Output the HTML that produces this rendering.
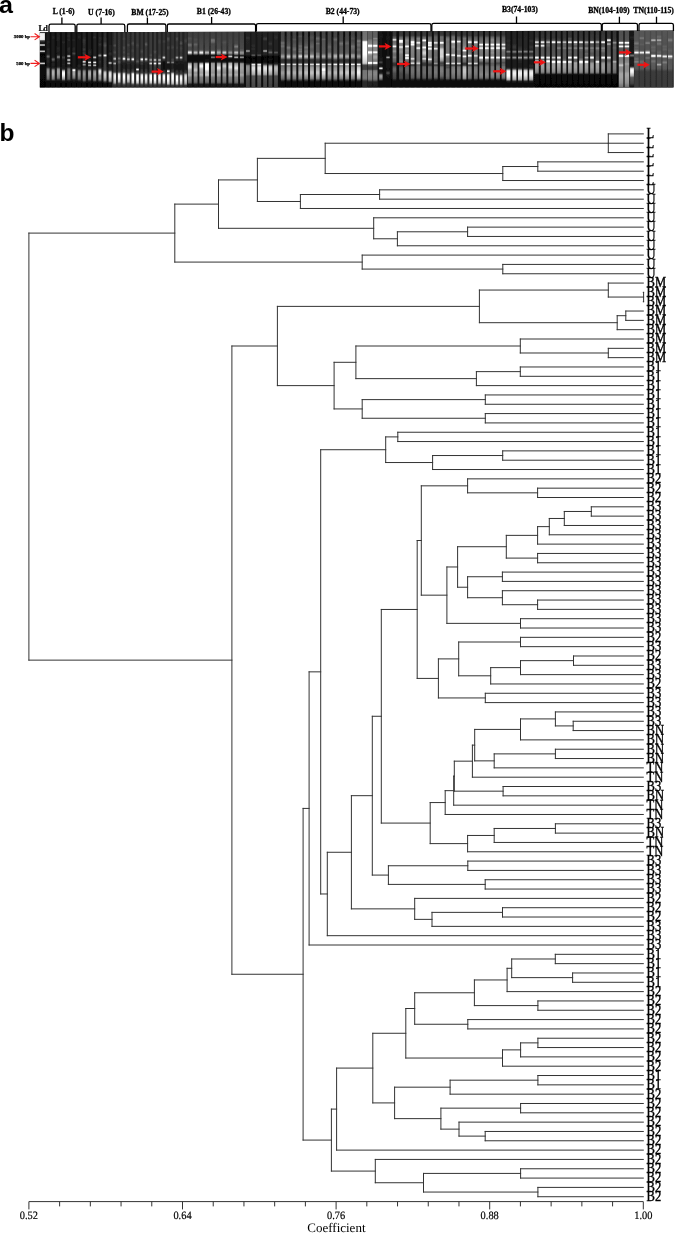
<!DOCTYPE html>
<html><head><meta charset="utf-8"><style>html,body{margin:0;padding:0;background:#fff;width:675px;height:1233px;overflow:hidden}svg{display:block;will-change:transform}text.gp{text-rendering:geometricPrecision}</style></head><body>
<svg width="675" height="1233" viewBox="0 0 675 1233">
<defs><linearGradient id="pg0" x1="0" y1="30.4" x2="0" y2="87.5" gradientUnits="userSpaceOnUse"><stop offset="0.000" stop-color="rgb(5,5,5)"/><stop offset="0.998" stop-color="rgb(5,5,5)"/></linearGradient><linearGradient id="pg1" x1="0" y1="30.4" x2="0" y2="87.5" gradientUnits="userSpaceOnUse"><stop offset="0.000" stop-color="rgb(16,16,16)"/><stop offset="0.490" stop-color="rgb(16,16,16)"/><stop offset="0.525" stop-color="rgb(11,11,11)"/><stop offset="0.595" stop-color="rgb(10,10,10)"/><stop offset="0.630" stop-color="rgb(12,12,12)"/><stop offset="0.665" stop-color="rgb(24,24,24)"/><stop offset="0.841" stop-color="rgb(24,24,24)"/><stop offset="0.876" stop-color="rgb(22,22,22)"/><stop offset="0.911" stop-color="rgb(8,8,8)"/><stop offset="0.928" stop-color="rgb(6,6,6)"/><stop offset="0.998" stop-color="rgb(6,6,6)"/></linearGradient><linearGradient id="pg2" x1="0" y1="30.4" x2="0" y2="87.5" gradientUnits="userSpaceOnUse"><stop offset="0.000" stop-color="rgb(32,32,32)"/><stop offset="0.560" stop-color="rgb(32,32,32)"/><stop offset="0.613" stop-color="rgb(20,20,20)"/><stop offset="0.665" stop-color="rgb(20,20,20)"/><stop offset="0.718" stop-color="rgb(23,23,23)"/><stop offset="0.736" stop-color="rgb(35,35,35)"/><stop offset="0.753" stop-color="rgb(39,39,39)"/><stop offset="0.946" stop-color="rgb(40,40,40)"/><stop offset="0.998" stop-color="rgb(32,32,32)"/></linearGradient><linearGradient id="pg3" x1="0" y1="30.4" x2="0" y2="87.5" gradientUnits="userSpaceOnUse"><stop offset="0.000" stop-color="rgb(52,52,52)"/><stop offset="0.210" stop-color="rgb(52,52,52)"/><stop offset="0.280" stop-color="rgb(46,46,46)"/><stop offset="0.403" stop-color="rgb(51,51,51)"/><stop offset="0.438" stop-color="rgb(14,14,14)"/><stop offset="0.455" stop-color="rgb(12,12,12)"/><stop offset="0.998" stop-color="rgb(12,12,12)"/></linearGradient><linearGradient id="pg4" x1="0" y1="30.4" x2="0" y2="87.5" gradientUnits="userSpaceOnUse"><stop offset="0.000" stop-color="rgb(26,26,26)"/><stop offset="0.298" stop-color="rgb(22,22,22)"/><stop offset="0.420" stop-color="rgb(25,25,25)"/><stop offset="0.455" stop-color="rgb(5,5,5)"/><stop offset="0.473" stop-color="rgb(4,4,4)"/><stop offset="0.560" stop-color="rgb(4,4,4)"/><stop offset="0.595" stop-color="rgb(16,16,16)"/><stop offset="0.998" stop-color="rgb(16,16,16)"/></linearGradient><linearGradient id="pg5" x1="0" y1="30.4" x2="0" y2="87.5" gradientUnits="userSpaceOnUse"><stop offset="0.000" stop-color="rgb(14,14,14)"/><stop offset="0.175" stop-color="rgb(20,20,20)"/><stop offset="0.438" stop-color="rgb(20,20,20)"/><stop offset="0.578" stop-color="rgb(15,15,15)"/><stop offset="0.823" stop-color="rgb(14,14,14)"/><stop offset="0.876" stop-color="rgb(6,6,6)"/><stop offset="0.998" stop-color="rgb(6,6,6)"/></linearGradient><linearGradient id="pg6" x1="0" y1="30.4" x2="0" y2="87.5" gradientUnits="userSpaceOnUse"><stop offset="0.000" stop-color="rgb(45,45,45)"/><stop offset="0.543" stop-color="rgb(45,45,45)"/><stop offset="0.578" stop-color="rgb(39,39,39)"/><stop offset="0.595" stop-color="rgb(28,28,28)"/><stop offset="0.630" stop-color="rgb(20,20,20)"/><stop offset="0.998" stop-color="rgb(20,20,20)"/></linearGradient><linearGradient id="pg7" x1="0" y1="30.4" x2="0" y2="87.5" gradientUnits="userSpaceOnUse"><stop offset="0.000" stop-color="rgb(8,8,8)"/><stop offset="0.998" stop-color="rgb(8,8,8)"/></linearGradient><linearGradient id="pg8" x1="0" y1="30.4" x2="0" y2="87.5" gradientUnits="userSpaceOnUse"><stop offset="0.000" stop-color="rgb(14,14,14)"/><stop offset="0.806" stop-color="rgb(14,14,14)"/><stop offset="0.858" stop-color="rgb(8,8,8)"/><stop offset="0.998" stop-color="rgb(8,8,8)"/></linearGradient><linearGradient id="pg9" x1="0" y1="30.4" x2="0" y2="87.5" gradientUnits="userSpaceOnUse"><stop offset="0.000" stop-color="rgb(14,14,14)"/><stop offset="0.998" stop-color="rgb(14,14,14)"/></linearGradient><linearGradient id="pg10" x1="0" y1="30.4" x2="0" y2="87.5" gradientUnits="userSpaceOnUse"><stop offset="0.000" stop-color="rgb(12,12,12)"/><stop offset="0.736" stop-color="rgb(12,12,12)"/><stop offset="0.788" stop-color="rgb(6,6,6)"/><stop offset="0.998" stop-color="rgb(6,6,6)"/></linearGradient><linearGradient id="pg11" x1="0" y1="30.4" x2="0" y2="87.5" gradientUnits="userSpaceOnUse"><stop offset="0.000" stop-color="rgb(18,18,18)"/><stop offset="0.998" stop-color="rgb(18,18,18)"/></linearGradient><linearGradient id="pg12" x1="0" y1="30.4" x2="0" y2="87.5" gradientUnits="userSpaceOnUse"><stop offset="0.000" stop-color="rgb(72,72,72)"/><stop offset="0.263" stop-color="rgb(72,72,72)"/><stop offset="0.403" stop-color="rgb(63,63,63)"/><stop offset="0.560" stop-color="rgb(61,61,61)"/><stop offset="0.701" stop-color="rgb(41,41,41)"/><stop offset="0.998" stop-color="rgb(40,40,40)"/></linearGradient><linearGradient id="lg0" x1="0" y1="30.4" x2="0" y2="87.5" gradientUnits="userSpaceOnUse"><stop offset="0.000" stop-color="rgb(6,6,6)"/><stop offset="0.026" stop-color="rgb(12,12,12)"/><stop offset="0.035" stop-color="rgb(45,45,45)"/><stop offset="0.044" stop-color="rgb(147,147,147)"/><stop offset="0.053" stop-color="rgb(221,221,221)"/><stop offset="0.061" stop-color="rgb(238,238,238)"/><stop offset="0.114" stop-color="rgb(241,241,241)"/><stop offset="0.158" stop-color="rgb(237,237,237)"/><stop offset="0.166" stop-color="rgb(208,208,208)"/><stop offset="0.175" stop-color="rgb(118,118,118)"/><stop offset="0.184" stop-color="rgb(57,57,57)"/><stop offset="0.201" stop-color="rgb(42,42,42)"/><stop offset="0.219" stop-color="rgb(17,17,17)"/><stop offset="0.228" stop-color="rgb(18,18,18)"/><stop offset="0.236" stop-color="rgb(55,55,55)"/><stop offset="0.245" stop-color="rgb(144,144,144)"/><stop offset="0.254" stop-color="rgb(218,218,218)"/><stop offset="0.263" stop-color="rgb(182,182,182)"/><stop offset="0.271" stop-color="rgb(85,85,85)"/><stop offset="0.280" stop-color="rgb(25,25,25)"/><stop offset="0.289" stop-color="rgb(8,8,8)"/><stop offset="0.333" stop-color="rgb(8,8,8)"/><stop offset="0.342" stop-color="rgb(24,24,24)"/><stop offset="0.350" stop-color="rgb(80,80,80)"/><stop offset="0.359" stop-color="rgb(170,170,170)"/><stop offset="0.368" stop-color="rgb(204,204,204)"/><stop offset="0.377" stop-color="rgb(134,134,134)"/><stop offset="0.385" stop-color="rgb(51,51,51)"/><stop offset="0.394" stop-color="rgb(14,14,14)"/><stop offset="0.412" stop-color="rgb(6,6,6)"/><stop offset="0.543" stop-color="rgb(8,8,8)"/><stop offset="0.552" stop-color="rgb(19,19,19)"/><stop offset="0.560" stop-color="rgb(67,67,67)"/><stop offset="0.569" stop-color="rgb(160,160,160)"/><stop offset="0.578" stop-color="rgb(216,216,216)"/><stop offset="0.587" stop-color="rgb(160,160,160)"/><stop offset="0.595" stop-color="rgb(67,67,67)"/><stop offset="0.604" stop-color="rgb(19,19,19)"/><stop offset="0.613" stop-color="rgb(8,8,8)"/><stop offset="0.998" stop-color="rgb(6,6,6)"/></linearGradient><linearGradient id="lg1" x1="0" y1="30.4" x2="0" y2="87.5" gradientUnits="userSpaceOnUse"><stop offset="0.000" stop-color="rgb(26,26,26)"/><stop offset="0.166" stop-color="rgb(26,26,26)"/><stop offset="0.193" stop-color="rgb(34,34,34)"/><stop offset="0.298" stop-color="rgb(26,26,26)"/><stop offset="0.333" stop-color="rgb(37,37,37)"/><stop offset="0.412" stop-color="rgb(32,32,32)"/><stop offset="0.429" stop-color="rgb(52,52,52)"/><stop offset="0.447" stop-color="rgb(94,94,94)"/><stop offset="0.455" stop-color="rgb(106,106,106)"/><stop offset="0.464" stop-color="rgb(101,101,101)"/><stop offset="0.490" stop-color="rgb(43,43,43)"/><stop offset="0.499" stop-color="rgb(36,36,36)"/><stop offset="0.552" stop-color="rgb(39,39,39)"/><stop offset="0.587" stop-color="rgb(28,28,28)"/><stop offset="0.622" stop-color="rgb(27,27,27)"/><stop offset="0.639" stop-color="rgb(36,36,36)"/><stop offset="0.648" stop-color="rgb(49,49,49)"/><stop offset="0.674" stop-color="rgb(121,121,121)"/><stop offset="0.683" stop-color="rgb(133,133,133)"/><stop offset="0.701" stop-color="rgb(145,145,145)"/><stop offset="0.736" stop-color="rgb(151,151,151)"/><stop offset="0.771" stop-color="rgb(144,144,144)"/><stop offset="0.841" stop-color="rgb(112,112,112)"/><stop offset="0.858" stop-color="rgb(89,89,89)"/><stop offset="0.876" stop-color="rgb(42,42,42)"/><stop offset="0.893" stop-color="rgb(16,16,16)"/><stop offset="0.998" stop-color="rgb(10,10,10)"/></linearGradient><linearGradient id="lg2" x1="0" y1="30.4" x2="0" y2="87.5" gradientUnits="userSpaceOnUse"><stop offset="0.000" stop-color="rgb(26,26,26)"/><stop offset="0.079" stop-color="rgb(26,26,26)"/><stop offset="0.123" stop-color="rgb(37,37,37)"/><stop offset="0.158" stop-color="rgb(28,28,28)"/><stop offset="0.455" stop-color="rgb(27,27,27)"/><stop offset="0.473" stop-color="rgb(35,35,35)"/><stop offset="0.499" stop-color="rgb(88,88,88)"/><stop offset="0.508" stop-color="rgb(97,97,97)"/><stop offset="0.517" stop-color="rgb(90,90,90)"/><stop offset="0.543" stop-color="rgb(44,44,44)"/><stop offset="0.560" stop-color="rgb(31,31,31)"/><stop offset="0.604" stop-color="rgb(36,36,36)"/><stop offset="0.639" stop-color="rgb(29,29,29)"/><stop offset="0.657" stop-color="rgb(37,37,37)"/><stop offset="0.665" stop-color="rgb(53,53,53)"/><stop offset="0.692" stop-color="rgb(140,140,140)"/><stop offset="0.701" stop-color="rgb(156,156,156)"/><stop offset="0.718" stop-color="rgb(170,170,170)"/><stop offset="0.744" stop-color="rgb(176,176,176)"/><stop offset="0.779" stop-color="rgb(167,167,167)"/><stop offset="0.841" stop-color="rgb(130,130,130)"/><stop offset="0.858" stop-color="rgb(101,101,101)"/><stop offset="0.876" stop-color="rgb(46,46,46)"/><stop offset="0.884" stop-color="rgb(26,26,26)"/><stop offset="0.893" stop-color="rgb(17,17,17)"/><stop offset="0.998" stop-color="rgb(10,10,10)"/></linearGradient><linearGradient id="lg3" x1="0" y1="30.4" x2="0" y2="87.5" gradientUnits="userSpaceOnUse"><stop offset="0.000" stop-color="rgb(28,28,28)"/><stop offset="0.149" stop-color="rgb(39,39,39)"/><stop offset="0.193" stop-color="rgb(28,28,28)"/><stop offset="0.263" stop-color="rgb(28,28,28)"/><stop offset="0.315" stop-color="rgb(37,37,37)"/><stop offset="0.412" stop-color="rgb(29,29,29)"/><stop offset="0.429" stop-color="rgb(38,38,38)"/><stop offset="0.438" stop-color="rgb(54,54,54)"/><stop offset="0.455" stop-color="rgb(107,107,107)"/><stop offset="0.464" stop-color="rgb(123,123,123)"/><stop offset="0.473" stop-color="rgb(116,116,116)"/><stop offset="0.490" stop-color="rgb(63,63,63)"/><stop offset="0.508" stop-color="rgb(33,33,33)"/><stop offset="0.622" stop-color="rgb(29,29,29)"/><stop offset="0.639" stop-color="rgb(38,38,38)"/><stop offset="0.648" stop-color="rgb(53,53,53)"/><stop offset="0.674" stop-color="rgb(131,131,131)"/><stop offset="0.683" stop-color="rgb(145,145,145)"/><stop offset="0.701" stop-color="rgb(158,158,158)"/><stop offset="0.727" stop-color="rgb(163,163,163)"/><stop offset="0.762" stop-color="rgb(155,155,155)"/><stop offset="0.823" stop-color="rgb(122,122,122)"/><stop offset="0.841" stop-color="rgb(99,99,99)"/><stop offset="0.867" stop-color="rgb(37,37,37)"/><stop offset="0.893" stop-color="rgb(16,16,16)"/><stop offset="0.998" stop-color="rgb(10,10,10)"/></linearGradient><linearGradient id="lg4" x1="0" y1="30.4" x2="0" y2="87.5" gradientUnits="userSpaceOnUse"><stop offset="0.000" stop-color="rgb(26,26,26)"/><stop offset="0.166" stop-color="rgb(26,26,26)"/><stop offset="0.210" stop-color="rgb(38,38,38)"/><stop offset="0.245" stop-color="rgb(26,26,26)"/><stop offset="0.420" stop-color="rgb(26,26,26)"/><stop offset="0.438" stop-color="rgb(30,30,30)"/><stop offset="0.473" stop-color="rgb(66,66,66)"/><stop offset="0.517" stop-color="rgb(28,28,28)"/><stop offset="0.578" stop-color="rgb(27,27,27)"/><stop offset="0.604" stop-color="rgb(37,37,37)"/><stop offset="0.622" stop-color="rgb(27,27,27)"/><stop offset="0.657" stop-color="rgb(28,28,28)"/><stop offset="0.674" stop-color="rgb(42,42,42)"/><stop offset="0.683" stop-color="rgb(64,64,64)"/><stop offset="0.709" stop-color="rgb(188,188,188)"/><stop offset="0.718" stop-color="rgb(213,213,213)"/><stop offset="0.736" stop-color="rgb(242,242,242)"/><stop offset="0.762" stop-color="rgb(255,255,255)"/><stop offset="0.797" stop-color="rgb(230,230,230)"/><stop offset="0.849" stop-color="rgb(160,160,160)"/><stop offset="0.858" stop-color="rgb(135,135,135)"/><stop offset="0.876" stop-color="rgb(63,63,63)"/><stop offset="0.884" stop-color="rgb(37,37,37)"/><stop offset="0.893" stop-color="rgb(23,23,23)"/><stop offset="0.919" stop-color="rgb(11,11,11)"/><stop offset="0.998" stop-color="rgb(10,10,10)"/></linearGradient><linearGradient id="lg5" x1="0" y1="30.4" x2="0" y2="87.5" gradientUnits="userSpaceOnUse"><stop offset="0.000" stop-color="rgb(30,30,30)"/><stop offset="0.105" stop-color="rgb(39,39,39)"/><stop offset="0.149" stop-color="rgb(32,32,32)"/><stop offset="0.166" stop-color="rgb(42,42,42)"/><stop offset="0.193" stop-color="rgb(31,31,31)"/><stop offset="0.280" stop-color="rgb(30,30,30)"/><stop offset="0.324" stop-color="rgb(45,45,45)"/><stop offset="0.412" stop-color="rgb(30,30,30)"/><stop offset="0.420" stop-color="rgb(35,35,35)"/><stop offset="0.429" stop-color="rgb(60,60,60)"/><stop offset="0.447" stop-color="rgb(199,199,199)"/><stop offset="0.455" stop-color="rgb(190,190,190)"/><stop offset="0.464" stop-color="rgb(113,113,113)"/><stop offset="0.473" stop-color="rgb(54,54,54)"/><stop offset="0.482" stop-color="rgb(35,35,35)"/><stop offset="0.490" stop-color="rgb(39,39,39)"/><stop offset="0.499" stop-color="rgb(75,75,75)"/><stop offset="0.508" stop-color="rgb(158,158,158)"/><stop offset="0.517" stop-color="rgb(228,228,228)"/><stop offset="0.525" stop-color="rgb(194,194,194)"/><stop offset="0.534" stop-color="rgb(104,104,104)"/><stop offset="0.543" stop-color="rgb(50,50,50)"/><stop offset="0.552" stop-color="rgb(47,47,47)"/><stop offset="0.560" stop-color="rgb(89,89,89)"/><stop offset="0.569" stop-color="rgb(161,161,161)"/><stop offset="0.578" stop-color="rgb(188,188,188)"/><stop offset="0.587" stop-color="rgb(133,133,133)"/><stop offset="0.595" stop-color="rgb(66,66,66)"/><stop offset="0.604" stop-color="rgb(37,37,37)"/><stop offset="0.613" stop-color="rgb(31,31,31)"/><stop offset="0.639" stop-color="rgb(37,37,37)"/><stop offset="0.648" stop-color="rgb(47,47,47)"/><stop offset="0.674" stop-color="rgb(102,102,102)"/><stop offset="0.683" stop-color="rgb(112,112,112)"/><stop offset="0.736" stop-color="rgb(125,125,125)"/><stop offset="0.841" stop-color="rgb(95,95,95)"/><stop offset="0.858" stop-color="rgb(77,77,77)"/><stop offset="0.884" stop-color="rgb(26,26,26)"/><stop offset="0.902" stop-color="rgb(13,13,13)"/><stop offset="0.998" stop-color="rgb(10,10,10)"/></linearGradient><linearGradient id="lg6" x1="0" y1="30.4" x2="0" y2="87.5" gradientUnits="userSpaceOnUse"><stop offset="0.000" stop-color="rgb(28,28,28)"/><stop offset="0.140" stop-color="rgb(29,29,29)"/><stop offset="0.166" stop-color="rgb(38,38,38)"/><stop offset="0.201" stop-color="rgb(28,28,28)"/><stop offset="0.289" stop-color="rgb(29,29,29)"/><stop offset="0.324" stop-color="rgb(39,39,39)"/><stop offset="0.368" stop-color="rgb(31,31,31)"/><stop offset="0.377" stop-color="rgb(36,36,36)"/><stop offset="0.403" stop-color="rgb(73,73,73)"/><stop offset="0.412" stop-color="rgb(68,68,68)"/><stop offset="0.429" stop-color="rgb(40,40,40)"/><stop offset="0.447" stop-color="rgb(29,29,29)"/><stop offset="0.648" stop-color="rgb(29,29,29)"/><stop offset="0.657" stop-color="rgb(32,32,32)"/><stop offset="0.665" stop-color="rgb(47,47,47)"/><stop offset="0.674" stop-color="rgb(95,95,95)"/><stop offset="0.683" stop-color="rgb(186,186,186)"/><stop offset="0.692" stop-color="rgb(255,255,255)"/><stop offset="0.701" stop-color="rgb(255,255,255)"/><stop offset="0.718" stop-color="rgb(178,178,178)"/><stop offset="0.727" stop-color="rgb(165,165,165)"/><stop offset="0.771" stop-color="rgb(163,163,163)"/><stop offset="0.823" stop-color="rgb(128,128,128)"/><stop offset="0.841" stop-color="rgb(102,102,102)"/><stop offset="0.858" stop-color="rgb(55,55,55)"/><stop offset="0.876" stop-color="rgb(28,28,28)"/><stop offset="0.911" stop-color="rgb(11,11,11)"/><stop offset="0.998" stop-color="rgb(10,10,10)"/></linearGradient><linearGradient id="lg7" x1="0" y1="30.4" x2="0" y2="87.5" gradientUnits="userSpaceOnUse"><stop offset="0.000" stop-color="rgb(24,24,24)"/><stop offset="0.061" stop-color="rgb(25,25,25)"/><stop offset="0.114" stop-color="rgb(36,36,36)"/><stop offset="0.166" stop-color="rgb(24,24,24)"/><stop offset="0.578" stop-color="rgb(24,24,24)"/><stop offset="0.622" stop-color="rgb(36,36,36)"/><stop offset="0.657" stop-color="rgb(26,26,26)"/><stop offset="0.674" stop-color="rgb(33,33,33)"/><stop offset="0.683" stop-color="rgb(47,47,47)"/><stop offset="0.709" stop-color="rgb(120,120,120)"/><stop offset="0.718" stop-color="rgb(133,133,133)"/><stop offset="0.753" stop-color="rgb(149,149,149)"/><stop offset="0.788" stop-color="rgb(141,141,141)"/><stop offset="0.841" stop-color="rgb(112,112,112)"/><stop offset="0.858" stop-color="rgb(89,89,89)"/><stop offset="0.884" stop-color="rgb(30,30,30)"/><stop offset="0.902" stop-color="rgb(15,15,15)"/><stop offset="0.998" stop-color="rgb(10,10,10)"/></linearGradient><linearGradient id="lg8" x1="0" y1="30.4" x2="0" y2="87.5" gradientUnits="userSpaceOnUse"><stop offset="0.000" stop-color="rgb(34,34,34)"/><stop offset="0.105" stop-color="rgb(35,35,35)"/><stop offset="0.175" stop-color="rgb(52,52,52)"/><stop offset="0.298" stop-color="rgb(40,40,40)"/><stop offset="0.333" stop-color="rgb(56,56,56)"/><stop offset="0.368" stop-color="rgb(42,42,42)"/><stop offset="0.403" stop-color="rgb(55,55,55)"/><stop offset="0.429" stop-color="rgb(41,41,41)"/><stop offset="0.517" stop-color="rgb(42,42,42)"/><stop offset="0.525" stop-color="rgb(58,58,58)"/><stop offset="0.534" stop-color="rgb(114,114,114)"/><stop offset="0.543" stop-color="rgb(204,204,204)"/><stop offset="0.552" stop-color="rgb(238,238,238)"/><stop offset="0.560" stop-color="rgb(168,168,168)"/><stop offset="0.569" stop-color="rgb(87,87,87)"/><stop offset="0.578" stop-color="rgb(63,63,63)"/><stop offset="0.587" stop-color="rgb(95,95,95)"/><stop offset="0.595" stop-color="rgb(147,147,147)"/><stop offset="0.604" stop-color="rgb(154,154,154)"/><stop offset="0.622" stop-color="rgb(60,60,60)"/><stop offset="0.630" stop-color="rgb(43,43,43)"/><stop offset="0.639" stop-color="rgb(40,40,40)"/><stop offset="0.674" stop-color="rgb(48,48,48)"/><stop offset="0.683" stop-color="rgb(60,60,60)"/><stop offset="0.709" stop-color="rgb(124,124,124)"/><stop offset="0.718" stop-color="rgb(135,135,135)"/><stop offset="0.744" stop-color="rgb(148,148,148)"/><stop offset="0.771" stop-color="rgb(149,149,149)"/><stop offset="0.858" stop-color="rgb(116,116,116)"/><stop offset="0.876" stop-color="rgb(95,95,95)"/><stop offset="0.902" stop-color="rgb(32,32,32)"/><stop offset="0.919" stop-color="rgb(14,14,14)"/><stop offset="0.998" stop-color="rgb(10,10,10)"/></linearGradient><linearGradient id="lg9" x1="0" y1="30.4" x2="0" y2="87.5" gradientUnits="userSpaceOnUse"><stop offset="0.000" stop-color="rgb(30,30,30)"/><stop offset="0.324" stop-color="rgb(30,30,30)"/><stop offset="0.385" stop-color="rgb(41,41,41)"/><stop offset="0.429" stop-color="rgb(30,30,30)"/><stop offset="0.525" stop-color="rgb(32,32,32)"/><stop offset="0.534" stop-color="rgb(44,44,44)"/><stop offset="0.543" stop-color="rgb(95,95,95)"/><stop offset="0.552" stop-color="rgb(195,195,195)"/><stop offset="0.560" stop-color="rgb(255,255,255)"/><stop offset="0.569" stop-color="rgb(195,195,195)"/><stop offset="0.578" stop-color="rgb(97,97,97)"/><stop offset="0.587" stop-color="rgb(57,57,57)"/><stop offset="0.595" stop-color="rgb(87,87,87)"/><stop offset="0.604" stop-color="rgb(153,153,153)"/><stop offset="0.613" stop-color="rgb(178,178,178)"/><stop offset="0.622" stop-color="rgb(126,126,126)"/><stop offset="0.630" stop-color="rgb(64,64,64)"/><stop offset="0.639" stop-color="rgb(37,37,37)"/><stop offset="0.648" stop-color="rgb(31,31,31)"/><stop offset="0.665" stop-color="rgb(34,34,34)"/><stop offset="0.683" stop-color="rgb(55,55,55)"/><stop offset="0.709" stop-color="rgb(137,137,137)"/><stop offset="0.718" stop-color="rgb(152,152,152)"/><stop offset="0.736" stop-color="rgb(166,166,166)"/><stop offset="0.762" stop-color="rgb(170,170,170)"/><stop offset="0.797" stop-color="rgb(157,157,157)"/><stop offset="0.841" stop-color="rgb(129,129,129)"/><stop offset="0.858" stop-color="rgb(104,104,104)"/><stop offset="0.884" stop-color="rgb(40,40,40)"/><stop offset="0.902" stop-color="rgb(22,22,22)"/><stop offset="0.928" stop-color="rgb(11,11,11)"/><stop offset="0.998" stop-color="rgb(10,10,10)"/></linearGradient><linearGradient id="lg10" x1="0" y1="30.4" x2="0" y2="87.5" gradientUnits="userSpaceOnUse"><stop offset="0.000" stop-color="rgb(32,32,32)"/><stop offset="0.088" stop-color="rgb(33,33,33)"/><stop offset="0.123" stop-color="rgb(47,47,47)"/><stop offset="0.158" stop-color="rgb(32,32,32)"/><stop offset="0.429" stop-color="rgb(33,33,33)"/><stop offset="0.438" stop-color="rgb(37,37,37)"/><stop offset="0.447" stop-color="rgb(53,53,53)"/><stop offset="0.455" stop-color="rgb(97,97,97)"/><stop offset="0.464" stop-color="rgb(164,164,164)"/><stop offset="0.473" stop-color="rgb(199,199,199)"/><stop offset="0.482" stop-color="rgb(162,162,162)"/><stop offset="0.490" stop-color="rgb(94,94,94)"/><stop offset="0.499" stop-color="rgb(51,51,51)"/><stop offset="0.508" stop-color="rgb(36,36,36)"/><stop offset="0.525" stop-color="rgb(34,34,34)"/><stop offset="0.534" stop-color="rgb(46,46,46)"/><stop offset="0.543" stop-color="rgb(97,97,97)"/><stop offset="0.552" stop-color="rgb(197,197,197)"/><stop offset="0.560" stop-color="rgb(255,255,255)"/><stop offset="0.569" stop-color="rgb(197,197,197)"/><stop offset="0.578" stop-color="rgb(99,99,99)"/><stop offset="0.587" stop-color="rgb(61,61,61)"/><stop offset="0.595" stop-color="rgb(96,96,96)"/><stop offset="0.604" stop-color="rgb(172,172,172)"/><stop offset="0.613" stop-color="rgb(200,200,200)"/><stop offset="0.622" stop-color="rgb(141,141,141)"/><stop offset="0.630" stop-color="rgb(70,70,70)"/><stop offset="0.639" stop-color="rgb(39,39,39)"/><stop offset="0.648" stop-color="rgb(33,33,33)"/><stop offset="0.665" stop-color="rgb(36,36,36)"/><stop offset="0.683" stop-color="rgb(56,56,56)"/><stop offset="0.709" stop-color="rgb(131,131,131)"/><stop offset="0.718" stop-color="rgb(144,144,144)"/><stop offset="0.744" stop-color="rgb(160,160,160)"/><stop offset="0.771" stop-color="rgb(161,161,161)"/><stop offset="0.858" stop-color="rgb(122,122,122)"/><stop offset="0.876" stop-color="rgb(97,97,97)"/><stop offset="0.893" stop-color="rgb(47,47,47)"/><stop offset="0.911" stop-color="rgb(18,18,18)"/><stop offset="0.928" stop-color="rgb(11,11,11)"/><stop offset="0.998" stop-color="rgb(10,10,10)"/></linearGradient><linearGradient id="lg11" x1="0" y1="30.4" x2="0" y2="87.5" gradientUnits="userSpaceOnUse"><stop offset="0.000" stop-color="rgb(34,34,34)"/><stop offset="0.096" stop-color="rgb(34,34,34)"/><stop offset="0.131" stop-color="rgb(42,42,42)"/><stop offset="0.210" stop-color="rgb(35,35,35)"/><stop offset="0.245" stop-color="rgb(49,49,49)"/><stop offset="0.289" stop-color="rgb(35,35,35)"/><stop offset="0.394" stop-color="rgb(34,34,34)"/><stop offset="0.412" stop-color="rgb(47,47,47)"/><stop offset="0.438" stop-color="rgb(143,143,143)"/><stop offset="0.447" stop-color="rgb(130,130,130)"/><stop offset="0.464" stop-color="rgb(56,56,56)"/><stop offset="0.473" stop-color="rgb(40,40,40)"/><stop offset="0.517" stop-color="rgb(35,35,35)"/><stop offset="0.543" stop-color="rgb(46,46,46)"/><stop offset="0.604" stop-color="rgb(34,34,34)"/><stop offset="0.639" stop-color="rgb(36,36,36)"/><stop offset="0.657" stop-color="rgb(48,48,48)"/><stop offset="0.665" stop-color="rgb(70,70,70)"/><stop offset="0.692" stop-color="rgb(192,192,192)"/><stop offset="0.701" stop-color="rgb(215,215,215)"/><stop offset="0.718" stop-color="rgb(232,232,232)"/><stop offset="0.744" stop-color="rgb(219,219,219)"/><stop offset="0.797" stop-color="rgb(152,152,152)"/><stop offset="0.832" stop-color="rgb(154,154,154)"/><stop offset="0.849" stop-color="rgb(142,142,142)"/><stop offset="0.867" stop-color="rgb(116,116,116)"/><stop offset="0.893" stop-color="rgb(47,47,47)"/><stop offset="0.911" stop-color="rgb(19,19,19)"/><stop offset="0.937" stop-color="rgb(11,11,11)"/><stop offset="0.998" stop-color="rgb(10,10,10)"/></linearGradient><linearGradient id="lg12" x1="0" y1="30.4" x2="0" y2="87.5" gradientUnits="userSpaceOnUse"><stop offset="0.000" stop-color="rgb(42,42,42)"/><stop offset="0.193" stop-color="rgb(50,50,50)"/><stop offset="0.263" stop-color="rgb(81,81,81)"/><stop offset="0.306" stop-color="rgb(60,60,60)"/><stop offset="0.403" stop-color="rgb(63,63,63)"/><stop offset="0.412" stop-color="rgb(77,77,77)"/><stop offset="0.420" stop-color="rgb(126,126,126)"/><stop offset="0.429" stop-color="rgb(213,213,213)"/><stop offset="0.438" stop-color="rgb(255,255,255)"/><stop offset="0.447" stop-color="rgb(247,247,247)"/><stop offset="0.455" stop-color="rgb(158,158,158)"/><stop offset="0.464" stop-color="rgb(91,91,91)"/><stop offset="0.473" stop-color="rgb(66,66,66)"/><stop offset="0.482" stop-color="rgb(61,61,61)"/><stop offset="0.683" stop-color="rgb(64,64,64)"/><stop offset="0.701" stop-color="rgb(87,87,87)"/><stop offset="0.727" stop-color="rgb(175,175,175)"/><stop offset="0.736" stop-color="rgb(191,191,191)"/><stop offset="0.753" stop-color="rgb(205,205,205)"/><stop offset="0.779" stop-color="rgb(209,209,209)"/><stop offset="0.823" stop-color="rgb(191,191,191)"/><stop offset="0.867" stop-color="rgb(155,155,155)"/><stop offset="0.876" stop-color="rgb(137,137,137)"/><stop offset="0.902" stop-color="rgb(59,59,59)"/><stop offset="0.928" stop-color="rgb(19,19,19)"/><stop offset="0.998" stop-color="rgb(12,12,12)"/></linearGradient><linearGradient id="lg13" x1="0" y1="30.4" x2="0" y2="87.5" gradientUnits="userSpaceOnUse"><stop offset="0.000" stop-color="rgb(30,30,30)"/><stop offset="0.254" stop-color="rgb(30,30,30)"/><stop offset="0.289" stop-color="rgb(37,37,37)"/><stop offset="0.368" stop-color="rgb(30,30,30)"/><stop offset="0.412" stop-color="rgb(49,49,49)"/><stop offset="0.447" stop-color="rgb(30,30,30)"/><stop offset="0.534" stop-color="rgb(32,32,32)"/><stop offset="0.543" stop-color="rgb(43,43,43)"/><stop offset="0.552" stop-color="rgb(81,81,81)"/><stop offset="0.560" stop-color="rgb(149,149,149)"/><stop offset="0.569" stop-color="rgb(198,198,198)"/><stop offset="0.578" stop-color="rgb(175,175,175)"/><stop offset="0.587" stop-color="rgb(106,106,106)"/><stop offset="0.595" stop-color="rgb(54,54,54)"/><stop offset="0.604" stop-color="rgb(35,35,35)"/><stop offset="0.674" stop-color="rgb(32,32,32)"/><stop offset="0.692" stop-color="rgb(45,45,45)"/><stop offset="0.701" stop-color="rgb(67,67,67)"/><stop offset="0.727" stop-color="rgb(182,182,182)"/><stop offset="0.736" stop-color="rgb(203,203,203)"/><stop offset="0.753" stop-color="rgb(222,222,222)"/><stop offset="0.779" stop-color="rgb(230,230,230)"/><stop offset="0.814" stop-color="rgb(218,218,218)"/><stop offset="0.876" stop-color="rgb(169,169,169)"/><stop offset="0.884" stop-color="rgb(155,155,155)"/><stop offset="0.893" stop-color="rgb(131,131,131)"/><stop offset="0.911" stop-color="rgb(57,57,57)"/><stop offset="0.919" stop-color="rgb(32,32,32)"/><stop offset="0.928" stop-color="rgb(20,20,20)"/><stop offset="0.998" stop-color="rgb(12,12,12)"/></linearGradient><linearGradient id="lg14" x1="0" y1="30.4" x2="0" y2="87.5" gradientUnits="userSpaceOnUse"><stop offset="0.000" stop-color="rgb(52,52,52)"/><stop offset="0.236" stop-color="rgb(53,53,53)"/><stop offset="0.263" stop-color="rgb(77,77,77)"/><stop offset="0.298" stop-color="rgb(52,52,52)"/><stop offset="0.342" stop-color="rgb(53,53,53)"/><stop offset="0.385" stop-color="rgb(73,73,73)"/><stop offset="0.420" stop-color="rgb(56,56,56)"/><stop offset="0.447" stop-color="rgb(54,54,54)"/><stop offset="0.464" stop-color="rgb(72,72,72)"/><stop offset="0.473" stop-color="rgb(99,99,99)"/><stop offset="0.490" stop-color="rgb(179,179,179)"/><stop offset="0.499" stop-color="rgb(186,186,186)"/><stop offset="0.508" stop-color="rgb(155,155,155)"/><stop offset="0.517" stop-color="rgb(108,108,108)"/><stop offset="0.525" stop-color="rgb(74,74,74)"/><stop offset="0.534" stop-color="rgb(59,59,59)"/><stop offset="0.543" stop-color="rgb(56,56,56)"/><stop offset="0.552" stop-color="rgb(64,64,64)"/><stop offset="0.560" stop-color="rgb(92,92,92)"/><stop offset="0.569" stop-color="rgb(141,141,141)"/><stop offset="0.578" stop-color="rgb(175,175,175)"/><stop offset="0.587" stop-color="rgb(158,158,158)"/><stop offset="0.595" stop-color="rgb(109,109,109)"/><stop offset="0.604" stop-color="rgb(72,72,72)"/><stop offset="0.613" stop-color="rgb(57,57,57)"/><stop offset="0.709" stop-color="rgb(55,55,55)"/><stop offset="0.727" stop-color="rgb(72,72,72)"/><stop offset="0.736" stop-color="rgb(98,98,98)"/><stop offset="0.753" stop-color="rgb(175,175,175)"/><stop offset="0.762" stop-color="rgb(202,202,202)"/><stop offset="0.771" stop-color="rgb(217,217,217)"/><stop offset="0.788" stop-color="rgb(232,232,232)"/><stop offset="0.814" stop-color="rgb(237,237,237)"/><stop offset="0.849" stop-color="rgb(224,224,224)"/><stop offset="0.902" stop-color="rgb(186,186,186)"/><stop offset="0.919" stop-color="rgb(162,162,162)"/><stop offset="0.946" stop-color="rgb(76,76,76)"/><stop offset="0.954" stop-color="rgb(60,60,60)"/><stop offset="0.972" stop-color="rgb(48,48,48)"/><stop offset="0.998" stop-color="rgb(45,45,45)"/></linearGradient><linearGradient id="lg15" x1="0" y1="30.4" x2="0" y2="87.5" gradientUnits="userSpaceOnUse"><stop offset="0.000" stop-color="rgb(54,54,54)"/><stop offset="0.447" stop-color="rgb(55,55,55)"/><stop offset="0.464" stop-color="rgb(64,64,64)"/><stop offset="0.490" stop-color="rgb(114,114,114)"/><stop offset="0.499" stop-color="rgb(108,108,108)"/><stop offset="0.517" stop-color="rgb(73,73,73)"/><stop offset="0.525" stop-color="rgb(67,67,67)"/><stop offset="0.552" stop-color="rgb(88,88,88)"/><stop offset="0.595" stop-color="rgb(56,56,56)"/><stop offset="0.709" stop-color="rgb(57,57,57)"/><stop offset="0.727" stop-color="rgb(76,76,76)"/><stop offset="0.736" stop-color="rgb(104,104,104)"/><stop offset="0.753" stop-color="rgb(188,188,188)"/><stop offset="0.762" stop-color="rgb(217,217,217)"/><stop offset="0.779" stop-color="rgb(244,244,244)"/><stop offset="0.806" stop-color="rgb(254,254,254)"/><stop offset="0.841" stop-color="rgb(239,239,239)"/><stop offset="0.893" stop-color="rgb(191,191,191)"/><stop offset="0.902" stop-color="rgb(174,174,174)"/><stop offset="0.928" stop-color="rgb(84,84,84)"/><stop offset="0.937" stop-color="rgb(66,66,66)"/><stop offset="0.963" stop-color="rgb(50,50,50)"/><stop offset="0.998" stop-color="rgb(45,45,45)"/></linearGradient><linearGradient id="lg16" x1="0" y1="30.4" x2="0" y2="87.5" gradientUnits="userSpaceOnUse"><stop offset="0.000" stop-color="rgb(56,56,56)"/><stop offset="0.114" stop-color="rgb(56,56,56)"/><stop offset="0.149" stop-color="rgb(66,66,66)"/><stop offset="0.175" stop-color="rgb(57,57,57)"/><stop offset="0.263" stop-color="rgb(56,56,56)"/><stop offset="0.306" stop-color="rgb(74,74,74)"/><stop offset="0.350" stop-color="rgb(61,61,61)"/><stop offset="0.385" stop-color="rgb(74,74,74)"/><stop offset="0.412" stop-color="rgb(59,59,59)"/><stop offset="0.438" stop-color="rgb(60,60,60)"/><stop offset="0.464" stop-color="rgb(89,89,89)"/><stop offset="0.473" stop-color="rgb(121,121,121)"/><stop offset="0.490" stop-color="rgb(238,238,238)"/><stop offset="0.499" stop-color="rgb(255,255,255)"/><stop offset="0.508" stop-color="rgb(212,212,212)"/><stop offset="0.517" stop-color="rgb(142,142,142)"/><stop offset="0.525" stop-color="rgb(90,90,90)"/><stop offset="0.534" stop-color="rgb(65,65,65)"/><stop offset="0.569" stop-color="rgb(35,35,35)"/><stop offset="0.665" stop-color="rgb(36,36,36)"/><stop offset="0.683" stop-color="rgb(52,52,52)"/><stop offset="0.718" stop-color="rgb(65,65,65)"/><stop offset="0.727" stop-color="rgb(78,78,78)"/><stop offset="0.736" stop-color="rgb(106,106,106)"/><stop offset="0.753" stop-color="rgb(189,189,189)"/><stop offset="0.762" stop-color="rgb(218,218,218)"/><stop offset="0.779" stop-color="rgb(244,244,244)"/><stop offset="0.814" stop-color="rgb(255,255,255)"/><stop offset="0.849" stop-color="rgb(242,242,242)"/><stop offset="0.902" stop-color="rgb(201,201,201)"/><stop offset="0.919" stop-color="rgb(175,175,175)"/><stop offset="0.946" stop-color="rgb(82,82,82)"/><stop offset="0.954" stop-color="rgb(63,63,63)"/><stop offset="0.972" stop-color="rgb(49,49,49)"/><stop offset="0.998" stop-color="rgb(45,45,45)"/></linearGradient><linearGradient id="lg17" x1="0" y1="30.4" x2="0" y2="87.5" gradientUnits="userSpaceOnUse"><stop offset="0.000" stop-color="rgb(54,54,54)"/><stop offset="0.219" stop-color="rgb(54,54,54)"/><stop offset="0.236" stop-color="rgb(59,59,59)"/><stop offset="0.254" stop-color="rgb(74,74,74)"/><stop offset="0.289" stop-color="rgb(54,54,54)"/><stop offset="0.385" stop-color="rgb(55,55,55)"/><stop offset="0.412" stop-color="rgb(71,71,71)"/><stop offset="0.438" stop-color="rgb(61,61,61)"/><stop offset="0.473" stop-color="rgb(81,81,81)"/><stop offset="0.482" stop-color="rgb(100,100,100)"/><stop offset="0.499" stop-color="rgb(181,181,181)"/><stop offset="0.508" stop-color="rgb(194,194,194)"/><stop offset="0.517" stop-color="rgb(163,163,163)"/><stop offset="0.525" stop-color="rgb(114,114,114)"/><stop offset="0.534" stop-color="rgb(77,77,77)"/><stop offset="0.552" stop-color="rgb(48,48,48)"/><stop offset="0.560" stop-color="rgb(41,41,41)"/><stop offset="0.578" stop-color="rgb(48,48,48)"/><stop offset="0.604" stop-color="rgb(37,37,37)"/><stop offset="0.665" stop-color="rgb(37,37,37)"/><stop offset="0.683" stop-color="rgb(51,51,51)"/><stop offset="0.736" stop-color="rgb(62,62,62)"/><stop offset="0.744" stop-color="rgb(73,73,73)"/><stop offset="0.753" stop-color="rgb(98,98,98)"/><stop offset="0.771" stop-color="rgb(175,175,175)"/><stop offset="0.779" stop-color="rgb(202,202,202)"/><stop offset="0.797" stop-color="rgb(227,227,227)"/><stop offset="0.814" stop-color="rgb(234,234,234)"/><stop offset="0.849" stop-color="rgb(220,220,220)"/><stop offset="0.893" stop-color="rgb(178,178,178)"/><stop offset="0.902" stop-color="rgb(163,163,163)"/><stop offset="0.928" stop-color="rgb(81,81,81)"/><stop offset="0.937" stop-color="rgb(65,65,65)"/><stop offset="0.963" stop-color="rgb(50,50,50)"/><stop offset="0.998" stop-color="rgb(45,45,45)"/></linearGradient><linearGradient id="lg18" x1="0" y1="30.4" x2="0" y2="87.5" gradientUnits="userSpaceOnUse"><stop offset="0.000" stop-color="rgb(56,56,56)"/><stop offset="0.184" stop-color="rgb(57,57,57)"/><stop offset="0.228" stop-color="rgb(77,77,77)"/><stop offset="0.280" stop-color="rgb(56,56,56)"/><stop offset="0.324" stop-color="rgb(56,56,56)"/><stop offset="0.359" stop-color="rgb(69,69,69)"/><stop offset="0.394" stop-color="rgb(57,57,57)"/><stop offset="0.455" stop-color="rgb(58,58,58)"/><stop offset="0.473" stop-color="rgb(79,79,79)"/><stop offset="0.482" stop-color="rgb(114,114,114)"/><stop offset="0.499" stop-color="rgb(231,231,231)"/><stop offset="0.508" stop-color="rgb(246,246,246)"/><stop offset="0.517" stop-color="rgb(204,204,204)"/><stop offset="0.525" stop-color="rgb(138,138,138)"/><stop offset="0.534" stop-color="rgb(88,88,88)"/><stop offset="0.543" stop-color="rgb(63,63,63)"/><stop offset="0.552" stop-color="rgb(51,51,51)"/><stop offset="0.569" stop-color="rgb(39,39,39)"/><stop offset="0.665" stop-color="rgb(40,40,40)"/><stop offset="0.683" stop-color="rgb(53,53,53)"/><stop offset="0.709" stop-color="rgb(59,59,59)"/><stop offset="0.727" stop-color="rgb(80,80,80)"/><stop offset="0.736" stop-color="rgb(111,111,111)"/><stop offset="0.753" stop-color="rgb(203,203,203)"/><stop offset="0.762" stop-color="rgb(234,234,234)"/><stop offset="0.771" stop-color="rgb(252,252,252)"/><stop offset="0.849" stop-color="rgb(255,255,255)"/><stop offset="0.867" stop-color="rgb(247,247,247)"/><stop offset="0.911" stop-color="rgb(205,205,205)"/><stop offset="0.919" stop-color="rgb(187,187,187)"/><stop offset="0.946" stop-color="rgb(85,85,85)"/><stop offset="0.954" stop-color="rgb(64,64,64)"/><stop offset="0.972" stop-color="rgb(49,49,49)"/><stop offset="0.998" stop-color="rgb(45,45,45)"/></linearGradient><linearGradient id="lg19" x1="0" y1="30.4" x2="0" y2="87.5" gradientUnits="userSpaceOnUse"><stop offset="0.000" stop-color="rgb(56,56,56)"/><stop offset="0.219" stop-color="rgb(56,56,56)"/><stop offset="0.263" stop-color="rgb(67,67,67)"/><stop offset="0.306" stop-color="rgb(56,56,56)"/><stop offset="0.490" stop-color="rgb(56,56,56)"/><stop offset="0.508" stop-color="rgb(61,61,61)"/><stop offset="0.543" stop-color="rgb(87,87,87)"/><stop offset="0.587" stop-color="rgb(42,42,42)"/><stop offset="0.639" stop-color="rgb(38,38,38)"/><stop offset="0.648" stop-color="rgb(42,42,42)"/><stop offset="0.657" stop-color="rgb(61,61,61)"/><stop offset="0.665" stop-color="rgb(113,113,113)"/><stop offset="0.674" stop-color="rgb(195,195,195)"/><stop offset="0.683" stop-color="rgb(254,254,254)"/><stop offset="0.692" stop-color="rgb(226,226,226)"/><stop offset="0.701" stop-color="rgb(145,145,145)"/><stop offset="0.709" stop-color="rgb(85,85,85)"/><stop offset="0.718" stop-color="rgb(63,63,63)"/><stop offset="0.727" stop-color="rgb(60,60,60)"/><stop offset="0.744" stop-color="rgb(80,80,80)"/><stop offset="0.753" stop-color="rgb(111,111,111)"/><stop offset="0.771" stop-color="rgb(203,203,203)"/><stop offset="0.779" stop-color="rgb(235,235,235)"/><stop offset="0.788" stop-color="rgb(254,254,254)"/><stop offset="0.858" stop-color="rgb(255,255,255)"/><stop offset="0.876" stop-color="rgb(244,244,244)"/><stop offset="0.911" stop-color="rgb(206,206,206)"/><stop offset="0.919" stop-color="rgb(188,188,188)"/><stop offset="0.946" stop-color="rgb(85,85,85)"/><stop offset="0.954" stop-color="rgb(64,64,64)"/><stop offset="0.972" stop-color="rgb(49,49,49)"/><stop offset="0.998" stop-color="rgb(45,45,45)"/></linearGradient><linearGradient id="lg20" x1="0" y1="30.4" x2="0" y2="87.5" gradientUnits="userSpaceOnUse"><stop offset="0.000" stop-color="rgb(54,54,54)"/><stop offset="0.324" stop-color="rgb(54,54,54)"/><stop offset="0.368" stop-color="rgb(74,74,74)"/><stop offset="0.412" stop-color="rgb(55,55,55)"/><stop offset="0.464" stop-color="rgb(58,58,58)"/><stop offset="0.473" stop-color="rgb(70,70,70)"/><stop offset="0.482" stop-color="rgb(104,104,104)"/><stop offset="0.499" stop-color="rgb(230,230,230)"/><stop offset="0.508" stop-color="rgb(252,252,252)"/><stop offset="0.517" stop-color="rgb(216,216,216)"/><stop offset="0.525" stop-color="rgb(158,158,158)"/><stop offset="0.534" stop-color="rgb(114,114,114)"/><stop offset="0.552" stop-color="rgb(67,67,67)"/><stop offset="0.560" stop-color="rgb(52,52,52)"/><stop offset="0.587" stop-color="rgb(59,59,59)"/><stop offset="0.613" stop-color="rgb(39,39,39)"/><stop offset="0.665" stop-color="rgb(37,37,37)"/><stop offset="0.683" stop-color="rgb(51,51,51)"/><stop offset="0.736" stop-color="rgb(62,62,62)"/><stop offset="0.744" stop-color="rgb(76,76,76)"/><stop offset="0.753" stop-color="rgb(104,104,104)"/><stop offset="0.771" stop-color="rgb(188,188,188)"/><stop offset="0.779" stop-color="rgb(217,217,217)"/><stop offset="0.797" stop-color="rgb(244,244,244)"/><stop offset="0.823" stop-color="rgb(254,254,254)"/><stop offset="0.849" stop-color="rgb(245,245,245)"/><stop offset="0.902" stop-color="rgb(201,201,201)"/><stop offset="0.919" stop-color="rgb(174,174,174)"/><stop offset="0.946" stop-color="rgb(80,80,80)"/><stop offset="0.954" stop-color="rgb(62,62,62)"/><stop offset="0.972" stop-color="rgb(48,48,48)"/><stop offset="0.998" stop-color="rgb(45,45,45)"/></linearGradient><linearGradient id="lg21" x1="0" y1="30.4" x2="0" y2="87.5" gradientUnits="userSpaceOnUse"><stop offset="0.000" stop-color="rgb(56,56,56)"/><stop offset="0.201" stop-color="rgb(57,57,57)"/><stop offset="0.245" stop-color="rgb(91,91,91)"/><stop offset="0.271" stop-color="rgb(66,66,66)"/><stop offset="0.289" stop-color="rgb(57,57,57)"/><stop offset="0.464" stop-color="rgb(59,59,59)"/><stop offset="0.473" stop-color="rgb(69,69,69)"/><stop offset="0.482" stop-color="rgb(97,97,97)"/><stop offset="0.499" stop-color="rgb(199,199,199)"/><stop offset="0.508" stop-color="rgb(215,215,215)"/><stop offset="0.517" stop-color="rgb(181,181,181)"/><stop offset="0.525" stop-color="rgb(125,125,125)"/><stop offset="0.534" stop-color="rgb(83,83,83)"/><stop offset="0.552" stop-color="rgb(50,50,50)"/><stop offset="0.569" stop-color="rgb(38,38,38)"/><stop offset="0.665" stop-color="rgb(39,39,39)"/><stop offset="0.683" stop-color="rgb(53,53,53)"/><stop offset="0.736" stop-color="rgb(64,64,64)"/><stop offset="0.744" stop-color="rgb(77,77,77)"/><stop offset="0.753" stop-color="rgb(103,103,103)"/><stop offset="0.771" stop-color="rgb(183,183,183)"/><stop offset="0.779" stop-color="rgb(211,211,211)"/><stop offset="0.797" stop-color="rgb(237,237,237)"/><stop offset="0.823" stop-color="rgb(246,246,246)"/><stop offset="0.849" stop-color="rgb(237,237,237)"/><stop offset="0.902" stop-color="rgb(196,196,196)"/><stop offset="0.919" stop-color="rgb(170,170,170)"/><stop offset="0.946" stop-color="rgb(81,81,81)"/><stop offset="0.954" stop-color="rgb(63,63,63)"/><stop offset="0.972" stop-color="rgb(49,49,49)"/><stop offset="0.998" stop-color="rgb(45,45,45)"/></linearGradient><linearGradient id="lg22" x1="0" y1="30.4" x2="0" y2="87.5" gradientUnits="userSpaceOnUse"><stop offset="0.000" stop-color="rgb(58,58,58)"/><stop offset="0.394" stop-color="rgb(58,58,58)"/><stop offset="0.438" stop-color="rgb(74,74,74)"/><stop offset="0.464" stop-color="rgb(60,60,60)"/><stop offset="0.482" stop-color="rgb(67,67,67)"/><stop offset="0.490" stop-color="rgb(80,80,80)"/><stop offset="0.508" stop-color="rgb(138,138,138)"/><stop offset="0.517" stop-color="rgb(157,157,157)"/><stop offset="0.525" stop-color="rgb(143,143,143)"/><stop offset="0.543" stop-color="rgb(79,79,79)"/><stop offset="0.552" stop-color="rgb(75,75,75)"/><stop offset="0.560" stop-color="rgb(107,107,107)"/><stop offset="0.569" stop-color="rgb(170,170,170)"/><stop offset="0.578" stop-color="rgb(216,216,216)"/><stop offset="0.587" stop-color="rgb(194,194,194)"/><stop offset="0.595" stop-color="rgb(129,129,129)"/><stop offset="0.604" stop-color="rgb(81,81,81)"/><stop offset="0.613" stop-color="rgb(62,62,62)"/><stop offset="0.718" stop-color="rgb(59,59,59)"/><stop offset="0.736" stop-color="rgb(67,67,67)"/><stop offset="0.744" stop-color="rgb(81,81,81)"/><stop offset="0.753" stop-color="rgb(110,110,110)"/><stop offset="0.771" stop-color="rgb(199,199,199)"/><stop offset="0.779" stop-color="rgb(229,229,229)"/><stop offset="0.788" stop-color="rgb(247,247,247)"/><stop offset="0.797" stop-color="rgb(255,255,255)"/><stop offset="0.849" stop-color="rgb(255,255,255)"/><stop offset="0.876" stop-color="rgb(238,238,238)"/><stop offset="0.911" stop-color="rgb(201,201,201)"/><stop offset="0.919" stop-color="rgb(184,184,184)"/><stop offset="0.946" stop-color="rgb(85,85,85)"/><stop offset="0.954" stop-color="rgb(65,65,65)"/><stop offset="0.972" stop-color="rgb(50,50,50)"/><stop offset="0.998" stop-color="rgb(45,45,45)"/></linearGradient><linearGradient id="lg23" x1="0" y1="30.4" x2="0" y2="87.5" gradientUnits="userSpaceOnUse"><stop offset="0.000" stop-color="rgb(58,58,58)"/><stop offset="0.342" stop-color="rgb(58,58,58)"/><stop offset="0.377" stop-color="rgb(79,79,79)"/><stop offset="0.412" stop-color="rgb(59,59,59)"/><stop offset="0.473" stop-color="rgb(59,59,59)"/><stop offset="0.482" stop-color="rgb(62,62,62)"/><stop offset="0.490" stop-color="rgb(76,76,76)"/><stop offset="0.499" stop-color="rgb(113,113,113)"/><stop offset="0.508" stop-color="rgb(169,169,169)"/><stop offset="0.517" stop-color="rgb(207,207,207)"/><stop offset="0.525" stop-color="rgb(189,189,189)"/><stop offset="0.543" stop-color="rgb(90,90,90)"/><stop offset="0.552" stop-color="rgb(80,80,80)"/><stop offset="0.560" stop-color="rgb(116,116,116)"/><stop offset="0.569" stop-color="rgb(191,191,191)"/><stop offset="0.578" stop-color="rgb(246,246,246)"/><stop offset="0.587" stop-color="rgb(220,220,220)"/><stop offset="0.595" stop-color="rgb(145,145,145)"/><stop offset="0.604" stop-color="rgb(91,91,91)"/><stop offset="0.613" stop-color="rgb(74,74,74)"/><stop offset="0.639" stop-color="rgb(59,59,59)"/><stop offset="0.718" stop-color="rgb(59,59,59)"/><stop offset="0.736" stop-color="rgb(67,67,67)"/><stop offset="0.744" stop-color="rgb(82,82,82)"/><stop offset="0.753" stop-color="rgb(113,113,113)"/><stop offset="0.771" stop-color="rgb(205,205,205)"/><stop offset="0.779" stop-color="rgb(237,237,237)"/><stop offset="0.788" stop-color="rgb(255,255,255)"/><stop offset="0.858" stop-color="rgb(255,255,255)"/><stop offset="0.867" stop-color="rgb(254,254,254)"/><stop offset="0.911" stop-color="rgb(208,208,208)"/><stop offset="0.919" stop-color="rgb(190,190,190)"/><stop offset="0.946" stop-color="rgb(87,87,87)"/><stop offset="0.954" stop-color="rgb(66,66,66)"/><stop offset="0.972" stop-color="rgb(50,50,50)"/><stop offset="0.998" stop-color="rgb(45,45,45)"/></linearGradient><linearGradient id="lg24" x1="0" y1="30.4" x2="0" y2="87.5" gradientUnits="userSpaceOnUse"><stop offset="0.000" stop-color="rgb(56,56,56)"/><stop offset="0.149" stop-color="rgb(56,56,56)"/><stop offset="0.193" stop-color="rgb(64,64,64)"/><stop offset="0.236" stop-color="rgb(56,56,56)"/><stop offset="0.412" stop-color="rgb(56,56,56)"/><stop offset="0.455" stop-color="rgb(68,68,68)"/><stop offset="0.482" stop-color="rgb(63,63,63)"/><stop offset="0.490" stop-color="rgb(73,73,73)"/><stop offset="0.499" stop-color="rgb(104,104,104)"/><stop offset="0.508" stop-color="rgb(153,153,153)"/><stop offset="0.517" stop-color="rgb(185,185,185)"/><stop offset="0.525" stop-color="rgb(170,170,170)"/><stop offset="0.543" stop-color="rgb(84,84,84)"/><stop offset="0.552" stop-color="rgb(76,76,76)"/><stop offset="0.560" stop-color="rgb(111,111,111)"/><stop offset="0.569" stop-color="rgb(182,182,182)"/><stop offset="0.578" stop-color="rgb(234,234,234)"/><stop offset="0.587" stop-color="rgb(209,209,209)"/><stop offset="0.595" stop-color="rgb(136,136,136)"/><stop offset="0.604" stop-color="rgb(81,81,81)"/><stop offset="0.613" stop-color="rgb(61,61,61)"/><stop offset="0.727" stop-color="rgb(59,59,59)"/><stop offset="0.744" stop-color="rgb(78,78,78)"/><stop offset="0.753" stop-color="rgb(106,106,106)"/><stop offset="0.771" stop-color="rgb(190,190,190)"/><stop offset="0.779" stop-color="rgb(219,219,219)"/><stop offset="0.797" stop-color="rgb(246,246,246)"/><stop offset="0.823" stop-color="rgb(255,255,255)"/><stop offset="0.849" stop-color="rgb(247,247,247)"/><stop offset="0.902" stop-color="rgb(203,203,203)"/><stop offset="0.919" stop-color="rgb(176,176,176)"/><stop offset="0.946" stop-color="rgb(82,82,82)"/><stop offset="0.954" stop-color="rgb(63,63,63)"/><stop offset="0.972" stop-color="rgb(49,49,49)"/><stop offset="0.998" stop-color="rgb(45,45,45)"/></linearGradient><linearGradient id="lg25" x1="0" y1="30.4" x2="0" y2="87.5" gradientUnits="userSpaceOnUse"><stop offset="0.000" stop-color="rgb(50,50,50)"/><stop offset="0.158" stop-color="rgb(50,50,50)"/><stop offset="0.193" stop-color="rgb(62,62,62)"/><stop offset="0.228" stop-color="rgb(50,50,50)"/><stop offset="0.429" stop-color="rgb(52,52,52)"/><stop offset="0.438" stop-color="rgb(57,57,57)"/><stop offset="0.447" stop-color="rgb(73,73,73)"/><stop offset="0.455" stop-color="rgb(110,110,110)"/><stop offset="0.464" stop-color="rgb(166,166,166)"/><stop offset="0.473" stop-color="rgb(209,209,209)"/><stop offset="0.482" stop-color="rgb(198,198,198)"/><stop offset="0.499" stop-color="rgb(89,89,89)"/><stop offset="0.508" stop-color="rgb(61,61,61)"/><stop offset="0.525" stop-color="rgb(47,47,47)"/><stop offset="0.543" stop-color="rgb(21,21,21)"/><stop offset="0.560" stop-color="rgb(15,15,15)"/><stop offset="0.674" stop-color="rgb(15,15,15)"/><stop offset="0.683" stop-color="rgb(18,18,18)"/><stop offset="0.701" stop-color="rgb(44,44,44)"/><stop offset="0.736" stop-color="rgb(59,59,59)"/><stop offset="0.744" stop-color="rgb(73,73,73)"/><stop offset="0.753" stop-color="rgb(102,102,102)"/><stop offset="0.771" stop-color="rgb(191,191,191)"/><stop offset="0.779" stop-color="rgb(221,221,221)"/><stop offset="0.788" stop-color="rgb(239,239,239)"/><stop offset="0.806" stop-color="rgb(255,255,255)"/><stop offset="0.841" stop-color="rgb(255,255,255)"/><stop offset="0.876" stop-color="rgb(230,230,230)"/><stop offset="0.911" stop-color="rgb(193,193,193)"/><stop offset="0.919" stop-color="rgb(176,176,176)"/><stop offset="0.946" stop-color="rgb(78,78,78)"/><stop offset="0.954" stop-color="rgb(59,59,59)"/><stop offset="0.972" stop-color="rgb(47,47,47)"/><stop offset="0.998" stop-color="rgb(45,45,45)"/></linearGradient><linearGradient id="lg26" x1="0" y1="30.4" x2="0" y2="87.5" gradientUnits="userSpaceOnUse"><stop offset="0.000" stop-color="rgb(48,48,48)"/><stop offset="0.105" stop-color="rgb(50,50,50)"/><stop offset="0.149" stop-color="rgb(78,78,78)"/><stop offset="0.210" stop-color="rgb(48,48,48)"/><stop offset="0.263" stop-color="rgb(50,50,50)"/><stop offset="0.306" stop-color="rgb(68,68,68)"/><stop offset="0.350" stop-color="rgb(49,49,49)"/><stop offset="0.525" stop-color="rgb(48,48,48)"/><stop offset="0.534" stop-color="rgb(50,50,50)"/><stop offset="0.543" stop-color="rgb(68,68,68)"/><stop offset="0.552" stop-color="rgb(109,109,109)"/><stop offset="0.560" stop-color="rgb(133,133,133)"/><stop offset="0.569" stop-color="rgb(109,109,109)"/><stop offset="0.578" stop-color="rgb(63,63,63)"/><stop offset="0.587" stop-color="rgb(35,35,35)"/><stop offset="0.595" stop-color="rgb(25,25,25)"/><stop offset="0.665" stop-color="rgb(25,25,25)"/><stop offset="0.683" stop-color="rgb(52,52,52)"/><stop offset="0.692" stop-color="rgb(88,88,88)"/><stop offset="0.709" stop-color="rgb(250,250,250)"/><stop offset="0.718" stop-color="rgb(255,255,255)"/><stop offset="0.736" stop-color="rgb(109,109,109)"/><stop offset="0.744" stop-color="rgb(84,84,84)"/><stop offset="0.753" stop-color="rgb(104,104,104)"/><stop offset="0.771" stop-color="rgb(195,195,195)"/><stop offset="0.779" stop-color="rgb(226,226,226)"/><stop offset="0.788" stop-color="rgb(244,244,244)"/><stop offset="0.797" stop-color="rgb(255,255,255)"/><stop offset="0.858" stop-color="rgb(255,255,255)"/><stop offset="0.902" stop-color="rgb(224,224,224)"/><stop offset="0.928" stop-color="rgb(195,195,195)"/><stop offset="0.937" stop-color="rgb(174,174,174)"/><stop offset="0.963" stop-color="rgb(65,65,65)"/><stop offset="0.972" stop-color="rgb(50,50,50)"/><stop offset="0.998" stop-color="rgb(45,45,45)"/></linearGradient><linearGradient id="lg27" x1="0" y1="30.4" x2="0" y2="87.5" gradientUnits="userSpaceOnUse"><stop offset="0.000" stop-color="rgb(50,50,50)"/><stop offset="0.245" stop-color="rgb(50,50,50)"/><stop offset="0.298" stop-color="rgb(67,67,67)"/><stop offset="0.342" stop-color="rgb(51,51,51)"/><stop offset="0.482" stop-color="rgb(51,51,51)"/><stop offset="0.517" stop-color="rgb(74,74,74)"/><stop offset="0.534" stop-color="rgb(64,64,64)"/><stop offset="0.543" stop-color="rgb(75,75,75)"/><stop offset="0.552" stop-color="rgb(110,110,110)"/><stop offset="0.560" stop-color="rgb(130,130,130)"/><stop offset="0.569" stop-color="rgb(108,108,108)"/><stop offset="0.578" stop-color="rgb(67,67,67)"/><stop offset="0.587" stop-color="rgb(41,41,41)"/><stop offset="0.595" stop-color="rgb(32,32,32)"/><stop offset="0.665" stop-color="rgb(32,32,32)"/><stop offset="0.683" stop-color="rgb(47,47,47)"/><stop offset="0.718" stop-color="rgb(59,59,59)"/><stop offset="0.727" stop-color="rgb(74,74,74)"/><stop offset="0.736" stop-color="rgb(104,104,104)"/><stop offset="0.753" stop-color="rgb(193,193,193)"/><stop offset="0.762" stop-color="rgb(223,223,223)"/><stop offset="0.771" stop-color="rgb(240,240,240)"/><stop offset="0.788" stop-color="rgb(255,255,255)"/><stop offset="0.849" stop-color="rgb(255,255,255)"/><stop offset="0.911" stop-color="rgb(212,212,212)"/><stop offset="0.928" stop-color="rgb(192,192,192)"/><stop offset="0.937" stop-color="rgb(173,173,173)"/><stop offset="0.963" stop-color="rgb(66,66,66)"/><stop offset="0.972" stop-color="rgb(51,51,51)"/><stop offset="0.998" stop-color="rgb(45,45,45)"/></linearGradient><linearGradient id="lg28" x1="0" y1="30.4" x2="0" y2="87.5" gradientUnits="userSpaceOnUse"><stop offset="0.000" stop-color="rgb(52,52,52)"/><stop offset="0.105" stop-color="rgb(53,53,53)"/><stop offset="0.149" stop-color="rgb(75,75,75)"/><stop offset="0.201" stop-color="rgb(52,52,52)"/><stop offset="0.271" stop-color="rgb(52,52,52)"/><stop offset="0.306" stop-color="rgb(61,61,61)"/><stop offset="0.342" stop-color="rgb(52,52,52)"/><stop offset="0.438" stop-color="rgb(54,54,54)"/><stop offset="0.447" stop-color="rgb(63,63,63)"/><stop offset="0.455" stop-color="rgb(89,89,89)"/><stop offset="0.473" stop-color="rgb(168,168,168)"/><stop offset="0.482" stop-color="rgb(163,163,163)"/><stop offset="0.499" stop-color="rgb(82,82,82)"/><stop offset="0.508" stop-color="rgb(60,60,60)"/><stop offset="0.525" stop-color="rgb(50,50,50)"/><stop offset="0.543" stop-color="rgb(27,27,27)"/><stop offset="0.560" stop-color="rgb(24,24,24)"/><stop offset="0.587" stop-color="rgb(31,31,31)"/><stop offset="0.613" stop-color="rgb(23,23,23)"/><stop offset="0.674" stop-color="rgb(22,22,22)"/><stop offset="0.683" stop-color="rgb(24,24,24)"/><stop offset="0.709" stop-color="rgb(51,51,51)"/><stop offset="0.744" stop-color="rgb(55,55,55)"/><stop offset="0.762" stop-color="rgb(76,76,76)"/><stop offset="0.771" stop-color="rgb(107,107,107)"/><stop offset="0.788" stop-color="rgb(199,199,199)"/><stop offset="0.797" stop-color="rgb(231,231,231)"/><stop offset="0.806" stop-color="rgb(250,250,250)"/><stop offset="0.876" stop-color="rgb(255,255,255)"/><stop offset="0.928" stop-color="rgb(200,200,200)"/><stop offset="0.937" stop-color="rgb(179,179,179)"/><stop offset="0.963" stop-color="rgb(67,67,67)"/><stop offset="0.972" stop-color="rgb(52,52,52)"/><stop offset="0.998" stop-color="rgb(45,45,45)"/></linearGradient><linearGradient id="lg29" x1="0" y1="30.4" x2="0" y2="87.5" gradientUnits="userSpaceOnUse"><stop offset="0.000" stop-color="rgb(52,52,52)"/><stop offset="0.175" stop-color="rgb(53,53,53)"/><stop offset="0.228" stop-color="rgb(81,81,81)"/><stop offset="0.263" stop-color="rgb(53,53,53)"/><stop offset="0.315" stop-color="rgb(64,64,64)"/><stop offset="0.394" stop-color="rgb(53,53,53)"/><stop offset="0.438" stop-color="rgb(55,55,55)"/><stop offset="0.447" stop-color="rgb(66,66,66)"/><stop offset="0.455" stop-color="rgb(98,98,98)"/><stop offset="0.473" stop-color="rgb(197,197,197)"/><stop offset="0.482" stop-color="rgb(191,191,191)"/><stop offset="0.499" stop-color="rgb(89,89,89)"/><stop offset="0.508" stop-color="rgb(62,62,62)"/><stop offset="0.525" stop-color="rgb(50,50,50)"/><stop offset="0.543" stop-color="rgb(27,27,27)"/><stop offset="0.674" stop-color="rgb(22,22,22)"/><stop offset="0.683" stop-color="rgb(24,24,24)"/><stop offset="0.709" stop-color="rgb(51,51,51)"/><stop offset="0.753" stop-color="rgb(60,60,60)"/><stop offset="0.762" stop-color="rgb(74,74,74)"/><stop offset="0.771" stop-color="rgb(102,102,102)"/><stop offset="0.788" stop-color="rgb(186,186,186)"/><stop offset="0.797" stop-color="rgb(215,215,215)"/><stop offset="0.814" stop-color="rgb(242,242,242)"/><stop offset="0.841" stop-color="rgb(252,252,252)"/><stop offset="0.876" stop-color="rgb(237,237,237)"/><stop offset="0.919" stop-color="rgb(199,199,199)"/><stop offset="0.937" stop-color="rgb(167,167,167)"/><stop offset="0.963" stop-color="rgb(65,65,65)"/><stop offset="0.972" stop-color="rgb(51,51,51)"/><stop offset="0.998" stop-color="rgb(45,45,45)"/></linearGradient><linearGradient id="lg30" x1="0" y1="30.4" x2="0" y2="87.5" gradientUnits="userSpaceOnUse"><stop offset="0.000" stop-color="rgb(48,48,48)"/><stop offset="0.131" stop-color="rgb(48,48,48)"/><stop offset="0.184" stop-color="rgb(67,67,67)"/><stop offset="0.236" stop-color="rgb(48,48,48)"/><stop offset="0.517" stop-color="rgb(48,48,48)"/><stop offset="0.552" stop-color="rgb(29,29,29)"/><stop offset="0.683" stop-color="rgb(30,30,30)"/><stop offset="0.701" stop-color="rgb(45,45,45)"/><stop offset="0.736" stop-color="rgb(56,56,56)"/><stop offset="0.744" stop-color="rgb(68,68,68)"/><stop offset="0.753" stop-color="rgb(93,93,93)"/><stop offset="0.771" stop-color="rgb(168,168,168)"/><stop offset="0.779" stop-color="rgb(194,194,194)"/><stop offset="0.797" stop-color="rgb(217,217,217)"/><stop offset="0.832" stop-color="rgb(228,228,228)"/><stop offset="0.867" stop-color="rgb(215,215,215)"/><stop offset="0.919" stop-color="rgb(178,178,178)"/><stop offset="0.937" stop-color="rgb(151,151,151)"/><stop offset="0.963" stop-color="rgb(62,62,62)"/><stop offset="0.972" stop-color="rgb(50,50,50)"/><stop offset="0.998" stop-color="rgb(45,45,45)"/></linearGradient><linearGradient id="lg31" x1="0" y1="30.4" x2="0" y2="87.5" gradientUnits="userSpaceOnUse"><stop offset="0.000" stop-color="rgb(62,62,62)"/><stop offset="0.105" stop-color="rgb(63,63,63)"/><stop offset="0.140" stop-color="rgb(77,77,77)"/><stop offset="0.201" stop-color="rgb(67,67,67)"/><stop offset="0.219" stop-color="rgb(73,73,73)"/><stop offset="0.254" stop-color="rgb(110,110,110)"/><stop offset="0.298" stop-color="rgb(74,74,74)"/><stop offset="0.333" stop-color="rgb(74,74,74)"/><stop offset="0.342" stop-color="rgb(81,81,81)"/><stop offset="0.350" stop-color="rgb(99,99,99)"/><stop offset="0.359" stop-color="rgb(132,132,132)"/><stop offset="0.377" stop-color="rgb(219,219,219)"/><stop offset="0.385" stop-color="rgb(239,239,239)"/><stop offset="0.394" stop-color="rgb(227,227,227)"/><stop offset="0.403" stop-color="rgb(189,189,189)"/><stop offset="0.429" stop-color="rgb(49,49,49)"/><stop offset="0.438" stop-color="rgb(20,20,20)"/><stop offset="0.455" stop-color="rgb(10,10,10)"/><stop offset="0.534" stop-color="rgb(13,13,13)"/><stop offset="0.552" stop-color="rgb(31,31,31)"/><stop offset="0.560" stop-color="rgb(56,56,56)"/><stop offset="0.578" stop-color="rgb(152,152,152)"/><stop offset="0.587" stop-color="rgb(179,179,179)"/><stop offset="0.622" stop-color="rgb(222,222,222)"/><stop offset="0.639" stop-color="rgb(233,233,233)"/><stop offset="0.657" stop-color="rgb(221,221,221)"/><stop offset="0.683" stop-color="rgb(182,182,182)"/><stop offset="0.701" stop-color="rgb(166,166,166)"/><stop offset="0.744" stop-color="rgb(153,153,153)"/><stop offset="0.779" stop-color="rgb(173,173,173)"/><stop offset="0.823" stop-color="rgb(126,126,126)"/><stop offset="0.884" stop-color="rgb(113,113,113)"/><stop offset="0.911" stop-color="rgb(99,99,99)"/><stop offset="0.946" stop-color="rgb(29,29,29)"/><stop offset="0.998" stop-color="rgb(20,20,20)"/></linearGradient><linearGradient id="lg32" x1="0" y1="30.4" x2="0" y2="87.5" gradientUnits="userSpaceOnUse"><stop offset="0.000" stop-color="rgb(62,62,62)"/><stop offset="0.123" stop-color="rgb(63,63,63)"/><stop offset="0.158" stop-color="rgb(73,73,73)"/><stop offset="0.201" stop-color="rgb(67,67,67)"/><stop offset="0.219" stop-color="rgb(74,74,74)"/><stop offset="0.245" stop-color="rgb(97,97,97)"/><stop offset="0.289" stop-color="rgb(73,73,73)"/><stop offset="0.333" stop-color="rgb(73,73,73)"/><stop offset="0.350" stop-color="rgb(86,86,86)"/><stop offset="0.359" stop-color="rgb(105,105,105)"/><stop offset="0.377" stop-color="rgb(168,168,168)"/><stop offset="0.385" stop-color="rgb(190,190,190)"/><stop offset="0.394" stop-color="rgb(187,187,187)"/><stop offset="0.403" stop-color="rgb(162,162,162)"/><stop offset="0.420" stop-color="rgb(90,90,90)"/><stop offset="0.429" stop-color="rgb(46,46,46)"/><stop offset="0.438" stop-color="rgb(19,19,19)"/><stop offset="0.455" stop-color="rgb(10,10,10)"/><stop offset="0.534" stop-color="rgb(12,12,12)"/><stop offset="0.552" stop-color="rgb(25,25,25)"/><stop offset="0.560" stop-color="rgb(45,45,45)"/><stop offset="0.578" stop-color="rgb(122,122,122)"/><stop offset="0.587" stop-color="rgb(138,138,138)"/><stop offset="0.648" stop-color="rgb(161,161,161)"/><stop offset="0.692" stop-color="rgb(197,197,197)"/><stop offset="0.701" stop-color="rgb(193,193,193)"/><stop offset="0.744" stop-color="rgb(144,144,144)"/><stop offset="0.779" stop-color="rgb(161,161,161)"/><stop offset="0.823" stop-color="rgb(125,125,125)"/><stop offset="0.902" stop-color="rgb(106,106,106)"/><stop offset="0.919" stop-color="rgb(85,85,85)"/><stop offset="0.937" stop-color="rgb(42,42,42)"/><stop offset="0.946" stop-color="rgb(29,29,29)"/><stop offset="0.998" stop-color="rgb(20,20,20)"/></linearGradient><linearGradient id="lg33" x1="0" y1="30.4" x2="0" y2="87.5" gradientUnits="userSpaceOnUse"><stop offset="0.000" stop-color="rgb(62,62,62)"/><stop offset="0.333" stop-color="rgb(75,75,75)"/><stop offset="0.350" stop-color="rgb(99,99,99)"/><stop offset="0.359" stop-color="rgb(128,128,128)"/><stop offset="0.377" stop-color="rgb(212,212,212)"/><stop offset="0.385" stop-color="rgb(239,239,239)"/><stop offset="0.394" stop-color="rgb(233,233,233)"/><stop offset="0.403" stop-color="rgb(197,197,197)"/><stop offset="0.429" stop-color="rgb(50,50,50)"/><stop offset="0.438" stop-color="rgb(20,20,20)"/><stop offset="0.455" stop-color="rgb(10,10,10)"/><stop offset="0.534" stop-color="rgb(13,13,13)"/><stop offset="0.552" stop-color="rgb(32,32,32)"/><stop offset="0.560" stop-color="rgb(59,59,59)"/><stop offset="0.578" stop-color="rgb(157,157,157)"/><stop offset="0.587" stop-color="rgb(187,187,187)"/><stop offset="0.604" stop-color="rgb(227,227,227)"/><stop offset="0.622" stop-color="rgb(250,250,250)"/><stop offset="0.639" stop-color="rgb(239,239,239)"/><stop offset="0.665" stop-color="rgb(197,197,197)"/><stop offset="0.683" stop-color="rgb(181,181,181)"/><stop offset="0.744" stop-color="rgb(161,161,161)"/><stop offset="0.779" stop-color="rgb(179,179,179)"/><stop offset="0.823" stop-color="rgb(126,126,126)"/><stop offset="0.884" stop-color="rgb(113,113,113)"/><stop offset="0.911" stop-color="rgb(99,99,99)"/><stop offset="0.946" stop-color="rgb(29,29,29)"/><stop offset="0.998" stop-color="rgb(20,20,20)"/></linearGradient><linearGradient id="lg34" x1="0" y1="30.4" x2="0" y2="87.5" gradientUnits="userSpaceOnUse"><stop offset="0.000" stop-color="rgb(62,62,62)"/><stop offset="0.333" stop-color="rgb(73,73,73)"/><stop offset="0.350" stop-color="rgb(85,85,85)"/><stop offset="0.359" stop-color="rgb(102,102,102)"/><stop offset="0.377" stop-color="rgb(160,160,160)"/><stop offset="0.385" stop-color="rgb(180,180,180)"/><stop offset="0.394" stop-color="rgb(178,178,178)"/><stop offset="0.403" stop-color="rgb(155,155,155)"/><stop offset="0.420" stop-color="rgb(88,88,88)"/><stop offset="0.429" stop-color="rgb(45,45,45)"/><stop offset="0.438" stop-color="rgb(19,19,19)"/><stop offset="0.447" stop-color="rgb(12,12,12)"/><stop offset="0.482" stop-color="rgb(10,10,10)"/><stop offset="0.517" stop-color="rgb(28,28,28)"/><stop offset="0.534" stop-color="rgb(23,23,23)"/><stop offset="0.543" stop-color="rgb(26,26,26)"/><stop offset="0.552" stop-color="rgb(44,44,44)"/><stop offset="0.560" stop-color="rgb(81,81,81)"/><stop offset="0.578" stop-color="rgb(203,203,203)"/><stop offset="0.587" stop-color="rgb(236,236,236)"/><stop offset="0.595" stop-color="rgb(255,255,255)"/><stop offset="0.674" stop-color="rgb(255,255,255)"/><stop offset="0.683" stop-color="rgb(251,251,251)"/><stop offset="0.701" stop-color="rgb(223,223,223)"/><stop offset="0.727" stop-color="rgb(199,199,199)"/><stop offset="0.744" stop-color="rgb(193,193,193)"/><stop offset="0.779" stop-color="rgb(204,204,204)"/><stop offset="0.788" stop-color="rgb(194,194,194)"/><stop offset="0.814" stop-color="rgb(135,135,135)"/><stop offset="0.823" stop-color="rgb(127,127,127)"/><stop offset="0.902" stop-color="rgb(106,106,106)"/><stop offset="0.919" stop-color="rgb(85,85,85)"/><stop offset="0.937" stop-color="rgb(42,42,42)"/><stop offset="0.946" stop-color="rgb(29,29,29)"/><stop offset="0.998" stop-color="rgb(20,20,20)"/></linearGradient><linearGradient id="lg35" x1="0" y1="30.4" x2="0" y2="87.5" gradientUnits="userSpaceOnUse"><stop offset="0.000" stop-color="rgb(62,62,62)"/><stop offset="0.131" stop-color="rgb(67,67,67)"/><stop offset="0.149" stop-color="rgb(83,83,83)"/><stop offset="0.166" stop-color="rgb(116,116,116)"/><stop offset="0.201" stop-color="rgb(105,105,105)"/><stop offset="0.228" stop-color="rgb(79,79,79)"/><stop offset="0.245" stop-color="rgb(71,71,71)"/><stop offset="0.333" stop-color="rgb(74,74,74)"/><stop offset="0.350" stop-color="rgb(92,92,92)"/><stop offset="0.359" stop-color="rgb(119,119,119)"/><stop offset="0.377" stop-color="rgb(209,209,209)"/><stop offset="0.385" stop-color="rgb(239,239,239)"/><stop offset="0.394" stop-color="rgb(235,235,235)"/><stop offset="0.403" stop-color="rgb(200,200,200)"/><stop offset="0.429" stop-color="rgb(51,51,51)"/><stop offset="0.438" stop-color="rgb(23,23,23)"/><stop offset="0.447" stop-color="rgb(28,28,28)"/><stop offset="0.455" stop-color="rgb(59,59,59)"/><stop offset="0.464" stop-color="rgb(104,104,104)"/><stop offset="0.473" stop-color="rgb(119,119,119)"/><stop offset="0.482" stop-color="rgb(87,87,87)"/><stop offset="0.490" stop-color="rgb(43,43,43)"/><stop offset="0.499" stop-color="rgb(19,19,19)"/><stop offset="0.525" stop-color="rgb(11,11,11)"/><stop offset="0.543" stop-color="rgb(19,19,19)"/><stop offset="0.552" stop-color="rgb(34,34,34)"/><stop offset="0.560" stop-color="rgb(62,62,62)"/><stop offset="0.578" stop-color="rgb(146,146,146)"/><stop offset="0.587" stop-color="rgb(156,156,156)"/><stop offset="0.657" stop-color="rgb(162,162,162)"/><stop offset="0.744" stop-color="rgb(146,146,146)"/><stop offset="0.779" stop-color="rgb(167,167,167)"/><stop offset="0.823" stop-color="rgb(125,125,125)"/><stop offset="0.902" stop-color="rgb(106,106,106)"/><stop offset="0.919" stop-color="rgb(85,85,85)"/><stop offset="0.937" stop-color="rgb(42,42,42)"/><stop offset="0.946" stop-color="rgb(29,29,29)"/><stop offset="0.998" stop-color="rgb(20,20,20)"/></linearGradient><linearGradient id="lg36" x1="0" y1="30.4" x2="0" y2="87.5" gradientUnits="userSpaceOnUse"><stop offset="0.000" stop-color="rgb(62,62,62)"/><stop offset="0.324" stop-color="rgb(75,75,75)"/><stop offset="0.350" stop-color="rgb(101,101,101)"/><stop offset="0.377" stop-color="rgb(160,160,160)"/><stop offset="0.385" stop-color="rgb(171,171,171)"/><stop offset="0.394" stop-color="rgb(167,167,167)"/><stop offset="0.412" stop-color="rgb(131,131,131)"/><stop offset="0.420" stop-color="rgb(107,107,107)"/><stop offset="0.438" stop-color="rgb(37,37,37)"/><stop offset="0.447" stop-color="rgb(24,24,24)"/><stop offset="0.482" stop-color="rgb(24,24,24)"/><stop offset="0.525" stop-color="rgb(12,12,12)"/><stop offset="0.543" stop-color="rgb(23,23,23)"/><stop offset="0.552" stop-color="rgb(37,37,37)"/><stop offset="0.560" stop-color="rgb(62,62,62)"/><stop offset="0.578" stop-color="rgb(142,142,142)"/><stop offset="0.587" stop-color="rgb(159,159,159)"/><stop offset="0.613" stop-color="rgb(180,180,180)"/><stop offset="0.648" stop-color="rgb(227,227,227)"/><stop offset="0.657" stop-color="rgb(231,231,231)"/><stop offset="0.665" stop-color="rgb(228,228,228)"/><stop offset="0.701" stop-color="rgb(177,177,177)"/><stop offset="0.718" stop-color="rgb(161,161,161)"/><stop offset="0.744" stop-color="rgb(154,154,154)"/><stop offset="0.779" stop-color="rgb(173,173,173)"/><stop offset="0.823" stop-color="rgb(126,126,126)"/><stop offset="0.884" stop-color="rgb(113,113,113)"/><stop offset="0.911" stop-color="rgb(99,99,99)"/><stop offset="0.946" stop-color="rgb(29,29,29)"/><stop offset="0.998" stop-color="rgb(20,20,20)"/></linearGradient><linearGradient id="lg37" x1="0" y1="30.4" x2="0" y2="87.5" gradientUnits="userSpaceOnUse"><stop offset="0.000" stop-color="rgb(62,62,62)"/><stop offset="0.166" stop-color="rgb(65,65,65)"/><stop offset="0.210" stop-color="rgb(81,81,81)"/><stop offset="0.254" stop-color="rgb(70,70,70)"/><stop offset="0.333" stop-color="rgb(73,73,73)"/><stop offset="0.350" stop-color="rgb(87,87,87)"/><stop offset="0.359" stop-color="rgb(110,110,110)"/><stop offset="0.377" stop-color="rgb(183,183,183)"/><stop offset="0.385" stop-color="rgb(203,203,203)"/><stop offset="0.394" stop-color="rgb(197,197,197)"/><stop offset="0.403" stop-color="rgb(169,169,169)"/><stop offset="0.420" stop-color="rgb(95,95,95)"/><stop offset="0.429" stop-color="rgb(50,50,50)"/><stop offset="0.438" stop-color="rgb(21,21,21)"/><stop offset="0.455" stop-color="rgb(11,11,11)"/><stop offset="0.534" stop-color="rgb(12,12,12)"/><stop offset="0.552" stop-color="rgb(26,26,26)"/><stop offset="0.560" stop-color="rgb(47,47,47)"/><stop offset="0.578" stop-color="rgb(131,131,131)"/><stop offset="0.587" stop-color="rgb(155,155,155)"/><stop offset="0.604" stop-color="rgb(184,184,184)"/><stop offset="0.622" stop-color="rgb(200,200,200)"/><stop offset="0.630" stop-color="rgb(199,199,199)"/><stop offset="0.665" stop-color="rgb(163,163,163)"/><stop offset="0.692" stop-color="rgb(148,148,148)"/><stop offset="0.744" stop-color="rgb(138,138,138)"/><stop offset="0.779" stop-color="rgb(160,160,160)"/><stop offset="0.823" stop-color="rgb(125,125,125)"/><stop offset="0.902" stop-color="rgb(106,106,106)"/><stop offset="0.919" stop-color="rgb(85,85,85)"/><stop offset="0.937" stop-color="rgb(42,42,42)"/><stop offset="0.946" stop-color="rgb(29,29,29)"/><stop offset="0.998" stop-color="rgb(20,20,20)"/></linearGradient><linearGradient id="lg38" x1="0" y1="30.4" x2="0" y2="87.5" gradientUnits="userSpaceOnUse"><stop offset="0.000" stop-color="rgb(62,62,62)"/><stop offset="0.333" stop-color="rgb(73,73,73)"/><stop offset="0.350" stop-color="rgb(81,81,81)"/><stop offset="0.359" stop-color="rgb(94,94,94)"/><stop offset="0.385" stop-color="rgb(151,151,151)"/><stop offset="0.394" stop-color="rgb(149,149,149)"/><stop offset="0.403" stop-color="rgb(132,132,132)"/><stop offset="0.429" stop-color="rgb(64,64,64)"/><stop offset="0.438" stop-color="rgb(91,91,91)"/><stop offset="0.447" stop-color="rgb(167,167,167)"/><stop offset="0.455" stop-color="rgb(211,211,211)"/><stop offset="0.464" stop-color="rgb(171,171,171)"/><stop offset="0.473" stop-color="rgb(95,95,95)"/><stop offset="0.482" stop-color="rgb(45,45,45)"/><stop offset="0.490" stop-color="rgb(23,23,23)"/><stop offset="0.499" stop-color="rgb(13,13,13)"/><stop offset="0.525" stop-color="rgb(11,11,11)"/><stop offset="0.543" stop-color="rgb(24,24,24)"/><stop offset="0.552" stop-color="rgb(46,46,46)"/><stop offset="0.560" stop-color="rgb(83,83,83)"/><stop offset="0.578" stop-color="rgb(177,177,177)"/><stop offset="0.639" stop-color="rgb(227,227,227)"/><stop offset="0.648" stop-color="rgb(225,225,225)"/><stop offset="0.683" stop-color="rgb(184,184,184)"/><stop offset="0.709" stop-color="rgb(166,166,166)"/><stop offset="0.744" stop-color="rgb(157,157,157)"/><stop offset="0.779" stop-color="rgb(176,176,176)"/><stop offset="0.823" stop-color="rgb(126,126,126)"/><stop offset="0.902" stop-color="rgb(106,106,106)"/><stop offset="0.919" stop-color="rgb(85,85,85)"/><stop offset="0.937" stop-color="rgb(42,42,42)"/><stop offset="0.946" stop-color="rgb(29,29,29)"/><stop offset="0.998" stop-color="rgb(20,20,20)"/></linearGradient><linearGradient id="lg39" x1="0" y1="30.4" x2="0" y2="87.5" gradientUnits="userSpaceOnUse"><stop offset="0.000" stop-color="rgb(62,62,62)"/><stop offset="0.228" stop-color="rgb(69,69,69)"/><stop offset="0.254" stop-color="rgb(85,85,85)"/><stop offset="0.280" stop-color="rgb(124,124,124)"/><stop offset="0.289" stop-color="rgb(122,122,122)"/><stop offset="0.315" stop-color="rgb(82,82,82)"/><stop offset="0.342" stop-color="rgb(76,76,76)"/><stop offset="0.350" stop-color="rgb(83,83,83)"/><stop offset="0.359" stop-color="rgb(101,101,101)"/><stop offset="0.377" stop-color="rgb(173,173,173)"/><stop offset="0.385" stop-color="rgb(198,198,198)"/><stop offset="0.394" stop-color="rgb(192,192,192)"/><stop offset="0.420" stop-color="rgb(111,111,111)"/><stop offset="0.438" stop-color="rgb(42,42,42)"/><stop offset="0.447" stop-color="rgb(42,42,42)"/><stop offset="0.455" stop-color="rgb(87,87,87)"/><stop offset="0.464" stop-color="rgb(155,155,155)"/><stop offset="0.473" stop-color="rgb(178,178,178)"/><stop offset="0.482" stop-color="rgb(129,129,129)"/><stop offset="0.490" stop-color="rgb(61,61,61)"/><stop offset="0.499" stop-color="rgb(23,23,23)"/><stop offset="0.508" stop-color="rgb(12,12,12)"/><stop offset="0.534" stop-color="rgb(13,13,13)"/><stop offset="0.552" stop-color="rgb(29,29,29)"/><stop offset="0.560" stop-color="rgb(52,52,52)"/><stop offset="0.578" stop-color="rgb(137,137,137)"/><stop offset="0.587" stop-color="rgb(156,156,156)"/><stop offset="0.657" stop-color="rgb(231,231,231)"/><stop offset="0.665" stop-color="rgb(228,228,228)"/><stop offset="0.701" stop-color="rgb(177,177,177)"/><stop offset="0.718" stop-color="rgb(161,161,161)"/><stop offset="0.744" stop-color="rgb(154,154,154)"/><stop offset="0.779" stop-color="rgb(173,173,173)"/><stop offset="0.823" stop-color="rgb(126,126,126)"/><stop offset="0.884" stop-color="rgb(113,113,113)"/><stop offset="0.911" stop-color="rgb(99,99,99)"/><stop offset="0.946" stop-color="rgb(29,29,29)"/><stop offset="0.998" stop-color="rgb(20,20,20)"/></linearGradient><linearGradient id="lg40" x1="0" y1="30.4" x2="0" y2="87.5" gradientUnits="userSpaceOnUse"><stop offset="0.000" stop-color="rgb(62,62,62)"/><stop offset="0.315" stop-color="rgb(73,73,73)"/><stop offset="0.350" stop-color="rgb(89,89,89)"/><stop offset="0.385" stop-color="rgb(144,144,144)"/><stop offset="0.394" stop-color="rgb(145,145,145)"/><stop offset="0.412" stop-color="rgb(128,128,128)"/><stop offset="0.420" stop-color="rgb(107,107,107)"/><stop offset="0.429" stop-color="rgb(66,66,66)"/><stop offset="0.438" stop-color="rgb(35,35,35)"/><stop offset="0.447" stop-color="rgb(37,37,37)"/><stop offset="0.455" stop-color="rgb(74,74,74)"/><stop offset="0.464" stop-color="rgb(130,130,130)"/><stop offset="0.473" stop-color="rgb(149,149,149)"/><stop offset="0.482" stop-color="rgb(108,108,108)"/><stop offset="0.490" stop-color="rgb(52,52,52)"/><stop offset="0.499" stop-color="rgb(21,21,21)"/><stop offset="0.508" stop-color="rgb(12,12,12)"/><stop offset="0.525" stop-color="rgb(11,11,11)"/><stop offset="0.552" stop-color="rgb(27,27,27)"/><stop offset="0.560" stop-color="rgb(48,48,48)"/><stop offset="0.578" stop-color="rgb(129,129,129)"/><stop offset="0.587" stop-color="rgb(147,147,147)"/><stop offset="0.595" stop-color="rgb(153,153,153)"/><stop offset="0.657" stop-color="rgb(162,162,162)"/><stop offset="0.744" stop-color="rgb(146,146,146)"/><stop offset="0.779" stop-color="rgb(167,167,167)"/><stop offset="0.823" stop-color="rgb(125,125,125)"/><stop offset="0.902" stop-color="rgb(106,106,106)"/><stop offset="0.919" stop-color="rgb(85,85,85)"/><stop offset="0.937" stop-color="rgb(42,42,42)"/><stop offset="0.946" stop-color="rgb(29,29,29)"/><stop offset="0.998" stop-color="rgb(20,20,20)"/></linearGradient><linearGradient id="lg41" x1="0" y1="30.4" x2="0" y2="87.5" gradientUnits="userSpaceOnUse"><stop offset="0.000" stop-color="rgb(34,34,34)"/><stop offset="0.096" stop-color="rgb(35,35,35)"/><stop offset="0.131" stop-color="rgb(50,50,50)"/><stop offset="0.166" stop-color="rgb(37,37,37)"/><stop offset="0.324" stop-color="rgb(35,35,35)"/><stop offset="0.333" stop-color="rgb(43,43,43)"/><stop offset="0.342" stop-color="rgb(70,70,70)"/><stop offset="0.350" stop-color="rgb(118,118,118)"/><stop offset="0.359" stop-color="rgb(153,153,153)"/><stop offset="0.368" stop-color="rgb(136,136,136)"/><stop offset="0.377" stop-color="rgb(87,87,87)"/><stop offset="0.385" stop-color="rgb(51,51,51)"/><stop offset="0.394" stop-color="rgb(37,37,37)"/><stop offset="0.429" stop-color="rgb(33,33,33)"/><stop offset="0.464" stop-color="rgb(6,6,6)"/><stop offset="0.569" stop-color="rgb(9,9,9)"/><stop offset="0.595" stop-color="rgb(55,55,55)"/><stop offset="0.613" stop-color="rgb(113,113,113)"/><stop offset="0.622" stop-color="rgb(134,134,134)"/><stop offset="0.657" stop-color="rgb(143,143,143)"/><stop offset="0.683" stop-color="rgb(142,142,142)"/><stop offset="0.771" stop-color="rgb(116,116,116)"/><stop offset="0.797" stop-color="rgb(80,80,80)"/><stop offset="0.806" stop-color="rgb(75,75,75)"/><stop offset="0.998" stop-color="rgb(63,63,63)"/></linearGradient><linearGradient id="lg42" x1="0" y1="30.4" x2="0" y2="87.5" gradientUnits="userSpaceOnUse"><stop offset="0.000" stop-color="rgb(34,34,34)"/><stop offset="0.228" stop-color="rgb(34,34,34)"/><stop offset="0.271" stop-color="rgb(44,44,44)"/><stop offset="0.298" stop-color="rgb(36,36,36)"/><stop offset="0.324" stop-color="rgb(46,46,46)"/><stop offset="0.350" stop-color="rgb(34,34,34)"/><stop offset="0.403" stop-color="rgb(35,35,35)"/><stop offset="0.412" stop-color="rgb(40,40,40)"/><stop offset="0.429" stop-color="rgb(80,80,80)"/><stop offset="0.438" stop-color="rgb(89,89,89)"/><stop offset="0.455" stop-color="rgb(30,30,30)"/><stop offset="0.464" stop-color="rgb(13,13,13)"/><stop offset="0.482" stop-color="rgb(6,6,6)"/><stop offset="0.560" stop-color="rgb(9,9,9)"/><stop offset="0.569" stop-color="rgb(25,25,25)"/><stop offset="0.578" stop-color="rgb(85,85,85)"/><stop offset="0.587" stop-color="rgb(183,183,183)"/><stop offset="0.595" stop-color="rgb(236,236,236)"/><stop offset="0.613" stop-color="rgb(184,184,184)"/><stop offset="0.622" stop-color="rgb(187,187,187)"/><stop offset="0.648" stop-color="rgb(218,218,218)"/><stop offset="0.674" stop-color="rgb(223,223,223)"/><stop offset="0.762" stop-color="rgb(174,174,174)"/><stop offset="0.771" stop-color="rgb(164,164,164)"/><stop offset="0.797" stop-color="rgb(96,96,96)"/><stop offset="0.806" stop-color="rgb(87,87,87)"/><stop offset="0.998" stop-color="rgb(71,71,71)"/></linearGradient><linearGradient id="lg43" x1="0" y1="30.4" x2="0" y2="87.5" gradientUnits="userSpaceOnUse"><stop offset="0.000" stop-color="rgb(34,34,34)"/><stop offset="0.403" stop-color="rgb(35,35,35)"/><stop offset="0.412" stop-color="rgb(39,39,39)"/><stop offset="0.429" stop-color="rgb(72,72,72)"/><stop offset="0.438" stop-color="rgb(79,79,79)"/><stop offset="0.455" stop-color="rgb(27,27,27)"/><stop offset="0.464" stop-color="rgb(13,13,13)"/><stop offset="0.560" stop-color="rgb(12,12,12)"/><stop offset="0.569" stop-color="rgb(27,27,27)"/><stop offset="0.578" stop-color="rgb(86,86,86)"/><stop offset="0.587" stop-color="rgb(184,184,184)"/><stop offset="0.595" stop-color="rgb(238,238,238)"/><stop offset="0.613" stop-color="rgb(190,190,190)"/><stop offset="0.622" stop-color="rgb(194,194,194)"/><stop offset="0.648" stop-color="rgb(228,228,228)"/><stop offset="0.674" stop-color="rgb(233,233,233)"/><stop offset="0.762" stop-color="rgb(182,182,182)"/><stop offset="0.771" stop-color="rgb(172,172,172)"/><stop offset="0.797" stop-color="rgb(101,101,101)"/><stop offset="0.806" stop-color="rgb(92,92,92)"/><stop offset="0.998" stop-color="rgb(74,74,74)"/></linearGradient><linearGradient id="lg44" x1="0" y1="30.4" x2="0" y2="87.5" gradientUnits="userSpaceOnUse"><stop offset="0.000" stop-color="rgb(34,34,34)"/><stop offset="0.105" stop-color="rgb(36,36,36)"/><stop offset="0.149" stop-color="rgb(63,63,63)"/><stop offset="0.184" stop-color="rgb(36,36,36)"/><stop offset="0.324" stop-color="rgb(36,36,36)"/><stop offset="0.333" stop-color="rgb(44,44,44)"/><stop offset="0.342" stop-color="rgb(73,73,73)"/><stop offset="0.350" stop-color="rgb(125,125,125)"/><stop offset="0.359" stop-color="rgb(163,163,163)"/><stop offset="0.368" stop-color="rgb(145,145,145)"/><stop offset="0.377" stop-color="rgb(92,92,92)"/><stop offset="0.385" stop-color="rgb(52,52,52)"/><stop offset="0.394" stop-color="rgb(38,38,38)"/><stop offset="0.429" stop-color="rgb(33,33,33)"/><stop offset="0.464" stop-color="rgb(6,6,6)"/><stop offset="0.543" stop-color="rgb(8,8,8)"/><stop offset="0.569" stop-color="rgb(25,25,25)"/><stop offset="0.595" stop-color="rgb(75,75,75)"/><stop offset="0.622" stop-color="rgb(180,180,180)"/><stop offset="0.630" stop-color="rgb(200,200,200)"/><stop offset="0.648" stop-color="rgb(218,218,218)"/><stop offset="0.665" stop-color="rgb(224,224,224)"/><stop offset="0.692" stop-color="rgb(217,217,217)"/><stop offset="0.762" stop-color="rgb(172,172,172)"/><stop offset="0.771" stop-color="rgb(161,161,161)"/><stop offset="0.797" stop-color="rgb(92,92,92)"/><stop offset="0.806" stop-color="rgb(83,83,83)"/><stop offset="0.998" stop-color="rgb(67,67,67)"/></linearGradient><linearGradient id="lg45" x1="0" y1="30.4" x2="0" y2="87.5" gradientUnits="userSpaceOnUse"><stop offset="0.000" stop-color="rgb(34,34,34)"/><stop offset="0.184" stop-color="rgb(34,34,34)"/><stop offset="0.236" stop-color="rgb(50,50,50)"/><stop offset="0.271" stop-color="rgb(35,35,35)"/><stop offset="0.324" stop-color="rgb(36,36,36)"/><stop offset="0.359" stop-color="rgb(55,55,55)"/><stop offset="0.385" stop-color="rgb(101,101,101)"/><stop offset="0.394" stop-color="rgb(89,89,89)"/><stop offset="0.412" stop-color="rgb(43,43,43)"/><stop offset="0.438" stop-color="rgb(29,29,29)"/><stop offset="0.455" stop-color="rgb(8,8,8)"/><stop offset="0.473" stop-color="rgb(7,7,7)"/><stop offset="0.508" stop-color="rgb(21,21,21)"/><stop offset="0.534" stop-color="rgb(8,8,8)"/><stop offset="0.560" stop-color="rgb(7,7,7)"/><stop offset="0.569" stop-color="rgb(10,10,10)"/><stop offset="0.587" stop-color="rgb(43,43,43)"/><stop offset="0.595" stop-color="rgb(66,66,66)"/><stop offset="0.622" stop-color="rgb(172,172,172)"/><stop offset="0.630" stop-color="rgb(191,191,191)"/><stop offset="0.648" stop-color="rgb(209,209,209)"/><stop offset="0.665" stop-color="rgb(214,214,214)"/><stop offset="0.692" stop-color="rgb(208,208,208)"/><stop offset="0.762" stop-color="rgb(164,164,164)"/><stop offset="0.771" stop-color="rgb(153,153,153)"/><stop offset="0.797" stop-color="rgb(86,86,86)"/><stop offset="0.806" stop-color="rgb(78,78,78)"/><stop offset="0.998" stop-color="rgb(63,63,63)"/></linearGradient><linearGradient id="lg46" x1="0" y1="30.4" x2="0" y2="87.5" gradientUnits="userSpaceOnUse"><stop offset="0.000" stop-color="rgb(34,34,34)"/><stop offset="0.070" stop-color="rgb(35,35,35)"/><stop offset="0.123" stop-color="rgb(45,45,45)"/><stop offset="0.175" stop-color="rgb(34,34,34)"/><stop offset="0.350" stop-color="rgb(35,35,35)"/><stop offset="0.368" stop-color="rgb(49,49,49)"/><stop offset="0.385" stop-color="rgb(84,84,84)"/><stop offset="0.394" stop-color="rgb(77,77,77)"/><stop offset="0.412" stop-color="rgb(41,41,41)"/><stop offset="0.438" stop-color="rgb(29,29,29)"/><stop offset="0.455" stop-color="rgb(9,9,9)"/><stop offset="0.499" stop-color="rgb(16,16,16)"/><stop offset="0.534" stop-color="rgb(12,12,12)"/><stop offset="0.578" stop-color="rgb(30,30,30)"/><stop offset="0.595" stop-color="rgb(62,62,62)"/><stop offset="0.622" stop-color="rgb(149,149,149)"/><stop offset="0.630" stop-color="rgb(165,165,165)"/><stop offset="0.648" stop-color="rgb(179,179,179)"/><stop offset="0.665" stop-color="rgb(184,184,184)"/><stop offset="0.692" stop-color="rgb(179,179,179)"/><stop offset="0.762" stop-color="rgb(145,145,145)"/><stop offset="0.771" stop-color="rgb(137,137,137)"/><stop offset="0.797" stop-color="rgb(83,83,83)"/><stop offset="0.806" stop-color="rgb(76,76,76)"/><stop offset="0.998" stop-color="rgb(63,63,63)"/></linearGradient><linearGradient id="lg47" x1="0" y1="30.4" x2="0" y2="87.5" gradientUnits="userSpaceOnUse"><stop offset="0.000" stop-color="rgb(66,66,66)"/><stop offset="0.175" stop-color="rgb(74,74,74)"/><stop offset="0.193" stop-color="rgb(83,83,83)"/><stop offset="0.219" stop-color="rgb(111,111,111)"/><stop offset="0.245" stop-color="rgb(97,97,97)"/><stop offset="0.280" stop-color="rgb(110,110,110)"/><stop offset="0.315" stop-color="rgb(88,88,88)"/><stop offset="0.394" stop-color="rgb(90,90,90)"/><stop offset="0.412" stop-color="rgb(100,100,100)"/><stop offset="0.447" stop-color="rgb(153,153,153)"/><stop offset="0.455" stop-color="rgb(158,158,158)"/><stop offset="0.464" stop-color="rgb(153,153,153)"/><stop offset="0.482" stop-color="rgb(125,125,125)"/><stop offset="0.508" stop-color="rgb(61,61,61)"/><stop offset="0.525" stop-color="rgb(49,49,49)"/><stop offset="0.552" stop-color="rgb(49,49,49)"/><stop offset="0.560" stop-color="rgb(52,52,52)"/><stop offset="0.569" stop-color="rgb(69,69,69)"/><stop offset="0.578" stop-color="rgb(113,113,113)"/><stop offset="0.587" stop-color="rgb(189,189,189)"/><stop offset="0.595" stop-color="rgb(239,239,239)"/><stop offset="0.604" stop-color="rgb(193,193,193)"/><stop offset="0.613" stop-color="rgb(127,127,127)"/><stop offset="0.622" stop-color="rgb(107,107,107)"/><stop offset="0.648" stop-color="rgb(122,122,122)"/><stop offset="0.701" stop-color="rgb(133,133,133)"/><stop offset="0.727" stop-color="rgb(152,152,152)"/><stop offset="0.753" stop-color="rgb(153,153,153)"/><stop offset="0.841" stop-color="rgb(108,108,108)"/><stop offset="0.858" stop-color="rgb(88,88,88)"/><stop offset="0.884" stop-color="rgb(34,34,34)"/><stop offset="0.902" stop-color="rgb(14,14,14)"/><stop offset="0.998" stop-color="rgb(10,10,10)"/></linearGradient><linearGradient id="lg48" x1="0" y1="30.4" x2="0" y2="87.5" gradientUnits="userSpaceOnUse"><stop offset="0.000" stop-color="rgb(66,66,66)"/><stop offset="0.140" stop-color="rgb(69,69,69)"/><stop offset="0.254" stop-color="rgb(84,84,84)"/><stop offset="0.271" stop-color="rgb(90,90,90)"/><stop offset="0.298" stop-color="rgb(118,118,118)"/><stop offset="0.306" stop-color="rgb(119,119,119)"/><stop offset="0.342" stop-color="rgb(90,90,90)"/><stop offset="0.394" stop-color="rgb(91,91,91)"/><stop offset="0.412" stop-color="rgb(104,104,104)"/><stop offset="0.420" stop-color="rgb(118,118,118)"/><stop offset="0.447" stop-color="rgb(184,184,184)"/><stop offset="0.455" stop-color="rgb(196,196,196)"/><stop offset="0.464" stop-color="rgb(194,194,194)"/><stop offset="0.473" stop-color="rgb(178,178,178)"/><stop offset="0.508" stop-color="rgb(65,65,65)"/><stop offset="0.525" stop-color="rgb(49,49,49)"/><stop offset="0.552" stop-color="rgb(49,49,49)"/><stop offset="0.560" stop-color="rgb(52,52,52)"/><stop offset="0.569" stop-color="rgb(68,68,68)"/><stop offset="0.578" stop-color="rgb(110,110,110)"/><stop offset="0.587" stop-color="rgb(179,179,179)"/><stop offset="0.595" stop-color="rgb(225,225,225)"/><stop offset="0.604" stop-color="rgb(185,185,185)"/><stop offset="0.613" stop-color="rgb(129,129,129)"/><stop offset="0.622" stop-color="rgb(118,118,118)"/><stop offset="0.648" stop-color="rgb(148,148,148)"/><stop offset="0.701" stop-color="rgb(163,163,163)"/><stop offset="0.727" stop-color="rgb(181,181,181)"/><stop offset="0.753" stop-color="rgb(181,181,181)"/><stop offset="0.841" stop-color="rgb(123,123,123)"/><stop offset="0.858" stop-color="rgb(93,93,93)"/><stop offset="0.884" stop-color="rgb(34,34,34)"/><stop offset="0.902" stop-color="rgb(14,14,14)"/><stop offset="0.998" stop-color="rgb(10,10,10)"/></linearGradient><linearGradient id="lg49" x1="0" y1="30.4" x2="0" y2="87.5" gradientUnits="userSpaceOnUse"><stop offset="0.000" stop-color="rgb(66,66,66)"/><stop offset="0.123" stop-color="rgb(68,68,68)"/><stop offset="0.158" stop-color="rgb(83,83,83)"/><stop offset="0.193" stop-color="rgb(76,76,76)"/><stop offset="0.280" stop-color="rgb(86,86,86)"/><stop offset="0.333" stop-color="rgb(109,109,109)"/><stop offset="0.368" stop-color="rgb(90,90,90)"/><stop offset="0.394" stop-color="rgb(90,90,90)"/><stop offset="0.412" stop-color="rgb(101,101,101)"/><stop offset="0.447" stop-color="rgb(158,158,158)"/><stop offset="0.455" stop-color="rgb(163,163,163)"/><stop offset="0.473" stop-color="rgb(145,145,145)"/><stop offset="0.490" stop-color="rgb(109,109,109)"/><stop offset="0.508" stop-color="rgb(61,61,61)"/><stop offset="0.525" stop-color="rgb(49,49,49)"/><stop offset="0.552" stop-color="rgb(49,49,49)"/><stop offset="0.560" stop-color="rgb(52,52,52)"/><stop offset="0.569" stop-color="rgb(68,68,68)"/><stop offset="0.578" stop-color="rgb(111,111,111)"/><stop offset="0.587" stop-color="rgb(182,182,182)"/><stop offset="0.595" stop-color="rgb(230,230,230)"/><stop offset="0.604" stop-color="rgb(187,187,187)"/><stop offset="0.613" stop-color="rgb(128,128,128)"/><stop offset="0.622" stop-color="rgb(114,114,114)"/><stop offset="0.648" stop-color="rgb(139,139,139)"/><stop offset="0.701" stop-color="rgb(153,153,153)"/><stop offset="0.727" stop-color="rgb(171,171,171)"/><stop offset="0.753" stop-color="rgb(172,172,172)"/><stop offset="0.841" stop-color="rgb(118,118,118)"/><stop offset="0.858" stop-color="rgb(91,91,91)"/><stop offset="0.884" stop-color="rgb(34,34,34)"/><stop offset="0.902" stop-color="rgb(14,14,14)"/><stop offset="0.998" stop-color="rgb(10,10,10)"/></linearGradient><linearGradient id="lg50" x1="0" y1="30.4" x2="0" y2="87.5" gradientUnits="userSpaceOnUse"><stop offset="0.000" stop-color="rgb(66,66,66)"/><stop offset="0.070" stop-color="rgb(67,67,67)"/><stop offset="0.105" stop-color="rgb(83,83,83)"/><stop offset="0.131" stop-color="rgb(70,70,70)"/><stop offset="0.175" stop-color="rgb(73,73,73)"/><stop offset="0.245" stop-color="rgb(85,85,85)"/><stop offset="0.271" stop-color="rgb(106,106,106)"/><stop offset="0.306" stop-color="rgb(96,96,96)"/><stop offset="0.333" stop-color="rgb(112,112,112)"/><stop offset="0.350" stop-color="rgb(104,104,104)"/><stop offset="0.368" stop-color="rgb(117,117,117)"/><stop offset="0.377" stop-color="rgb(115,115,115)"/><stop offset="0.394" stop-color="rgb(95,95,95)"/><stop offset="0.403" stop-color="rgb(96,96,96)"/><stop offset="0.420" stop-color="rgb(123,123,123)"/><stop offset="0.447" stop-color="rgb(208,208,208)"/><stop offset="0.455" stop-color="rgb(212,212,212)"/><stop offset="0.464" stop-color="rgb(194,194,194)"/><stop offset="0.508" stop-color="rgb(63,63,63)"/><stop offset="0.525" stop-color="rgb(49,49,49)"/><stop offset="0.552" stop-color="rgb(49,49,49)"/><stop offset="0.560" stop-color="rgb(52,52,52)"/><stop offset="0.569" stop-color="rgb(68,68,68)"/><stop offset="0.578" stop-color="rgb(109,109,109)"/><stop offset="0.587" stop-color="rgb(176,176,176)"/><stop offset="0.595" stop-color="rgb(220,220,220)"/><stop offset="0.604" stop-color="rgb(181,181,181)"/><stop offset="0.613" stop-color="rgb(127,127,127)"/><stop offset="0.622" stop-color="rgb(116,116,116)"/><stop offset="0.648" stop-color="rgb(143,143,143)"/><stop offset="0.701" stop-color="rgb(158,158,158)"/><stop offset="0.727" stop-color="rgb(176,176,176)"/><stop offset="0.753" stop-color="rgb(176,176,176)"/><stop offset="0.841" stop-color="rgb(121,121,121)"/><stop offset="0.858" stop-color="rgb(92,92,92)"/><stop offset="0.884" stop-color="rgb(34,34,34)"/><stop offset="0.902" stop-color="rgb(14,14,14)"/><stop offset="0.998" stop-color="rgb(10,10,10)"/></linearGradient><linearGradient id="lg51" x1="0" y1="30.4" x2="0" y2="87.5" gradientUnits="userSpaceOnUse"><stop offset="0.000" stop-color="rgb(66,66,66)"/><stop offset="0.140" stop-color="rgb(69,69,69)"/><stop offset="0.245" stop-color="rgb(83,83,83)"/><stop offset="0.263" stop-color="rgb(88,88,88)"/><stop offset="0.298" stop-color="rgb(118,118,118)"/><stop offset="0.333" stop-color="rgb(98,98,98)"/><stop offset="0.377" stop-color="rgb(116,116,116)"/><stop offset="0.403" stop-color="rgb(105,105,105)"/><stop offset="0.420" stop-color="rgb(122,122,122)"/><stop offset="0.447" stop-color="rgb(181,181,181)"/><stop offset="0.455" stop-color="rgb(188,188,188)"/><stop offset="0.464" stop-color="rgb(181,181,181)"/><stop offset="0.473" stop-color="rgb(164,164,164)"/><stop offset="0.508" stop-color="rgb(63,63,63)"/><stop offset="0.525" stop-color="rgb(49,49,49)"/><stop offset="0.552" stop-color="rgb(49,49,49)"/><stop offset="0.560" stop-color="rgb(52,52,52)"/><stop offset="0.569" stop-color="rgb(69,69,69)"/><stop offset="0.578" stop-color="rgb(113,113,113)"/><stop offset="0.587" stop-color="rgb(189,189,189)"/><stop offset="0.595" stop-color="rgb(240,240,240)"/><stop offset="0.604" stop-color="rgb(195,195,195)"/><stop offset="0.613" stop-color="rgb(133,133,133)"/><stop offset="0.622" stop-color="rgb(120,120,120)"/><stop offset="0.648" stop-color="rgb(152,152,152)"/><stop offset="0.701" stop-color="rgb(168,168,168)"/><stop offset="0.727" stop-color="rgb(186,186,186)"/><stop offset="0.753" stop-color="rgb(186,186,186)"/><stop offset="0.841" stop-color="rgb(126,126,126)"/><stop offset="0.884" stop-color="rgb(35,35,35)"/><stop offset="0.902" stop-color="rgb(14,14,14)"/><stop offset="0.998" stop-color="rgb(10,10,10)"/></linearGradient><linearGradient id="lg52" x1="0" y1="30.4" x2="0" y2="87.5" gradientUnits="userSpaceOnUse"><stop offset="0.000" stop-color="rgb(66,66,66)"/><stop offset="0.079" stop-color="rgb(67,67,67)"/><stop offset="0.123" stop-color="rgb(81,81,81)"/><stop offset="0.175" stop-color="rgb(73,73,73)"/><stop offset="0.289" stop-color="rgb(103,103,103)"/><stop offset="0.324" stop-color="rgb(89,89,89)"/><stop offset="0.359" stop-color="rgb(90,90,90)"/><stop offset="0.412" stop-color="rgb(115,115,115)"/><stop offset="0.420" stop-color="rgb(127,127,127)"/><stop offset="0.447" stop-color="rgb(186,186,186)"/><stop offset="0.455" stop-color="rgb(193,193,193)"/><stop offset="0.464" stop-color="rgb(186,186,186)"/><stop offset="0.473" stop-color="rgb(168,168,168)"/><stop offset="0.508" stop-color="rgb(63,63,63)"/><stop offset="0.525" stop-color="rgb(49,49,49)"/><stop offset="0.552" stop-color="rgb(49,49,49)"/><stop offset="0.560" stop-color="rgb(52,52,52)"/><stop offset="0.569" stop-color="rgb(68,68,68)"/><stop offset="0.578" stop-color="rgb(110,110,110)"/><stop offset="0.587" stop-color="rgb(179,179,179)"/><stop offset="0.595" stop-color="rgb(225,225,225)"/><stop offset="0.604" stop-color="rgb(185,185,185)"/><stop offset="0.613" stop-color="rgb(131,131,131)"/><stop offset="0.622" stop-color="rgb(122,122,122)"/><stop offset="0.648" stop-color="rgb(156,156,156)"/><stop offset="0.701" stop-color="rgb(173,173,173)"/><stop offset="0.727" stop-color="rgb(191,191,191)"/><stop offset="0.753" stop-color="rgb(190,190,190)"/><stop offset="0.841" stop-color="rgb(128,128,128)"/><stop offset="0.884" stop-color="rgb(35,35,35)"/><stop offset="0.902" stop-color="rgb(14,14,14)"/><stop offset="0.998" stop-color="rgb(10,10,10)"/></linearGradient><linearGradient id="lg53" x1="0" y1="30.4" x2="0" y2="87.5" gradientUnits="userSpaceOnUse"><stop offset="0.000" stop-color="rgb(66,66,66)"/><stop offset="0.096" stop-color="rgb(69,69,69)"/><stop offset="0.140" stop-color="rgb(104,104,104)"/><stop offset="0.193" stop-color="rgb(78,78,78)"/><stop offset="0.210" stop-color="rgb(83,83,83)"/><stop offset="0.228" stop-color="rgb(107,107,107)"/><stop offset="0.254" stop-color="rgb(86,86,86)"/><stop offset="0.368" stop-color="rgb(88,88,88)"/><stop offset="0.385" stop-color="rgb(99,99,99)"/><stop offset="0.403" stop-color="rgb(120,120,120)"/><stop offset="0.429" stop-color="rgb(130,130,130)"/><stop offset="0.455" stop-color="rgb(158,158,158)"/><stop offset="0.473" stop-color="rgb(141,141,141)"/><stop offset="0.508" stop-color="rgb(73,73,73)"/><stop offset="0.543" stop-color="rgb(53,53,53)"/><stop offset="0.560" stop-color="rgb(52,52,52)"/><stop offset="0.569" stop-color="rgb(70,70,70)"/><stop offset="0.578" stop-color="rgb(120,120,120)"/><stop offset="0.587" stop-color="rgb(213,213,213)"/><stop offset="0.595" stop-color="rgb(255,255,255)"/><stop offset="0.604" stop-color="rgb(220,220,220)"/><stop offset="0.613" stop-color="rgb(142,142,142)"/><stop offset="0.622" stop-color="rgb(125,125,125)"/><stop offset="0.639" stop-color="rgb(152,152,152)"/><stop offset="0.657" stop-color="rgb(165,165,165)"/><stop offset="0.701" stop-color="rgb(178,178,178)"/><stop offset="0.727" stop-color="rgb(196,196,196)"/><stop offset="0.753" stop-color="rgb(195,195,195)"/><stop offset="0.841" stop-color="rgb(131,131,131)"/><stop offset="0.884" stop-color="rgb(35,35,35)"/><stop offset="0.902" stop-color="rgb(14,14,14)"/><stop offset="0.998" stop-color="rgb(10,10,10)"/></linearGradient><linearGradient id="lg54" x1="0" y1="30.4" x2="0" y2="87.5" gradientUnits="userSpaceOnUse"><stop offset="0.000" stop-color="rgb(66,66,66)"/><stop offset="0.123" stop-color="rgb(69,69,69)"/><stop offset="0.158" stop-color="rgb(95,95,95)"/><stop offset="0.184" stop-color="rgb(83,83,83)"/><stop offset="0.394" stop-color="rgb(91,91,91)"/><stop offset="0.412" stop-color="rgb(103,103,103)"/><stop offset="0.447" stop-color="rgb(167,167,167)"/><stop offset="0.455" stop-color="rgb(173,173,173)"/><stop offset="0.473" stop-color="rgb(152,152,152)"/><stop offset="0.490" stop-color="rgb(113,113,113)"/><stop offset="0.508" stop-color="rgb(62,62,62)"/><stop offset="0.525" stop-color="rgb(49,49,49)"/><stop offset="0.552" stop-color="rgb(49,49,49)"/><stop offset="0.560" stop-color="rgb(52,52,52)"/><stop offset="0.569" stop-color="rgb(69,69,69)"/><stop offset="0.578" stop-color="rgb(114,114,114)"/><stop offset="0.587" stop-color="rgb(191,191,191)"/><stop offset="0.595" stop-color="rgb(247,247,247)"/><stop offset="0.604" stop-color="rgb(216,216,216)"/><stop offset="0.613" stop-color="rgb(166,166,166)"/><stop offset="0.622" stop-color="rgb(157,157,157)"/><stop offset="0.657" stop-color="rgb(198,198,198)"/><stop offset="0.674" stop-color="rgb(255,255,255)"/><stop offset="0.701" stop-color="rgb(255,255,255)"/><stop offset="0.709" stop-color="rgb(226,226,226)"/><stop offset="0.718" stop-color="rgb(219,219,219)"/><stop offset="0.744" stop-color="rgb(221,221,221)"/><stop offset="0.762" stop-color="rgb(213,213,213)"/><stop offset="0.832" stop-color="rgb(157,157,157)"/><stop offset="0.841" stop-color="rgb(144,144,144)"/><stop offset="0.884" stop-color="rgb(35,35,35)"/><stop offset="0.893" stop-color="rgb(21,21,21)"/><stop offset="0.919" stop-color="rgb(11,11,11)"/><stop offset="0.998" stop-color="rgb(10,10,10)"/></linearGradient><linearGradient id="lg55" x1="0" y1="30.4" x2="0" y2="87.5" gradientUnits="userSpaceOnUse"><stop offset="0.000" stop-color="rgb(66,66,66)"/><stop offset="0.166" stop-color="rgb(72,72,72)"/><stop offset="0.254" stop-color="rgb(84,84,84)"/><stop offset="0.289" stop-color="rgb(99,99,99)"/><stop offset="0.324" stop-color="rgb(88,88,88)"/><stop offset="0.377" stop-color="rgb(90,90,90)"/><stop offset="0.420" stop-color="rgb(132,132,132)"/><stop offset="0.455" stop-color="rgb(154,154,154)"/><stop offset="0.464" stop-color="rgb(149,149,149)"/><stop offset="0.482" stop-color="rgb(122,122,122)"/><stop offset="0.508" stop-color="rgb(60,60,60)"/><stop offset="0.525" stop-color="rgb(49,49,49)"/><stop offset="0.552" stop-color="rgb(49,49,49)"/><stop offset="0.560" stop-color="rgb(52,52,52)"/><stop offset="0.569" stop-color="rgb(68,68,68)"/><stop offset="0.578" stop-color="rgb(110,110,110)"/><stop offset="0.587" stop-color="rgb(179,179,179)"/><stop offset="0.595" stop-color="rgb(225,225,225)"/><stop offset="0.604" stop-color="rgb(184,184,184)"/><stop offset="0.613" stop-color="rgb(127,127,127)"/><stop offset="0.622" stop-color="rgb(114,114,114)"/><stop offset="0.648" stop-color="rgb(139,139,139)"/><stop offset="0.701" stop-color="rgb(153,153,153)"/><stop offset="0.727" stop-color="rgb(171,171,171)"/><stop offset="0.753" stop-color="rgb(172,172,172)"/><stop offset="0.841" stop-color="rgb(118,118,118)"/><stop offset="0.858" stop-color="rgb(91,91,91)"/><stop offset="0.884" stop-color="rgb(34,34,34)"/><stop offset="0.902" stop-color="rgb(14,14,14)"/><stop offset="0.998" stop-color="rgb(10,10,10)"/></linearGradient><linearGradient id="lg56" x1="0" y1="30.4" x2="0" y2="87.5" gradientUnits="userSpaceOnUse"><stop offset="0.000" stop-color="rgb(66,66,66)"/><stop offset="0.114" stop-color="rgb(69,69,69)"/><stop offset="0.158" stop-color="rgb(101,101,101)"/><stop offset="0.201" stop-color="rgb(78,78,78)"/><stop offset="0.385" stop-color="rgb(89,89,89)"/><stop offset="0.403" stop-color="rgb(98,98,98)"/><stop offset="0.438" stop-color="rgb(168,168,168)"/><stop offset="0.455" stop-color="rgb(180,180,180)"/><stop offset="0.473" stop-color="rgb(161,161,161)"/><stop offset="0.490" stop-color="rgb(130,130,130)"/><stop offset="0.508" stop-color="rgb(84,84,84)"/><stop offset="0.517" stop-color="rgb(71,71,71)"/><stop offset="0.543" stop-color="rgb(52,52,52)"/><stop offset="0.560" stop-color="rgb(52,52,52)"/><stop offset="0.569" stop-color="rgb(70,70,70)"/><stop offset="0.578" stop-color="rgb(120,120,120)"/><stop offset="0.587" stop-color="rgb(206,206,206)"/><stop offset="0.595" stop-color="rgb(255,255,255)"/><stop offset="0.604" stop-color="rgb(219,219,219)"/><stop offset="0.613" stop-color="rgb(146,146,146)"/><stop offset="0.622" stop-color="rgb(123,123,123)"/><stop offset="0.657" stop-color="rgb(152,152,152)"/><stop offset="0.701" stop-color="rgb(163,163,163)"/><stop offset="0.727" stop-color="rgb(181,181,181)"/><stop offset="0.753" stop-color="rgb(181,181,181)"/><stop offset="0.841" stop-color="rgb(123,123,123)"/><stop offset="0.858" stop-color="rgb(93,93,93)"/><stop offset="0.884" stop-color="rgb(34,34,34)"/><stop offset="0.902" stop-color="rgb(14,14,14)"/><stop offset="0.998" stop-color="rgb(10,10,10)"/></linearGradient><linearGradient id="lg57" x1="0" y1="30.4" x2="0" y2="87.5" gradientUnits="userSpaceOnUse"><stop offset="0.000" stop-color="rgb(66,66,66)"/><stop offset="0.175" stop-color="rgb(73,73,73)"/><stop offset="0.193" stop-color="rgb(81,81,81)"/><stop offset="0.228" stop-color="rgb(113,113,113)"/><stop offset="0.280" stop-color="rgb(87,87,87)"/><stop offset="0.394" stop-color="rgb(91,91,91)"/><stop offset="0.412" stop-color="rgb(109,109,109)"/><stop offset="0.429" stop-color="rgb(158,158,158)"/><stop offset="0.438" stop-color="rgb(171,171,171)"/><stop offset="0.447" stop-color="rgb(174,174,174)"/><stop offset="0.464" stop-color="rgb(163,163,163)"/><stop offset="0.473" stop-color="rgb(149,149,149)"/><stop offset="0.490" stop-color="rgb(111,111,111)"/><stop offset="0.508" stop-color="rgb(61,61,61)"/><stop offset="0.525" stop-color="rgb(49,49,49)"/><stop offset="0.543" stop-color="rgb(51,51,51)"/><stop offset="0.560" stop-color="rgb(62,62,62)"/><stop offset="0.569" stop-color="rgb(77,77,77)"/><stop offset="0.578" stop-color="rgb(123,123,123)"/><stop offset="0.587" stop-color="rgb(213,213,213)"/><stop offset="0.595" stop-color="rgb(255,255,255)"/><stop offset="0.604" stop-color="rgb(219,219,219)"/><stop offset="0.613" stop-color="rgb(141,141,141)"/><stop offset="0.622" stop-color="rgb(123,123,123)"/><stop offset="0.639" stop-color="rgb(148,148,148)"/><stop offset="0.657" stop-color="rgb(161,161,161)"/><stop offset="0.701" stop-color="rgb(173,173,173)"/><stop offset="0.727" stop-color="rgb(191,191,191)"/><stop offset="0.753" stop-color="rgb(190,190,190)"/><stop offset="0.841" stop-color="rgb(128,128,128)"/><stop offset="0.884" stop-color="rgb(35,35,35)"/><stop offset="0.902" stop-color="rgb(14,14,14)"/><stop offset="0.998" stop-color="rgb(10,10,10)"/></linearGradient><linearGradient id="lg58" x1="0" y1="30.4" x2="0" y2="87.5" gradientUnits="userSpaceOnUse"><stop offset="0.000" stop-color="rgb(66,66,66)"/><stop offset="0.166" stop-color="rgb(72,72,72)"/><stop offset="0.228" stop-color="rgb(101,101,101)"/><stop offset="0.263" stop-color="rgb(85,85,85)"/><stop offset="0.394" stop-color="rgb(91,91,91)"/><stop offset="0.412" stop-color="rgb(103,103,103)"/><stop offset="0.447" stop-color="rgb(167,167,167)"/><stop offset="0.455" stop-color="rgb(173,173,173)"/><stop offset="0.473" stop-color="rgb(152,152,152)"/><stop offset="0.490" stop-color="rgb(113,113,113)"/><stop offset="0.508" stop-color="rgb(62,62,62)"/><stop offset="0.525" stop-color="rgb(49,49,49)"/><stop offset="0.552" stop-color="rgb(50,50,50)"/><stop offset="0.560" stop-color="rgb(57,57,57)"/><stop offset="0.569" stop-color="rgb(80,80,80)"/><stop offset="0.578" stop-color="rgb(131,131,131)"/><stop offset="0.587" stop-color="rgb(216,216,216)"/><stop offset="0.595" stop-color="rgb(255,255,255)"/><stop offset="0.604" stop-color="rgb(227,227,227)"/><stop offset="0.613" stop-color="rgb(161,161,161)"/><stop offset="0.622" stop-color="rgb(144,144,144)"/><stop offset="0.648" stop-color="rgb(166,166,166)"/><stop offset="0.701" stop-color="rgb(183,183,183)"/><stop offset="0.727" stop-color="rgb(201,201,201)"/><stop offset="0.753" stop-color="rgb(199,199,199)"/><stop offset="0.841" stop-color="rgb(134,134,134)"/><stop offset="0.884" stop-color="rgb(35,35,35)"/><stop offset="0.893" stop-color="rgb(21,21,21)"/><stop offset="0.919" stop-color="rgb(11,11,11)"/><stop offset="0.998" stop-color="rgb(10,10,10)"/></linearGradient><linearGradient id="lg59" x1="0" y1="30.4" x2="0" y2="87.5" gradientUnits="userSpaceOnUse"><stop offset="0.000" stop-color="rgb(66,66,66)"/><stop offset="0.096" stop-color="rgb(68,68,68)"/><stop offset="0.140" stop-color="rgb(81,81,81)"/><stop offset="0.175" stop-color="rgb(74,74,74)"/><stop offset="0.219" stop-color="rgb(80,80,80)"/><stop offset="0.245" stop-color="rgb(88,88,88)"/><stop offset="0.280" stop-color="rgb(114,114,114)"/><stop offset="0.359" stop-color="rgb(89,89,89)"/><stop offset="0.385" stop-color="rgb(89,89,89)"/><stop offset="0.403" stop-color="rgb(98,98,98)"/><stop offset="0.429" stop-color="rgb(152,152,152)"/><stop offset="0.455" stop-color="rgb(159,159,159)"/><stop offset="0.464" stop-color="rgb(153,153,153)"/><stop offset="0.482" stop-color="rgb(125,125,125)"/><stop offset="0.508" stop-color="rgb(61,61,61)"/><stop offset="0.525" stop-color="rgb(49,49,49)"/><stop offset="0.552" stop-color="rgb(49,49,49)"/><stop offset="0.560" stop-color="rgb(52,52,52)"/><stop offset="0.569" stop-color="rgb(69,69,69)"/><stop offset="0.578" stop-color="rgb(116,116,116)"/><stop offset="0.587" stop-color="rgb(199,199,199)"/><stop offset="0.595" stop-color="rgb(255,255,255)"/><stop offset="0.604" stop-color="rgb(205,205,205)"/><stop offset="0.613" stop-color="rgb(136,136,136)"/><stop offset="0.622" stop-color="rgb(121,121,121)"/><stop offset="0.648" stop-color="rgb(152,152,152)"/><stop offset="0.701" stop-color="rgb(168,168,168)"/><stop offset="0.727" stop-color="rgb(186,186,186)"/><stop offset="0.753" stop-color="rgb(186,186,186)"/><stop offset="0.841" stop-color="rgb(126,126,126)"/><stop offset="0.884" stop-color="rgb(35,35,35)"/><stop offset="0.902" stop-color="rgb(14,14,14)"/><stop offset="0.998" stop-color="rgb(10,10,10)"/></linearGradient><linearGradient id="lg60" x1="0" y1="30.4" x2="0" y2="87.5" gradientUnits="userSpaceOnUse"><stop offset="0.000" stop-color="rgb(66,66,66)"/><stop offset="0.140" stop-color="rgb(71,71,71)"/><stop offset="0.158" stop-color="rgb(84,84,84)"/><stop offset="0.184" stop-color="rgb(121,121,121)"/><stop offset="0.193" stop-color="rgb(120,120,120)"/><stop offset="0.219" stop-color="rgb(94,94,94)"/><stop offset="0.254" stop-color="rgb(111,111,111)"/><stop offset="0.298" stop-color="rgb(88,88,88)"/><stop offset="0.342" stop-color="rgb(105,105,105)"/><stop offset="0.368" stop-color="rgb(91,91,91)"/><stop offset="0.394" stop-color="rgb(90,90,90)"/><stop offset="0.412" stop-color="rgb(99,99,99)"/><stop offset="0.447" stop-color="rgb(149,149,149)"/><stop offset="0.455" stop-color="rgb(153,153,153)"/><stop offset="0.464" stop-color="rgb(149,149,149)"/><stop offset="0.482" stop-color="rgb(122,122,122)"/><stop offset="0.508" stop-color="rgb(60,60,60)"/><stop offset="0.525" stop-color="rgb(49,49,49)"/><stop offset="0.552" stop-color="rgb(49,49,49)"/><stop offset="0.560" stop-color="rgb(52,52,52)"/><stop offset="0.569" stop-color="rgb(70,70,70)"/><stop offset="0.578" stop-color="rgb(122,122,122)"/><stop offset="0.587" stop-color="rgb(217,217,217)"/><stop offset="0.595" stop-color="rgb(255,255,255)"/><stop offset="0.604" stop-color="rgb(227,227,227)"/><stop offset="0.613" stop-color="rgb(152,152,152)"/><stop offset="0.622" stop-color="rgb(142,142,142)"/><stop offset="0.639" stop-color="rgb(186,186,186)"/><stop offset="0.657" stop-color="rgb(206,206,206)"/><stop offset="0.727" stop-color="rgb(240,240,240)"/><stop offset="0.744" stop-color="rgb(240,240,240)"/><stop offset="0.779" stop-color="rgb(218,218,218)"/><stop offset="0.832" stop-color="rgb(169,169,169)"/><stop offset="0.841" stop-color="rgb(154,154,154)"/><stop offset="0.876" stop-color="rgb(56,56,56)"/><stop offset="0.893" stop-color="rgb(21,21,21)"/><stop offset="0.919" stop-color="rgb(11,11,11)"/><stop offset="0.998" stop-color="rgb(10,10,10)"/></linearGradient><linearGradient id="lg61" x1="0" y1="30.4" x2="0" y2="87.5" gradientUnits="userSpaceOnUse"><stop offset="0.000" stop-color="rgb(110,110,110)"/><stop offset="0.158" stop-color="rgb(116,116,116)"/><stop offset="0.175" stop-color="rgb(140,140,140)"/><stop offset="0.184" stop-color="rgb(172,172,172)"/><stop offset="0.193" stop-color="rgb(224,224,224)"/><stop offset="0.201" stop-color="rgb(255,255,255)"/><stop offset="0.420" stop-color="rgb(255,255,255)"/><stop offset="0.569" stop-color="rgb(206,206,206)"/><stop offset="0.578" stop-color="rgb(192,192,192)"/><stop offset="0.587" stop-color="rgb(166,166,166)"/><stop offset="0.604" stop-color="rgb(83,83,83)"/><stop offset="0.613" stop-color="rgb(67,67,67)"/><stop offset="0.622" stop-color="rgb(62,62,62)"/><stop offset="0.683" stop-color="rgb(65,65,65)"/><stop offset="0.701" stop-color="rgb(110,110,110)"/><stop offset="0.709" stop-color="rgb(118,118,118)"/><stop offset="0.823" stop-color="rgb(120,120,120)"/><stop offset="0.849" stop-color="rgb(112,112,112)"/><stop offset="0.858" stop-color="rgb(101,101,101)"/><stop offset="0.876" stop-color="rgb(65,65,65)"/><stop offset="0.893" stop-color="rgb(45,45,45)"/><stop offset="0.998" stop-color="rgb(40,40,40)"/></linearGradient><linearGradient id="lg62" x1="0" y1="30.4" x2="0" y2="87.5" gradientUnits="userSpaceOnUse"><stop offset="0.000" stop-color="rgb(95,95,95)"/><stop offset="0.140" stop-color="rgb(96,96,96)"/><stop offset="0.184" stop-color="rgb(124,124,124)"/><stop offset="0.228" stop-color="rgb(134,134,134)"/><stop offset="0.236" stop-color="rgb(144,144,144)"/><stop offset="0.245" stop-color="rgb(171,171,171)"/><stop offset="0.254" stop-color="rgb(229,229,229)"/><stop offset="0.263" stop-color="rgb(255,255,255)"/><stop offset="0.280" stop-color="rgb(255,255,255)"/><stop offset="0.289" stop-color="rgb(202,202,202)"/><stop offset="0.298" stop-color="rgb(164,164,164)"/><stop offset="0.315" stop-color="rgb(141,141,141)"/><stop offset="0.333" stop-color="rgb(136,136,136)"/><stop offset="0.350" stop-color="rgb(141,141,141)"/><stop offset="0.359" stop-color="rgb(162,162,162)"/><stop offset="0.368" stop-color="rgb(215,215,215)"/><stop offset="0.377" stop-color="rgb(255,255,255)"/><stop offset="0.394" stop-color="rgb(255,255,255)"/><stop offset="0.412" stop-color="rgb(178,178,178)"/><stop offset="0.429" stop-color="rgb(143,143,143)"/><stop offset="0.455" stop-color="rgb(131,131,131)"/><stop offset="0.534" stop-color="rgb(129,129,129)"/><stop offset="0.543" stop-color="rgb(142,142,142)"/><stop offset="0.552" stop-color="rgb(185,185,185)"/><stop offset="0.560" stop-color="rgb(255,255,255)"/><stop offset="0.578" stop-color="rgb(255,255,255)"/><stop offset="0.587" stop-color="rgb(207,207,207)"/><stop offset="0.595" stop-color="rgb(130,130,130)"/><stop offset="0.604" stop-color="rgb(95,95,95)"/><stop offset="0.622" stop-color="rgb(71,71,71)"/><stop offset="0.639" stop-color="rgb(59,59,59)"/><stop offset="0.665" stop-color="rgb(56,56,56)"/><stop offset="0.683" stop-color="rgb(66,66,66)"/><stop offset="0.701" stop-color="rgb(112,112,112)"/><stop offset="0.718" stop-color="rgb(130,130,130)"/><stop offset="0.771" stop-color="rgb(134,134,134)"/><stop offset="0.849" stop-color="rgb(119,119,119)"/><stop offset="0.867" stop-color="rgb(102,102,102)"/><stop offset="0.893" stop-color="rgb(51,51,51)"/><stop offset="0.911" stop-color="rgb(34,34,34)"/><stop offset="0.998" stop-color="rgb(30,30,30)"/></linearGradient><linearGradient id="lg63" x1="0" y1="30.4" x2="0" y2="87.5" gradientUnits="userSpaceOnUse"><stop offset="0.000" stop-color="rgb(95,95,95)"/><stop offset="0.114" stop-color="rgb(96,96,96)"/><stop offset="0.123" stop-color="rgb(101,101,101)"/><stop offset="0.140" stop-color="rgb(137,137,137)"/><stop offset="0.166" stop-color="rgb(112,112,112)"/><stop offset="0.193" stop-color="rgb(128,128,128)"/><stop offset="0.236" stop-color="rgb(137,137,137)"/><stop offset="0.245" stop-color="rgb(155,155,155)"/><stop offset="0.263" stop-color="rgb(255,255,255)"/><stop offset="0.280" stop-color="rgb(246,246,246)"/><stop offset="0.289" stop-color="rgb(182,182,182)"/><stop offset="0.298" stop-color="rgb(147,147,147)"/><stop offset="0.306" stop-color="rgb(137,137,137)"/><stop offset="0.350" stop-color="rgb(139,139,139)"/><stop offset="0.359" stop-color="rgb(156,156,156)"/><stop offset="0.377" stop-color="rgb(255,255,255)"/><stop offset="0.385" stop-color="rgb(255,255,255)"/><stop offset="0.394" stop-color="rgb(238,238,238)"/><stop offset="0.403" stop-color="rgb(178,178,178)"/><stop offset="0.412" stop-color="rgb(146,146,146)"/><stop offset="0.420" stop-color="rgb(140,140,140)"/><stop offset="0.455" stop-color="rgb(165,165,165)"/><stop offset="0.482" stop-color="rgb(163,163,163)"/><stop offset="0.517" stop-color="rgb(129,129,129)"/><stop offset="0.534" stop-color="rgb(127,127,127)"/><stop offset="0.543" stop-color="rgb(138,138,138)"/><stop offset="0.552" stop-color="rgb(175,175,175)"/><stop offset="0.560" stop-color="rgb(242,242,242)"/><stop offset="0.569" stop-color="rgb(255,255,255)"/><stop offset="0.578" stop-color="rgb(255,255,255)"/><stop offset="0.595" stop-color="rgb(112,112,112)"/><stop offset="0.604" stop-color="rgb(85,85,85)"/><stop offset="0.630" stop-color="rgb(63,63,63)"/><stop offset="0.674" stop-color="rgb(59,59,59)"/><stop offset="0.683" stop-color="rgb(66,66,66)"/><stop offset="0.701" stop-color="rgb(112,112,112)"/><stop offset="0.709" stop-color="rgb(125,125,125)"/><stop offset="0.736" stop-color="rgb(134,134,134)"/><stop offset="0.771" stop-color="rgb(134,134,134)"/><stop offset="0.849" stop-color="rgb(119,119,119)"/><stop offset="0.867" stop-color="rgb(102,102,102)"/><stop offset="0.893" stop-color="rgb(51,51,51)"/><stop offset="0.911" stop-color="rgb(34,34,34)"/><stop offset="0.998" stop-color="rgb(30,30,30)"/></linearGradient><linearGradient id="lg64" x1="0" y1="30.4" x2="0" y2="87.5" gradientUnits="userSpaceOnUse"><stop offset="0.000" stop-color="rgb(20,20,20)"/><stop offset="0.105" stop-color="rgb(26,26,26)"/><stop offset="0.158" stop-color="rgb(20,20,20)"/><stop offset="0.455" stop-color="rgb(20,20,20)"/><stop offset="0.499" stop-color="rgb(29,29,29)"/><stop offset="0.517" stop-color="rgb(24,24,24)"/><stop offset="0.534" stop-color="rgb(32,32,32)"/><stop offset="0.560" stop-color="rgb(71,71,71)"/><stop offset="0.587" stop-color="rgb(25,25,25)"/><stop offset="0.622" stop-color="rgb(21,21,21)"/><stop offset="0.630" stop-color="rgb(26,26,26)"/><stop offset="0.639" stop-color="rgb(52,52,52)"/><stop offset="0.648" stop-color="rgb(122,122,122)"/><stop offset="0.657" stop-color="rgb(216,216,216)"/><stop offset="0.665" stop-color="rgb(248,248,248)"/><stop offset="0.674" stop-color="rgb(180,180,180)"/><stop offset="0.683" stop-color="rgb(89,89,89)"/><stop offset="0.692" stop-color="rgb(38,38,38)"/><stop offset="0.701" stop-color="rgb(23,23,23)"/><stop offset="0.727" stop-color="rgb(21,21,21)"/><stop offset="0.744" stop-color="rgb(30,30,30)"/><stop offset="0.753" stop-color="rgb(45,45,45)"/><stop offset="0.779" stop-color="rgb(132,132,132)"/><stop offset="0.788" stop-color="rgb(149,149,149)"/><stop offset="0.806" stop-color="rgb(158,158,158)"/><stop offset="0.823" stop-color="rgb(148,148,148)"/><stop offset="0.841" stop-color="rgb(127,127,127)"/><stop offset="0.858" stop-color="rgb(93,93,93)"/><stop offset="0.876" stop-color="rgb(40,40,40)"/><stop offset="0.893" stop-color="rgb(16,16,16)"/><stop offset="0.998" stop-color="rgb(12,12,12)"/></linearGradient><linearGradient id="lg65" x1="0" y1="30.4" x2="0" y2="87.5" gradientUnits="userSpaceOnUse"><stop offset="0.000" stop-color="rgb(18,18,18)"/><stop offset="0.088" stop-color="rgb(18,18,18)"/><stop offset="0.131" stop-color="rgb(27,27,27)"/><stop offset="0.193" stop-color="rgb(18,18,18)"/><stop offset="0.438" stop-color="rgb(21,21,21)"/><stop offset="0.447" stop-color="rgb(34,34,34)"/><stop offset="0.455" stop-color="rgb(73,73,73)"/><stop offset="0.464" stop-color="rgb(135,135,135)"/><stop offset="0.473" stop-color="rgb(168,168,168)"/><stop offset="0.482" stop-color="rgb(135,135,135)"/><stop offset="0.490" stop-color="rgb(73,73,73)"/><stop offset="0.499" stop-color="rgb(34,34,34)"/><stop offset="0.508" stop-color="rgb(21,21,21)"/><stop offset="0.604" stop-color="rgb(25,25,25)"/><stop offset="0.692" stop-color="rgb(19,19,19)"/><stop offset="0.709" stop-color="rgb(26,26,26)"/><stop offset="0.744" stop-color="rgb(78,78,78)"/><stop offset="0.753" stop-color="rgb(74,74,74)"/><stop offset="0.779" stop-color="rgb(30,30,30)"/><stop offset="0.797" stop-color="rgb(19,19,19)"/><stop offset="0.998" stop-color="rgb(10,10,10)"/></linearGradient><linearGradient id="lg66" x1="0" y1="30.4" x2="0" y2="87.5" gradientUnits="userSpaceOnUse"><stop offset="0.000" stop-color="rgb(52,52,52)"/><stop offset="0.088" stop-color="rgb(56,56,56)"/><stop offset="0.131" stop-color="rgb(94,94,94)"/><stop offset="0.140" stop-color="rgb(112,112,112)"/><stop offset="0.149" stop-color="rgb(155,155,155)"/><stop offset="0.158" stop-color="rgb(212,212,212)"/><stop offset="0.166" stop-color="rgb(232,232,232)"/><stop offset="0.175" stop-color="rgb(194,194,194)"/><stop offset="0.184" stop-color="rgb(141,141,141)"/><stop offset="0.193" stop-color="rgb(114,114,114)"/><stop offset="0.201" stop-color="rgb(109,109,109)"/><stop offset="0.245" stop-color="rgb(124,124,124)"/><stop offset="0.254" stop-color="rgb(138,138,138)"/><stop offset="0.263" stop-color="rgb(176,176,176)"/><stop offset="0.271" stop-color="rgb(231,231,231)"/><stop offset="0.280" stop-color="rgb(255,255,255)"/><stop offset="0.289" stop-color="rgb(224,224,224)"/><stop offset="0.298" stop-color="rgb(167,167,167)"/><stop offset="0.306" stop-color="rgb(130,130,130)"/><stop offset="0.315" stop-color="rgb(117,117,117)"/><stop offset="0.333" stop-color="rgb(119,119,119)"/><stop offset="0.368" stop-color="rgb(146,146,146)"/><stop offset="0.394" stop-color="rgb(117,117,117)"/><stop offset="0.412" stop-color="rgb(108,108,108)"/><stop offset="0.438" stop-color="rgb(107,107,107)"/><stop offset="0.473" stop-color="rgb(128,128,128)"/><stop offset="0.499" stop-color="rgb(105,105,105)"/><stop offset="0.543" stop-color="rgb(97,97,97)"/><stop offset="0.578" stop-color="rgb(55,55,55)"/><stop offset="0.595" stop-color="rgb(51,51,51)"/><stop offset="0.613" stop-color="rgb(53,53,53)"/><stop offset="0.657" stop-color="rgb(96,96,96)"/><stop offset="0.692" stop-color="rgb(102,102,102)"/><stop offset="0.762" stop-color="rgb(73,73,73)"/><stop offset="0.841" stop-color="rgb(64,64,64)"/><stop offset="0.867" stop-color="rgb(27,27,27)"/><stop offset="0.884" stop-color="rgb(12,12,12)"/><stop offset="0.998" stop-color="rgb(8,8,8)"/></linearGradient><linearGradient id="lg67" x1="0" y1="30.4" x2="0" y2="87.5" gradientUnits="userSpaceOnUse"><stop offset="0.000" stop-color="rgb(52,52,52)"/><stop offset="0.088" stop-color="rgb(58,58,58)"/><stop offset="0.123" stop-color="rgb(101,101,101)"/><stop offset="0.149" stop-color="rgb(117,117,117)"/><stop offset="0.158" stop-color="rgb(136,136,136)"/><stop offset="0.166" stop-color="rgb(185,185,185)"/><stop offset="0.175" stop-color="rgb(255,255,255)"/><stop offset="0.201" stop-color="rgb(255,255,255)"/><stop offset="0.210" stop-color="rgb(239,239,239)"/><stop offset="0.219" stop-color="rgb(182,182,182)"/><stop offset="0.228" stop-color="rgb(145,145,145)"/><stop offset="0.236" stop-color="rgb(133,133,133)"/><stop offset="0.263" stop-color="rgb(140,140,140)"/><stop offset="0.271" stop-color="rgb(164,164,164)"/><stop offset="0.280" stop-color="rgb(205,205,205)"/><stop offset="0.289" stop-color="rgb(236,236,236)"/><stop offset="0.298" stop-color="rgb(224,224,224)"/><stop offset="0.306" stop-color="rgb(187,187,187)"/><stop offset="0.315" stop-color="rgb(162,162,162)"/><stop offset="0.333" stop-color="rgb(142,142,142)"/><stop offset="0.342" stop-color="rgb(138,138,138)"/><stop offset="0.377" stop-color="rgb(149,149,149)"/><stop offset="0.420" stop-color="rgb(125,125,125)"/><stop offset="0.499" stop-color="rgb(118,118,118)"/><stop offset="0.552" stop-color="rgb(141,141,141)"/><stop offset="0.587" stop-color="rgb(65,65,65)"/><stop offset="0.604" stop-color="rgb(52,52,52)"/><stop offset="0.613" stop-color="rgb(53,53,53)"/><stop offset="0.657" stop-color="rgb(88,88,88)"/><stop offset="0.692" stop-color="rgb(91,91,91)"/><stop offset="0.762" stop-color="rgb(72,72,72)"/><stop offset="0.832" stop-color="rgb(68,68,68)"/><stop offset="0.849" stop-color="rgb(56,56,56)"/><stop offset="0.867" stop-color="rgb(27,27,27)"/><stop offset="0.884" stop-color="rgb(12,12,12)"/><stop offset="0.998" stop-color="rgb(8,8,8)"/></linearGradient><linearGradient id="lg68" x1="0" y1="30.4" x2="0" y2="87.5" gradientUnits="userSpaceOnUse"><stop offset="0.000" stop-color="rgb(52,52,52)"/><stop offset="0.088" stop-color="rgb(58,58,58)"/><stop offset="0.123" stop-color="rgb(99,99,99)"/><stop offset="0.175" stop-color="rgb(139,139,139)"/><stop offset="0.219" stop-color="rgb(127,127,127)"/><stop offset="0.245" stop-color="rgb(130,130,130)"/><stop offset="0.254" stop-color="rgb(143,143,143)"/><stop offset="0.263" stop-color="rgb(179,179,179)"/><stop offset="0.271" stop-color="rgb(236,236,236)"/><stop offset="0.280" stop-color="rgb(255,255,255)"/><stop offset="0.289" stop-color="rgb(236,236,236)"/><stop offset="0.298" stop-color="rgb(181,181,181)"/><stop offset="0.306" stop-color="rgb(145,145,145)"/><stop offset="0.315" stop-color="rgb(134,134,134)"/><stop offset="0.350" stop-color="rgb(153,153,153)"/><stop offset="0.403" stop-color="rgb(134,134,134)"/><stop offset="0.412" stop-color="rgb(153,153,153)"/><stop offset="0.429" stop-color="rgb(255,255,255)"/><stop offset="0.438" stop-color="rgb(255,255,255)"/><stop offset="0.447" stop-color="rgb(224,224,224)"/><stop offset="0.455" stop-color="rgb(180,180,180)"/><stop offset="0.464" stop-color="rgb(185,185,185)"/><stop offset="0.473" stop-color="rgb(234,234,234)"/><stop offset="0.482" stop-color="rgb(255,255,255)"/><stop offset="0.490" stop-color="rgb(254,254,254)"/><stop offset="0.499" stop-color="rgb(190,190,190)"/><stop offset="0.508" stop-color="rgb(141,141,141)"/><stop offset="0.517" stop-color="rgb(120,120,120)"/><stop offset="0.552" stop-color="rgb(101,101,101)"/><stop offset="0.578" stop-color="rgb(56,56,56)"/><stop offset="0.595" stop-color="rgb(52,52,52)"/><stop offset="0.613" stop-color="rgb(58,58,58)"/><stop offset="0.630" stop-color="rgb(86,86,86)"/><stop offset="0.648" stop-color="rgb(99,99,99)"/><stop offset="0.692" stop-color="rgb(102,102,102)"/><stop offset="0.744" stop-color="rgb(92,92,92)"/><stop offset="0.779" stop-color="rgb(73,73,73)"/><stop offset="0.841" stop-color="rgb(64,64,64)"/><stop offset="0.867" stop-color="rgb(27,27,27)"/><stop offset="0.884" stop-color="rgb(12,12,12)"/><stop offset="0.998" stop-color="rgb(8,8,8)"/></linearGradient><linearGradient id="lg69" x1="0" y1="30.4" x2="0" y2="87.5" gradientUnits="userSpaceOnUse"><stop offset="0.000" stop-color="rgb(52,52,52)"/><stop offset="0.088" stop-color="rgb(58,58,58)"/><stop offset="0.123" stop-color="rgb(101,101,101)"/><stop offset="0.175" stop-color="rgb(139,139,139)"/><stop offset="0.184" stop-color="rgb(171,171,171)"/><stop offset="0.193" stop-color="rgb(232,232,232)"/><stop offset="0.201" stop-color="rgb(255,255,255)"/><stop offset="0.219" stop-color="rgb(255,255,255)"/><stop offset="0.228" stop-color="rgb(228,228,228)"/><stop offset="0.236" stop-color="rgb(247,247,247)"/><stop offset="0.254" stop-color="rgb(255,255,255)"/><stop offset="0.271" stop-color="rgb(160,160,160)"/><stop offset="0.280" stop-color="rgb(138,138,138)"/><stop offset="0.289" stop-color="rgb(133,133,133)"/><stop offset="0.464" stop-color="rgb(122,122,122)"/><stop offset="0.473" stop-color="rgb(133,133,133)"/><stop offset="0.482" stop-color="rgb(164,164,164)"/><stop offset="0.490" stop-color="rgb(206,206,206)"/><stop offset="0.499" stop-color="rgb(219,219,219)"/><stop offset="0.508" stop-color="rgb(188,188,188)"/><stop offset="0.517" stop-color="rgb(146,146,146)"/><stop offset="0.525" stop-color="rgb(122,122,122)"/><stop offset="0.543" stop-color="rgb(114,114,114)"/><stop offset="0.552" stop-color="rgb(125,125,125)"/><stop offset="0.560" stop-color="rgb(160,160,160)"/><stop offset="0.569" stop-color="rgb(210,210,210)"/><stop offset="0.578" stop-color="rgb(223,223,223)"/><stop offset="0.587" stop-color="rgb(170,170,170)"/><stop offset="0.595" stop-color="rgb(102,102,102)"/><stop offset="0.604" stop-color="rgb(67,67,67)"/><stop offset="0.613" stop-color="rgb(62,62,62)"/><stop offset="0.630" stop-color="rgb(93,93,93)"/><stop offset="0.648" stop-color="rgb(108,108,108)"/><stop offset="0.692" stop-color="rgb(114,114,114)"/><stop offset="0.744" stop-color="rgb(110,110,110)"/><stop offset="0.823" stop-color="rgb(92,92,92)"/><stop offset="0.841" stop-color="rgb(72,72,72)"/><stop offset="0.867" stop-color="rgb(27,27,27)"/><stop offset="0.884" stop-color="rgb(12,12,12)"/><stop offset="0.998" stop-color="rgb(8,8,8)"/></linearGradient><linearGradient id="lg70" x1="0" y1="30.4" x2="0" y2="87.5" gradientUnits="userSpaceOnUse"><stop offset="0.000" stop-color="rgb(52,52,52)"/><stop offset="0.088" stop-color="rgb(57,57,57)"/><stop offset="0.105" stop-color="rgb(74,74,74)"/><stop offset="0.140" stop-color="rgb(124,124,124)"/><stop offset="0.149" stop-color="rgb(128,128,128)"/><stop offset="0.175" stop-color="rgb(114,114,114)"/><stop offset="0.184" stop-color="rgb(118,118,118)"/><stop offset="0.193" stop-color="rgb(136,136,136)"/><stop offset="0.201" stop-color="rgb(177,177,177)"/><stop offset="0.210" stop-color="rgb(229,229,229)"/><stop offset="0.219" stop-color="rgb(246,246,246)"/><stop offset="0.228" stop-color="rgb(210,210,210)"/><stop offset="0.236" stop-color="rgb(161,161,161)"/><stop offset="0.245" stop-color="rgb(133,133,133)"/><stop offset="0.254" stop-color="rgb(125,125,125)"/><stop offset="0.271" stop-color="rgb(125,125,125)"/><stop offset="0.280" stop-color="rgb(132,132,132)"/><stop offset="0.289" stop-color="rgb(155,155,155)"/><stop offset="0.306" stop-color="rgb(248,248,248)"/><stop offset="0.315" stop-color="rgb(242,242,242)"/><stop offset="0.333" stop-color="rgb(147,147,147)"/><stop offset="0.342" stop-color="rgb(128,128,128)"/><stop offset="0.350" stop-color="rgb(124,124,124)"/><stop offset="0.525" stop-color="rgb(114,114,114)"/><stop offset="0.552" stop-color="rgb(134,134,134)"/><stop offset="0.560" stop-color="rgb(159,159,159)"/><stop offset="0.569" stop-color="rgb(198,198,198)"/><stop offset="0.578" stop-color="rgb(212,212,212)"/><stop offset="0.587" stop-color="rgb(177,177,177)"/><stop offset="0.595" stop-color="rgb(129,129,129)"/><stop offset="0.604" stop-color="rgb(105,105,105)"/><stop offset="0.613" stop-color="rgb(100,100,100)"/><stop offset="0.639" stop-color="rgb(115,115,115)"/><stop offset="0.692" stop-color="rgb(119,119,119)"/><stop offset="0.797" stop-color="rgb(106,106,106)"/><stop offset="0.823" stop-color="rgb(95,95,95)"/><stop offset="0.841" stop-color="rgb(73,73,73)"/><stop offset="0.867" stop-color="rgb(27,27,27)"/><stop offset="0.884" stop-color="rgb(12,12,12)"/><stop offset="0.998" stop-color="rgb(8,8,8)"/></linearGradient><linearGradient id="lg71" x1="0" y1="30.4" x2="0" y2="87.5" gradientUnits="userSpaceOnUse"><stop offset="0.000" stop-color="rgb(52,52,52)"/><stop offset="0.088" stop-color="rgb(58,58,58)"/><stop offset="0.123" stop-color="rgb(100,100,100)"/><stop offset="0.140" stop-color="rgb(112,112,112)"/><stop offset="0.149" stop-color="rgb(129,129,129)"/><stop offset="0.158" stop-color="rgb(175,175,175)"/><stop offset="0.166" stop-color="rgb(246,246,246)"/><stop offset="0.175" stop-color="rgb(255,255,255)"/><stop offset="0.184" stop-color="rgb(249,249,249)"/><stop offset="0.193" stop-color="rgb(182,182,182)"/><stop offset="0.201" stop-color="rgb(140,140,140)"/><stop offset="0.210" stop-color="rgb(127,127,127)"/><stop offset="0.263" stop-color="rgb(133,133,133)"/><stop offset="0.271" stop-color="rgb(144,144,144)"/><stop offset="0.280" stop-color="rgb(180,180,180)"/><stop offset="0.289" stop-color="rgb(244,244,244)"/><stop offset="0.298" stop-color="rgb(255,255,255)"/><stop offset="0.306" stop-color="rgb(255,255,255)"/><stop offset="0.324" stop-color="rgb(166,166,166)"/><stop offset="0.333" stop-color="rgb(157,157,157)"/><stop offset="0.377" stop-color="rgb(203,203,203)"/><stop offset="0.394" stop-color="rgb(214,214,214)"/><stop offset="0.412" stop-color="rgb(201,201,201)"/><stop offset="0.464" stop-color="rgb(131,131,131)"/><stop offset="0.473" stop-color="rgb(137,137,137)"/><stop offset="0.482" stop-color="rgb(166,166,166)"/><stop offset="0.490" stop-color="rgb(206,206,206)"/><stop offset="0.499" stop-color="rgb(219,219,219)"/><stop offset="0.508" stop-color="rgb(188,188,188)"/><stop offset="0.517" stop-color="rgb(146,146,146)"/><stop offset="0.525" stop-color="rgb(122,122,122)"/><stop offset="0.552" stop-color="rgb(101,101,101)"/><stop offset="0.569" stop-color="rgb(66,66,66)"/><stop offset="0.587" stop-color="rgb(53,53,53)"/><stop offset="0.613" stop-color="rgb(59,59,59)"/><stop offset="0.630" stop-color="rgb(89,89,89)"/><stop offset="0.648" stop-color="rgb(103,103,103)"/><stop offset="0.736" stop-color="rgb(106,106,106)"/><stop offset="0.823" stop-color="rgb(89,89,89)"/><stop offset="0.841" stop-color="rgb(71,71,71)"/><stop offset="0.867" stop-color="rgb(27,27,27)"/><stop offset="0.884" stop-color="rgb(12,12,12)"/><stop offset="0.998" stop-color="rgb(8,8,8)"/></linearGradient><linearGradient id="lg72" x1="0" y1="30.4" x2="0" y2="87.5" gradientUnits="userSpaceOnUse"><stop offset="0.000" stop-color="rgb(52,52,52)"/><stop offset="0.088" stop-color="rgb(58,58,58)"/><stop offset="0.123" stop-color="rgb(99,99,99)"/><stop offset="0.184" stop-color="rgb(121,121,121)"/><stop offset="0.193" stop-color="rgb(142,142,142)"/><stop offset="0.210" stop-color="rgb(255,255,255)"/><stop offset="0.228" stop-color="rgb(248,248,248)"/><stop offset="0.236" stop-color="rgb(206,206,206)"/><stop offset="0.245" stop-color="rgb(224,224,224)"/><stop offset="0.254" stop-color="rgb(255,255,255)"/><stop offset="0.263" stop-color="rgb(255,255,255)"/><stop offset="0.271" stop-color="rgb(227,227,227)"/><stop offset="0.280" stop-color="rgb(168,168,168)"/><stop offset="0.289" stop-color="rgb(145,145,145)"/><stop offset="0.298" stop-color="rgb(162,162,162)"/><stop offset="0.306" stop-color="rgb(216,216,216)"/><stop offset="0.315" stop-color="rgb(255,255,255)"/><stop offset="0.324" stop-color="rgb(255,255,255)"/><stop offset="0.333" stop-color="rgb(220,220,220)"/><stop offset="0.342" stop-color="rgb(162,162,162)"/><stop offset="0.350" stop-color="rgb(135,135,135)"/><stop offset="0.359" stop-color="rgb(128,128,128)"/><stop offset="0.464" stop-color="rgb(123,123,123)"/><stop offset="0.482" stop-color="rgb(146,146,146)"/><stop offset="0.490" stop-color="rgb(178,178,178)"/><stop offset="0.499" stop-color="rgb(222,222,222)"/><stop offset="0.508" stop-color="rgb(241,241,241)"/><stop offset="0.517" stop-color="rgb(209,209,209)"/><stop offset="0.525" stop-color="rgb(157,157,157)"/><stop offset="0.534" stop-color="rgb(123,123,123)"/><stop offset="0.595" stop-color="rgb(56,56,56)"/><stop offset="0.613" stop-color="rgb(59,59,59)"/><stop offset="0.630" stop-color="rgb(89,89,89)"/><stop offset="0.648" stop-color="rgb(103,103,103)"/><stop offset="0.744" stop-color="rgb(105,105,105)"/><stop offset="0.823" stop-color="rgb(89,89,89)"/><stop offset="0.841" stop-color="rgb(71,71,71)"/><stop offset="0.867" stop-color="rgb(27,27,27)"/><stop offset="0.884" stop-color="rgb(12,12,12)"/><stop offset="0.998" stop-color="rgb(8,8,8)"/></linearGradient><linearGradient id="lg73" x1="0" y1="30.4" x2="0" y2="87.5" gradientUnits="userSpaceOnUse"><stop offset="0.000" stop-color="rgb(52,52,52)"/><stop offset="0.061" stop-color="rgb(55,55,55)"/><stop offset="0.114" stop-color="rgb(94,94,94)"/><stop offset="0.184" stop-color="rgb(101,101,101)"/><stop offset="0.193" stop-color="rgb(117,117,117)"/><stop offset="0.201" stop-color="rgb(158,158,158)"/><stop offset="0.210" stop-color="rgb(211,211,211)"/><stop offset="0.219" stop-color="rgb(230,230,230)"/><stop offset="0.228" stop-color="rgb(194,194,194)"/><stop offset="0.236" stop-color="rgb(144,144,144)"/><stop offset="0.245" stop-color="rgb(117,117,117)"/><stop offset="0.263" stop-color="rgb(109,109,109)"/><stop offset="0.289" stop-color="rgb(115,115,115)"/><stop offset="0.298" stop-color="rgb(134,134,134)"/><stop offset="0.315" stop-color="rgb(227,227,227)"/><stop offset="0.324" stop-color="rgb(233,233,233)"/><stop offset="0.342" stop-color="rgb(140,140,140)"/><stop offset="0.350" stop-color="rgb(116,116,116)"/><stop offset="0.359" stop-color="rgb(109,109,109)"/><stop offset="0.438" stop-color="rgb(104,104,104)"/><stop offset="0.473" stop-color="rgb(111,111,111)"/><stop offset="0.552" stop-color="rgb(99,99,99)"/><stop offset="0.560" stop-color="rgb(106,106,106)"/><stop offset="0.578" stop-color="rgb(150,150,150)"/><stop offset="0.587" stop-color="rgb(134,134,134)"/><stop offset="0.595" stop-color="rgb(95,95,95)"/><stop offset="0.604" stop-color="rgb(68,68,68)"/><stop offset="0.613" stop-color="rgb(63,63,63)"/><stop offset="0.630" stop-color="rgb(96,96,96)"/><stop offset="0.648" stop-color="rgb(112,112,112)"/><stop offset="0.736" stop-color="rgb(117,117,117)"/><stop offset="0.806" stop-color="rgb(104,104,104)"/><stop offset="0.823" stop-color="rgb(95,95,95)"/><stop offset="0.841" stop-color="rgb(73,73,73)"/><stop offset="0.867" stop-color="rgb(27,27,27)"/><stop offset="0.884" stop-color="rgb(12,12,12)"/><stop offset="0.998" stop-color="rgb(8,8,8)"/></linearGradient><linearGradient id="lg74" x1="0" y1="30.4" x2="0" y2="87.5" gradientUnits="userSpaceOnUse"><stop offset="0.000" stop-color="rgb(52,52,52)"/><stop offset="0.079" stop-color="rgb(55,55,55)"/><stop offset="0.088" stop-color="rgb(61,61,61)"/><stop offset="0.114" stop-color="rgb(109,109,109)"/><stop offset="0.158" stop-color="rgb(105,105,105)"/><stop offset="0.184" stop-color="rgb(114,114,114)"/><stop offset="0.193" stop-color="rgb(134,134,134)"/><stop offset="0.201" stop-color="rgb(184,184,184)"/><stop offset="0.210" stop-color="rgb(251,251,251)"/><stop offset="0.219" stop-color="rgb(255,255,255)"/><stop offset="0.228" stop-color="rgb(229,229,229)"/><stop offset="0.236" stop-color="rgb(166,166,166)"/><stop offset="0.245" stop-color="rgb(132,132,132)"/><stop offset="0.254" stop-color="rgb(123,123,123)"/><stop offset="0.289" stop-color="rgb(130,130,130)"/><stop offset="0.298" stop-color="rgb(140,140,140)"/><stop offset="0.324" stop-color="rgb(192,192,192)"/><stop offset="0.342" stop-color="rgb(206,206,206)"/><stop offset="0.377" stop-color="rgb(212,212,212)"/><stop offset="0.429" stop-color="rgb(206,206,206)"/><stop offset="0.455" stop-color="rgb(215,215,215)"/><stop offset="0.525" stop-color="rgb(156,156,156)"/><stop offset="0.569" stop-color="rgb(69,69,69)"/><stop offset="0.578" stop-color="rgb(67,67,67)"/><stop offset="0.595" stop-color="rgb(78,78,78)"/><stop offset="0.613" stop-color="rgb(72,72,72)"/><stop offset="0.639" stop-color="rgb(111,111,111)"/><stop offset="0.657" stop-color="rgb(121,121,121)"/><stop offset="0.718" stop-color="rgb(123,123,123)"/><stop offset="0.797" stop-color="rgb(105,105,105)"/><stop offset="0.841" stop-color="rgb(66,66,66)"/><stop offset="0.867" stop-color="rgb(27,27,27)"/><stop offset="0.884" stop-color="rgb(12,12,12)"/><stop offset="0.998" stop-color="rgb(8,8,8)"/></linearGradient><linearGradient id="lg75" x1="0" y1="30.4" x2="0" y2="87.5" gradientUnits="userSpaceOnUse"><stop offset="0.000" stop-color="rgb(52,52,52)"/><stop offset="0.088" stop-color="rgb(57,57,57)"/><stop offset="0.131" stop-color="rgb(110,110,110)"/><stop offset="0.158" stop-color="rgb(123,123,123)"/><stop offset="0.201" stop-color="rgb(113,113,113)"/><stop offset="0.289" stop-color="rgb(120,120,120)"/><stop offset="0.385" stop-color="rgb(117,117,117)"/><stop offset="0.394" stop-color="rgb(121,121,121)"/><stop offset="0.403" stop-color="rgb(142,142,142)"/><stop offset="0.420" stop-color="rgb(249,249,249)"/><stop offset="0.429" stop-color="rgb(255,255,255)"/><stop offset="0.447" stop-color="rgb(165,165,165)"/><stop offset="0.455" stop-color="rgb(140,140,140)"/><stop offset="0.490" stop-color="rgb(111,111,111)"/><stop offset="0.552" stop-color="rgb(108,108,108)"/><stop offset="0.560" stop-color="rgb(131,131,131)"/><stop offset="0.578" stop-color="rgb(222,222,222)"/><stop offset="0.587" stop-color="rgb(195,195,195)"/><stop offset="0.595" stop-color="rgb(126,126,126)"/><stop offset="0.604" stop-color="rgb(79,79,79)"/><stop offset="0.613" stop-color="rgb(70,70,70)"/><stop offset="0.630" stop-color="rgb(82,82,82)"/><stop offset="0.648" stop-color="rgb(79,79,79)"/><stop offset="0.674" stop-color="rgb(103,103,103)"/><stop offset="0.692" stop-color="rgb(110,110,110)"/><stop offset="0.797" stop-color="rgb(108,108,108)"/><stop offset="0.841" stop-color="rgb(91,91,91)"/><stop offset="0.849" stop-color="rgb(77,77,77)"/><stop offset="0.867" stop-color="rgb(32,32,32)"/><stop offset="0.884" stop-color="rgb(12,12,12)"/><stop offset="0.998" stop-color="rgb(8,8,8)"/></linearGradient><linearGradient id="lg76" x1="0" y1="30.4" x2="0" y2="87.5" gradientUnits="userSpaceOnUse"><stop offset="0.000" stop-color="rgb(52,52,52)"/><stop offset="0.061" stop-color="rgb(54,54,54)"/><stop offset="0.079" stop-color="rgb(64,64,64)"/><stop offset="0.114" stop-color="rgb(111,111,111)"/><stop offset="0.158" stop-color="rgb(113,113,113)"/><stop offset="0.166" stop-color="rgb(122,122,122)"/><stop offset="0.175" stop-color="rgb(154,154,154)"/><stop offset="0.184" stop-color="rgb(219,219,219)"/><stop offset="0.193" stop-color="rgb(255,255,255)"/><stop offset="0.201" stop-color="rgb(255,255,255)"/><stop offset="0.210" stop-color="rgb(236,236,236)"/><stop offset="0.219" stop-color="rgb(182,182,182)"/><stop offset="0.228" stop-color="rgb(153,153,153)"/><stop offset="0.236" stop-color="rgb(140,140,140)"/><stop offset="0.254" stop-color="rgb(136,136,136)"/><stop offset="0.289" stop-color="rgb(155,155,155)"/><stop offset="0.324" stop-color="rgb(131,131,131)"/><stop offset="0.394" stop-color="rgb(124,124,124)"/><stop offset="0.403" stop-color="rgb(128,128,128)"/><stop offset="0.412" stop-color="rgb(147,147,147)"/><stop offset="0.429" stop-color="rgb(245,245,245)"/><stop offset="0.438" stop-color="rgb(250,250,250)"/><stop offset="0.455" stop-color="rgb(150,150,150)"/><stop offset="0.464" stop-color="rgb(125,125,125)"/><stop offset="0.473" stop-color="rgb(118,118,118)"/><stop offset="0.552" stop-color="rgb(113,113,113)"/><stop offset="0.560" stop-color="rgb(135,135,135)"/><stop offset="0.578" stop-color="rgb(223,223,223)"/><stop offset="0.587" stop-color="rgb(196,196,196)"/><stop offset="0.595" stop-color="rgb(127,127,127)"/><stop offset="0.604" stop-color="rgb(79,79,79)"/><stop offset="0.613" stop-color="rgb(67,67,67)"/><stop offset="0.630" stop-color="rgb(102,102,102)"/><stop offset="0.648" stop-color="rgb(122,122,122)"/><stop offset="0.692" stop-color="rgb(130,130,130)"/><stop offset="0.744" stop-color="rgb(127,127,127)"/><stop offset="0.832" stop-color="rgb(104,104,104)"/><stop offset="0.841" stop-color="rgb(92,92,92)"/><stop offset="0.867" stop-color="rgb(29,29,29)"/><stop offset="0.884" stop-color="rgb(12,12,12)"/><stop offset="0.998" stop-color="rgb(8,8,8)"/></linearGradient><linearGradient id="lg77" x1="0" y1="30.4" x2="0" y2="87.5" gradientUnits="userSpaceOnUse"><stop offset="0.000" stop-color="rgb(52,52,52)"/><stop offset="0.088" stop-color="rgb(56,56,56)"/><stop offset="0.123" stop-color="rgb(89,89,89)"/><stop offset="0.166" stop-color="rgb(108,108,108)"/><stop offset="0.175" stop-color="rgb(134,134,134)"/><stop offset="0.193" stop-color="rgb(236,236,236)"/><stop offset="0.201" stop-color="rgb(232,232,232)"/><stop offset="0.219" stop-color="rgb(141,141,141)"/><stop offset="0.228" stop-color="rgb(127,127,127)"/><stop offset="0.271" stop-color="rgb(120,120,120)"/><stop offset="0.333" stop-color="rgb(130,130,130)"/><stop offset="0.359" stop-color="rgb(115,115,115)"/><stop offset="0.412" stop-color="rgb(114,114,114)"/><stop offset="0.420" stop-color="rgb(129,129,129)"/><stop offset="0.429" stop-color="rgb(170,170,170)"/><stop offset="0.438" stop-color="rgb(224,224,224)"/><stop offset="0.447" stop-color="rgb(243,243,243)"/><stop offset="0.455" stop-color="rgb(202,202,202)"/><stop offset="0.464" stop-color="rgb(147,147,147)"/><stop offset="0.473" stop-color="rgb(117,117,117)"/><stop offset="0.482" stop-color="rgb(107,107,107)"/><stop offset="0.543" stop-color="rgb(101,101,101)"/><stop offset="0.552" stop-color="rgb(106,106,106)"/><stop offset="0.560" stop-color="rgb(130,130,130)"/><stop offset="0.578" stop-color="rgb(222,222,222)"/><stop offset="0.587" stop-color="rgb(196,196,196)"/><stop offset="0.595" stop-color="rgb(127,127,127)"/><stop offset="0.604" stop-color="rgb(78,78,78)"/><stop offset="0.613" stop-color="rgb(66,66,66)"/><stop offset="0.630" stop-color="rgb(99,99,99)"/><stop offset="0.648" stop-color="rgb(117,117,117)"/><stop offset="0.692" stop-color="rgb(125,125,125)"/><stop offset="0.753" stop-color="rgb(121,121,121)"/><stop offset="0.832" stop-color="rgb(101,101,101)"/><stop offset="0.841" stop-color="rgb(90,90,90)"/><stop offset="0.867" stop-color="rgb(29,29,29)"/><stop offset="0.884" stop-color="rgb(12,12,12)"/><stop offset="0.998" stop-color="rgb(8,8,8)"/></linearGradient><linearGradient id="lg78" x1="0" y1="30.4" x2="0" y2="87.5" gradientUnits="userSpaceOnUse"><stop offset="0.000" stop-color="rgb(52,52,52)"/><stop offset="0.079" stop-color="rgb(54,54,54)"/><stop offset="0.096" stop-color="rgb(64,64,64)"/><stop offset="0.140" stop-color="rgb(116,116,116)"/><stop offset="0.175" stop-color="rgb(113,113,113)"/><stop offset="0.271" stop-color="rgb(128,128,128)"/><stop offset="0.306" stop-color="rgb(150,150,150)"/><stop offset="0.324" stop-color="rgb(152,152,152)"/><stop offset="0.333" stop-color="rgb(174,174,174)"/><stop offset="0.342" stop-color="rgb(223,223,223)"/><stop offset="0.350" stop-color="rgb(255,255,255)"/><stop offset="0.359" stop-color="rgb(240,240,240)"/><stop offset="0.368" stop-color="rgb(184,184,184)"/><stop offset="0.377" stop-color="rgb(142,142,142)"/><stop offset="0.385" stop-color="rgb(126,126,126)"/><stop offset="0.420" stop-color="rgb(122,122,122)"/><stop offset="0.429" stop-color="rgb(135,135,135)"/><stop offset="0.438" stop-color="rgb(175,175,175)"/><stop offset="0.447" stop-color="rgb(239,239,239)"/><stop offset="0.455" stop-color="rgb(255,255,255)"/><stop offset="0.464" stop-color="rgb(235,235,235)"/><stop offset="0.473" stop-color="rgb(170,170,170)"/><stop offset="0.482" stop-color="rgb(129,129,129)"/><stop offset="0.490" stop-color="rgb(116,116,116)"/><stop offset="0.543" stop-color="rgb(106,106,106)"/><stop offset="0.552" stop-color="rgb(99,99,99)"/><stop offset="0.578" stop-color="rgb(56,56,56)"/><stop offset="0.595" stop-color="rgb(55,55,55)"/><stop offset="0.613" stop-color="rgb(75,75,75)"/><stop offset="0.630" stop-color="rgb(141,141,141)"/><stop offset="0.639" stop-color="rgb(164,164,164)"/><stop offset="0.648" stop-color="rgb(177,177,177)"/><stop offset="0.683" stop-color="rgb(194,194,194)"/><stop offset="0.727" stop-color="rgb(195,195,195)"/><stop offset="0.797" stop-color="rgb(174,174,174)"/><stop offset="0.832" stop-color="rgb(155,155,155)"/><stop offset="0.841" stop-color="rgb(142,142,142)"/><stop offset="0.849" stop-color="rgb(117,117,117)"/><stop offset="0.867" stop-color="rgb(42,42,42)"/><stop offset="0.876" stop-color="rgb(20,20,20)"/><stop offset="0.884" stop-color="rgb(12,12,12)"/><stop offset="0.998" stop-color="rgb(8,8,8)"/></linearGradient><linearGradient id="lg79" x1="0" y1="30.4" x2="0" y2="87.5" gradientUnits="userSpaceOnUse"><stop offset="0.000" stop-color="rgb(52,52,52)"/><stop offset="0.088" stop-color="rgb(56,56,56)"/><stop offset="0.123" stop-color="rgb(86,86,86)"/><stop offset="0.158" stop-color="rgb(105,105,105)"/><stop offset="0.175" stop-color="rgb(125,125,125)"/><stop offset="0.184" stop-color="rgb(147,147,147)"/><stop offset="0.201" stop-color="rgb(254,254,254)"/><stop offset="0.210" stop-color="rgb(255,255,255)"/><stop offset="0.228" stop-color="rgb(145,145,145)"/><stop offset="0.236" stop-color="rgb(117,117,117)"/><stop offset="0.245" stop-color="rgb(111,111,111)"/><stop offset="0.377" stop-color="rgb(110,110,110)"/><stop offset="0.403" stop-color="rgb(116,116,116)"/><stop offset="0.412" stop-color="rgb(123,123,123)"/><stop offset="0.420" stop-color="rgb(142,142,142)"/><stop offset="0.429" stop-color="rgb(189,189,189)"/><stop offset="0.438" stop-color="rgb(250,250,250)"/><stop offset="0.447" stop-color="rgb(255,255,255)"/><stop offset="0.455" stop-color="rgb(218,218,218)"/><stop offset="0.464" stop-color="rgb(153,153,153)"/><stop offset="0.473" stop-color="rgb(119,119,119)"/><stop offset="0.482" stop-color="rgb(111,111,111)"/><stop offset="0.508" stop-color="rgb(115,115,115)"/><stop offset="0.543" stop-color="rgb(101,101,101)"/><stop offset="0.552" stop-color="rgb(106,106,106)"/><stop offset="0.560" stop-color="rgb(128,128,128)"/><stop offset="0.578" stop-color="rgb(216,216,216)"/><stop offset="0.587" stop-color="rgb(197,197,197)"/><stop offset="0.595" stop-color="rgb(134,134,134)"/><stop offset="0.604" stop-color="rgb(85,85,85)"/><stop offset="0.613" stop-color="rgb(71,71,71)"/><stop offset="0.630" stop-color="rgb(103,103,103)"/><stop offset="0.648" stop-color="rgb(122,122,122)"/><stop offset="0.692" stop-color="rgb(130,130,130)"/><stop offset="0.744" stop-color="rgb(127,127,127)"/><stop offset="0.832" stop-color="rgb(104,104,104)"/><stop offset="0.841" stop-color="rgb(92,92,92)"/><stop offset="0.867" stop-color="rgb(29,29,29)"/><stop offset="0.884" stop-color="rgb(12,12,12)"/><stop offset="0.998" stop-color="rgb(8,8,8)"/></linearGradient><linearGradient id="lg80" x1="0" y1="30.4" x2="0" y2="87.5" gradientUnits="userSpaceOnUse"><stop offset="0.000" stop-color="rgb(52,52,52)"/><stop offset="0.088" stop-color="rgb(56,56,56)"/><stop offset="0.123" stop-color="rgb(88,88,88)"/><stop offset="0.175" stop-color="rgb(108,108,108)"/><stop offset="0.184" stop-color="rgb(133,133,133)"/><stop offset="0.201" stop-color="rgb(253,253,253)"/><stop offset="0.210" stop-color="rgb(255,255,255)"/><stop offset="0.219" stop-color="rgb(212,212,212)"/><stop offset="0.228" stop-color="rgb(158,158,158)"/><stop offset="0.236" stop-color="rgb(132,132,132)"/><stop offset="0.254" stop-color="rgb(118,118,118)"/><stop offset="0.298" stop-color="rgb(116,116,116)"/><stop offset="0.333" stop-color="rgb(132,132,132)"/><stop offset="0.359" stop-color="rgb(115,115,115)"/><stop offset="0.412" stop-color="rgb(113,113,113)"/><stop offset="0.420" stop-color="rgb(125,125,125)"/><stop offset="0.429" stop-color="rgb(159,159,159)"/><stop offset="0.438" stop-color="rgb(204,204,204)"/><stop offset="0.447" stop-color="rgb(219,219,219)"/><stop offset="0.455" stop-color="rgb(185,185,185)"/><stop offset="0.464" stop-color="rgb(140,140,140)"/><stop offset="0.473" stop-color="rgb(115,115,115)"/><stop offset="0.490" stop-color="rgb(105,105,105)"/><stop offset="0.543" stop-color="rgb(101,101,101)"/><stop offset="0.552" stop-color="rgb(106,106,106)"/><stop offset="0.560" stop-color="rgb(129,129,129)"/><stop offset="0.578" stop-color="rgb(221,221,221)"/><stop offset="0.587" stop-color="rgb(196,196,196)"/><stop offset="0.595" stop-color="rgb(127,127,127)"/><stop offset="0.604" stop-color="rgb(78,78,78)"/><stop offset="0.613" stop-color="rgb(66,66,66)"/><stop offset="0.630" stop-color="rgb(99,99,99)"/><stop offset="0.648" stop-color="rgb(117,117,117)"/><stop offset="0.692" stop-color="rgb(125,125,125)"/><stop offset="0.753" stop-color="rgb(121,121,121)"/><stop offset="0.832" stop-color="rgb(101,101,101)"/><stop offset="0.841" stop-color="rgb(90,90,90)"/><stop offset="0.867" stop-color="rgb(29,29,29)"/><stop offset="0.884" stop-color="rgb(12,12,12)"/><stop offset="0.998" stop-color="rgb(8,8,8)"/></linearGradient><linearGradient id="lg81" x1="0" y1="30.4" x2="0" y2="87.5" gradientUnits="userSpaceOnUse"><stop offset="0.000" stop-color="rgb(52,52,52)"/><stop offset="0.079" stop-color="rgb(54,54,54)"/><stop offset="0.096" stop-color="rgb(62,62,62)"/><stop offset="0.131" stop-color="rgb(95,95,95)"/><stop offset="0.210" stop-color="rgb(112,112,112)"/><stop offset="0.219" stop-color="rgb(120,120,120)"/><stop offset="0.228" stop-color="rgb(147,147,147)"/><stop offset="0.245" stop-color="rgb(254,254,254)"/><stop offset="0.254" stop-color="rgb(249,249,249)"/><stop offset="0.263" stop-color="rgb(196,196,196)"/><stop offset="0.271" stop-color="rgb(155,155,155)"/><stop offset="0.280" stop-color="rgb(147,147,147)"/><stop offset="0.289" stop-color="rgb(166,166,166)"/><stop offset="0.306" stop-color="rgb(251,251,251)"/><stop offset="0.315" stop-color="rgb(243,243,243)"/><stop offset="0.333" stop-color="rgb(143,143,143)"/><stop offset="0.342" stop-color="rgb(123,123,123)"/><stop offset="0.438" stop-color="rgb(113,113,113)"/><stop offset="0.447" stop-color="rgb(125,125,125)"/><stop offset="0.455" stop-color="rgb(162,162,162)"/><stop offset="0.464" stop-color="rgb(234,234,234)"/><stop offset="0.473" stop-color="rgb(255,255,255)"/><stop offset="0.482" stop-color="rgb(255,255,255)"/><stop offset="0.490" stop-color="rgb(228,228,228)"/><stop offset="0.499" stop-color="rgb(167,167,167)"/><stop offset="0.508" stop-color="rgb(138,138,138)"/><stop offset="0.534" stop-color="rgb(124,124,124)"/><stop offset="0.569" stop-color="rgb(68,68,68)"/><stop offset="0.587" stop-color="rgb(70,70,70)"/><stop offset="0.639" stop-color="rgb(117,117,117)"/><stop offset="0.709" stop-color="rgb(120,120,120)"/><stop offset="0.771" stop-color="rgb(133,133,133)"/><stop offset="0.814" stop-color="rgb(120,120,120)"/><stop offset="0.832" stop-color="rgb(105,105,105)"/><stop offset="0.841" stop-color="rgb(91,91,91)"/><stop offset="0.867" stop-color="rgb(29,29,29)"/><stop offset="0.884" stop-color="rgb(12,12,12)"/><stop offset="0.998" stop-color="rgb(8,8,8)"/></linearGradient><linearGradient id="lg82" x1="0" y1="30.4" x2="0" y2="87.5" gradientUnits="userSpaceOnUse"><stop offset="0.000" stop-color="rgb(52,52,52)"/><stop offset="0.079" stop-color="rgb(54,54,54)"/><stop offset="0.096" stop-color="rgb(64,64,64)"/><stop offset="0.131" stop-color="rgb(104,104,104)"/><stop offset="0.210" stop-color="rgb(123,123,123)"/><stop offset="0.219" stop-color="rgb(132,132,132)"/><stop offset="0.228" stop-color="rgb(161,161,161)"/><stop offset="0.236" stop-color="rgb(219,219,219)"/><stop offset="0.245" stop-color="rgb(255,255,255)"/><stop offset="0.254" stop-color="rgb(255,255,255)"/><stop offset="0.271" stop-color="rgb(158,158,158)"/><stop offset="0.280" stop-color="rgb(143,143,143)"/><stop offset="0.289" stop-color="rgb(163,163,163)"/><stop offset="0.298" stop-color="rgb(216,216,216)"/><stop offset="0.306" stop-color="rgb(255,255,255)"/><stop offset="0.315" stop-color="rgb(255,255,255)"/><stop offset="0.324" stop-color="rgb(212,212,212)"/><stop offset="0.333" stop-color="rgb(159,159,159)"/><stop offset="0.342" stop-color="rgb(135,135,135)"/><stop offset="0.438" stop-color="rgb(121,121,121)"/><stop offset="0.447" stop-color="rgb(128,128,128)"/><stop offset="0.455" stop-color="rgb(159,159,159)"/><stop offset="0.464" stop-color="rgb(223,223,223)"/><stop offset="0.473" stop-color="rgb(255,255,255)"/><stop offset="0.482" stop-color="rgb(255,255,255)"/><stop offset="0.490" stop-color="rgb(211,211,211)"/><stop offset="0.499" stop-color="rgb(155,155,155)"/><stop offset="0.508" stop-color="rgb(130,130,130)"/><stop offset="0.552" stop-color="rgb(101,101,101)"/><stop offset="0.569" stop-color="rgb(70,70,70)"/><stop offset="0.578" stop-color="rgb(65,65,65)"/><stop offset="0.639" stop-color="rgb(117,117,117)"/><stop offset="0.709" stop-color="rgb(120,120,120)"/><stop offset="0.771" stop-color="rgb(133,133,133)"/><stop offset="0.814" stop-color="rgb(120,120,120)"/><stop offset="0.832" stop-color="rgb(105,105,105)"/><stop offset="0.841" stop-color="rgb(91,91,91)"/><stop offset="0.867" stop-color="rgb(29,29,29)"/><stop offset="0.884" stop-color="rgb(12,12,12)"/><stop offset="0.998" stop-color="rgb(8,8,8)"/></linearGradient><linearGradient id="lg83" x1="0" y1="30.4" x2="0" y2="87.5" gradientUnits="userSpaceOnUse"><stop offset="0.000" stop-color="rgb(52,52,52)"/><stop offset="0.088" stop-color="rgb(58,58,58)"/><stop offset="0.123" stop-color="rgb(102,102,102)"/><stop offset="0.166" stop-color="rgb(141,141,141)"/><stop offset="0.210" stop-color="rgb(128,128,128)"/><stop offset="0.219" stop-color="rgb(136,136,136)"/><stop offset="0.228" stop-color="rgb(163,163,163)"/><stop offset="0.236" stop-color="rgb(219,219,219)"/><stop offset="0.245" stop-color="rgb(255,255,255)"/><stop offset="0.254" stop-color="rgb(255,255,255)"/><stop offset="0.271" stop-color="rgb(162,162,162)"/><stop offset="0.280" stop-color="rgb(147,147,147)"/><stop offset="0.289" stop-color="rgb(166,166,166)"/><stop offset="0.306" stop-color="rgb(255,255,255)"/><stop offset="0.315" stop-color="rgb(255,255,255)"/><stop offset="0.333" stop-color="rgb(166,166,166)"/><stop offset="0.342" stop-color="rgb(147,147,147)"/><stop offset="0.368" stop-color="rgb(137,137,137)"/><stop offset="0.394" stop-color="rgb(146,146,146)"/><stop offset="0.420" stop-color="rgb(127,127,127)"/><stop offset="0.438" stop-color="rgb(125,125,125)"/><stop offset="0.447" stop-color="rgb(132,132,132)"/><stop offset="0.455" stop-color="rgb(161,161,161)"/><stop offset="0.464" stop-color="rgb(221,221,221)"/><stop offset="0.473" stop-color="rgb(255,255,255)"/><stop offset="0.482" stop-color="rgb(255,255,255)"/><stop offset="0.499" stop-color="rgb(148,148,148)"/><stop offset="0.508" stop-color="rgb(124,124,124)"/><stop offset="0.517" stop-color="rgb(117,117,117)"/><stop offset="0.552" stop-color="rgb(114,114,114)"/><stop offset="0.578" stop-color="rgb(92,92,92)"/><stop offset="0.613" stop-color="rgb(97,97,97)"/><stop offset="0.639" stop-color="rgb(117,117,117)"/><stop offset="0.709" stop-color="rgb(120,120,120)"/><stop offset="0.753" stop-color="rgb(139,139,139)"/><stop offset="0.779" stop-color="rgb(136,136,136)"/><stop offset="0.814" stop-color="rgb(123,123,123)"/><stop offset="0.832" stop-color="rgb(107,107,107)"/><stop offset="0.867" stop-color="rgb(29,29,29)"/><stop offset="0.884" stop-color="rgb(12,12,12)"/><stop offset="0.998" stop-color="rgb(8,8,8)"/></linearGradient><linearGradient id="lg84" x1="0" y1="30.4" x2="0" y2="87.5" gradientUnits="userSpaceOnUse"><stop offset="0.000" stop-color="rgb(52,52,52)"/><stop offset="0.079" stop-color="rgb(54,54,54)"/><stop offset="0.096" stop-color="rgb(64,64,64)"/><stop offset="0.131" stop-color="rgb(101,101,101)"/><stop offset="0.210" stop-color="rgb(120,120,120)"/><stop offset="0.219" stop-color="rgb(129,129,129)"/><stop offset="0.228" stop-color="rgb(159,159,159)"/><stop offset="0.236" stop-color="rgb(221,221,221)"/><stop offset="0.245" stop-color="rgb(255,255,255)"/><stop offset="0.254" stop-color="rgb(255,255,255)"/><stop offset="0.271" stop-color="rgb(166,166,166)"/><stop offset="0.280" stop-color="rgb(158,158,158)"/><stop offset="0.289" stop-color="rgb(183,183,183)"/><stop offset="0.298" stop-color="rgb(232,232,232)"/><stop offset="0.306" stop-color="rgb(255,255,255)"/><stop offset="0.315" stop-color="rgb(255,255,255)"/><stop offset="0.333" stop-color="rgb(152,152,152)"/><stop offset="0.342" stop-color="rgb(131,131,131)"/><stop offset="0.438" stop-color="rgb(118,118,118)"/><stop offset="0.447" stop-color="rgb(126,126,126)"/><stop offset="0.455" stop-color="rgb(156,156,156)"/><stop offset="0.464" stop-color="rgb(220,220,220)"/><stop offset="0.473" stop-color="rgb(255,255,255)"/><stop offset="0.482" stop-color="rgb(255,255,255)"/><stop offset="0.499" stop-color="rgb(144,144,144)"/><stop offset="0.508" stop-color="rgb(118,118,118)"/><stop offset="0.552" stop-color="rgb(100,100,100)"/><stop offset="0.569" stop-color="rgb(73,73,73)"/><stop offset="0.578" stop-color="rgb(71,71,71)"/><stop offset="0.639" stop-color="rgb(117,117,117)"/><stop offset="0.709" stop-color="rgb(120,120,120)"/><stop offset="0.744" stop-color="rgb(137,137,137)"/><stop offset="0.771" stop-color="rgb(138,138,138)"/><stop offset="0.823" stop-color="rgb(117,117,117)"/><stop offset="0.841" stop-color="rgb(92,92,92)"/><stop offset="0.867" stop-color="rgb(29,29,29)"/><stop offset="0.884" stop-color="rgb(12,12,12)"/><stop offset="0.998" stop-color="rgb(8,8,8)"/></linearGradient><linearGradient id="lg85" x1="0" y1="30.4" x2="0" y2="87.5" gradientUnits="userSpaceOnUse"><stop offset="0.000" stop-color="rgb(52,52,52)"/><stop offset="0.079" stop-color="rgb(54,54,54)"/><stop offset="0.131" stop-color="rgb(91,91,91)"/><stop offset="0.210" stop-color="rgb(107,107,107)"/><stop offset="0.219" stop-color="rgb(115,115,115)"/><stop offset="0.228" stop-color="rgb(141,141,141)"/><stop offset="0.245" stop-color="rgb(241,241,241)"/><stop offset="0.254" stop-color="rgb(236,236,236)"/><stop offset="0.271" stop-color="rgb(139,139,139)"/><stop offset="0.280" stop-color="rgb(125,125,125)"/><stop offset="0.289" stop-color="rgb(143,143,143)"/><stop offset="0.306" stop-color="rgb(232,232,232)"/><stop offset="0.315" stop-color="rgb(230,230,230)"/><stop offset="0.333" stop-color="rgb(150,150,150)"/><stop offset="0.342" stop-color="rgb(132,132,132)"/><stop offset="0.377" stop-color="rgb(112,112,112)"/><stop offset="0.438" stop-color="rgb(108,108,108)"/><stop offset="0.447" stop-color="rgb(115,115,115)"/><stop offset="0.455" stop-color="rgb(143,143,143)"/><stop offset="0.473" stop-color="rgb(255,255,255)"/><stop offset="0.482" stop-color="rgb(250,250,250)"/><stop offset="0.499" stop-color="rgb(132,132,132)"/><stop offset="0.508" stop-color="rgb(108,108,108)"/><stop offset="0.543" stop-color="rgb(98,98,98)"/><stop offset="0.569" stop-color="rgb(74,74,74)"/><stop offset="0.587" stop-color="rgb(96,96,96)"/><stop offset="0.613" stop-color="rgb(95,95,95)"/><stop offset="0.639" stop-color="rgb(117,117,117)"/><stop offset="0.709" stop-color="rgb(120,120,120)"/><stop offset="0.771" stop-color="rgb(133,133,133)"/><stop offset="0.814" stop-color="rgb(120,120,120)"/><stop offset="0.832" stop-color="rgb(105,105,105)"/><stop offset="0.841" stop-color="rgb(91,91,91)"/><stop offset="0.867" stop-color="rgb(29,29,29)"/><stop offset="0.884" stop-color="rgb(12,12,12)"/><stop offset="0.998" stop-color="rgb(8,8,8)"/></linearGradient><linearGradient id="lg86" x1="0" y1="30.4" x2="0" y2="87.5" gradientUnits="userSpaceOnUse"><stop offset="0.000" stop-color="rgb(34,34,34)"/><stop offset="0.149" stop-color="rgb(35,35,35)"/><stop offset="0.184" stop-color="rgb(46,46,46)"/><stop offset="0.210" stop-color="rgb(37,37,37)"/><stop offset="0.271" stop-color="rgb(45,45,45)"/><stop offset="0.333" stop-color="rgb(41,41,41)"/><stop offset="0.342" stop-color="rgb(46,46,46)"/><stop offset="0.350" stop-color="rgb(61,61,61)"/><stop offset="0.368" stop-color="rgb(120,120,120)"/><stop offset="0.377" stop-color="rgb(124,124,124)"/><stop offset="0.394" stop-color="rgb(71,71,71)"/><stop offset="0.403" stop-color="rgb(55,55,55)"/><stop offset="0.438" stop-color="rgb(50,50,50)"/><stop offset="0.447" stop-color="rgb(55,55,55)"/><stop offset="0.455" stop-color="rgb(75,75,75)"/><stop offset="0.473" stop-color="rgb(147,147,147)"/><stop offset="0.482" stop-color="rgb(142,142,142)"/><stop offset="0.499" stop-color="rgb(67,67,67)"/><stop offset="0.508" stop-color="rgb(46,46,46)"/><stop offset="0.525" stop-color="rgb(28,28,28)"/><stop offset="0.639" stop-color="rgb(26,26,26)"/><stop offset="0.657" stop-color="rgb(38,38,38)"/><stop offset="0.665" stop-color="rgb(55,55,55)"/><stop offset="0.674" stop-color="rgb(83,83,83)"/><stop offset="0.692" stop-color="rgb(178,178,178)"/><stop offset="0.701" stop-color="rgb(219,219,219)"/><stop offset="0.709" stop-color="rgb(243,243,243)"/><stop offset="0.718" stop-color="rgb(255,255,255)"/><stop offset="0.788" stop-color="rgb(255,255,255)"/><stop offset="0.797" stop-color="rgb(254,254,254)"/><stop offset="0.832" stop-color="rgb(223,223,223)"/><stop offset="0.858" stop-color="rgb(187,187,187)"/><stop offset="0.867" stop-color="rgb(158,158,158)"/><stop offset="0.884" stop-color="rgb(71,71,71)"/><stop offset="0.893" stop-color="rgb(40,40,40)"/><stop offset="0.902" stop-color="rgb(25,25,25)"/><stop offset="0.928" stop-color="rgb(15,15,15)"/><stop offset="0.998" stop-color="rgb(14,14,14)"/></linearGradient><linearGradient id="lg87" x1="0" y1="30.4" x2="0" y2="87.5" gradientUnits="userSpaceOnUse"><stop offset="0.000" stop-color="rgb(34,34,34)"/><stop offset="0.228" stop-color="rgb(38,38,38)"/><stop offset="0.280" stop-color="rgb(55,55,55)"/><stop offset="0.306" stop-color="rgb(56,56,56)"/><stop offset="0.333" stop-color="rgb(42,42,42)"/><stop offset="0.342" stop-color="rgb(46,46,46)"/><stop offset="0.350" stop-color="rgb(60,60,60)"/><stop offset="0.368" stop-color="rgb(115,115,115)"/><stop offset="0.377" stop-color="rgb(121,121,121)"/><stop offset="0.403" stop-color="rgb(55,55,55)"/><stop offset="0.420" stop-color="rgb(42,42,42)"/><stop offset="0.438" stop-color="rgb(42,42,42)"/><stop offset="0.447" stop-color="rgb(50,50,50)"/><stop offset="0.455" stop-color="rgb(73,73,73)"/><stop offset="0.473" stop-color="rgb(146,146,146)"/><stop offset="0.482" stop-color="rgb(142,142,142)"/><stop offset="0.499" stop-color="rgb(67,67,67)"/><stop offset="0.508" stop-color="rgb(46,46,46)"/><stop offset="0.525" stop-color="rgb(28,28,28)"/><stop offset="0.639" stop-color="rgb(26,26,26)"/><stop offset="0.657" stop-color="rgb(37,37,37)"/><stop offset="0.665" stop-color="rgb(53,53,53)"/><stop offset="0.674" stop-color="rgb(76,76,76)"/><stop offset="0.701" stop-color="rgb(192,192,192)"/><stop offset="0.709" stop-color="rgb(213,213,213)"/><stop offset="0.727" stop-color="rgb(232,232,232)"/><stop offset="0.753" stop-color="rgb(240,240,240)"/><stop offset="0.788" stop-color="rgb(228,228,228)"/><stop offset="0.849" stop-color="rgb(179,179,179)"/><stop offset="0.858" stop-color="rgb(165,165,165)"/><stop offset="0.867" stop-color="rgb(140,140,140)"/><stop offset="0.884" stop-color="rgb(65,65,65)"/><stop offset="0.893" stop-color="rgb(38,38,38)"/><stop offset="0.902" stop-color="rgb(24,24,24)"/><stop offset="0.928" stop-color="rgb(15,15,15)"/><stop offset="0.998" stop-color="rgb(14,14,14)"/></linearGradient><linearGradient id="lg88" x1="0" y1="30.4" x2="0" y2="87.5" gradientUnits="userSpaceOnUse"><stop offset="0.000" stop-color="rgb(34,34,34)"/><stop offset="0.271" stop-color="rgb(39,39,39)"/><stop offset="0.333" stop-color="rgb(52,52,52)"/><stop offset="0.342" stop-color="rgb(55,55,55)"/><stop offset="0.350" stop-color="rgb(68,68,68)"/><stop offset="0.368" stop-color="rgb(125,125,125)"/><stop offset="0.377" stop-color="rgb(129,129,129)"/><stop offset="0.394" stop-color="rgb(69,69,69)"/><stop offset="0.403" stop-color="rgb(49,49,49)"/><stop offset="0.429" stop-color="rgb(40,40,40)"/><stop offset="0.447" stop-color="rgb(53,53,53)"/><stop offset="0.455" stop-color="rgb(79,79,79)"/><stop offset="0.473" stop-color="rgb(161,161,161)"/><stop offset="0.482" stop-color="rgb(158,158,158)"/><stop offset="0.499" stop-color="rgb(75,75,75)"/><stop offset="0.508" stop-color="rgb(52,52,52)"/><stop offset="0.517" stop-color="rgb(41,41,41)"/><stop offset="0.595" stop-color="rgb(26,26,26)"/><stop offset="0.639" stop-color="rgb(26,26,26)"/><stop offset="0.657" stop-color="rgb(37,37,37)"/><stop offset="0.665" stop-color="rgb(53,53,53)"/><stop offset="0.674" stop-color="rgb(76,76,76)"/><stop offset="0.701" stop-color="rgb(192,192,192)"/><stop offset="0.709" stop-color="rgb(213,213,213)"/><stop offset="0.727" stop-color="rgb(232,232,232)"/><stop offset="0.753" stop-color="rgb(240,240,240)"/><stop offset="0.788" stop-color="rgb(228,228,228)"/><stop offset="0.849" stop-color="rgb(179,179,179)"/><stop offset="0.858" stop-color="rgb(165,165,165)"/><stop offset="0.867" stop-color="rgb(140,140,140)"/><stop offset="0.884" stop-color="rgb(65,65,65)"/><stop offset="0.893" stop-color="rgb(38,38,38)"/><stop offset="0.902" stop-color="rgb(24,24,24)"/><stop offset="0.928" stop-color="rgb(15,15,15)"/><stop offset="0.998" stop-color="rgb(14,14,14)"/></linearGradient><linearGradient id="lg89" x1="0" y1="30.4" x2="0" y2="87.5" gradientUnits="userSpaceOnUse"><stop offset="0.000" stop-color="rgb(34,34,34)"/><stop offset="0.333" stop-color="rgb(41,41,41)"/><stop offset="0.342" stop-color="rgb(47,47,47)"/><stop offset="0.350" stop-color="rgb(65,65,65)"/><stop offset="0.368" stop-color="rgb(123,123,123)"/><stop offset="0.377" stop-color="rgb(121,121,121)"/><stop offset="0.394" stop-color="rgb(64,64,64)"/><stop offset="0.403" stop-color="rgb(47,47,47)"/><stop offset="0.429" stop-color="rgb(41,41,41)"/><stop offset="0.447" stop-color="rgb(55,55,55)"/><stop offset="0.455" stop-color="rgb(83,83,83)"/><stop offset="0.464" stop-color="rgb(126,126,126)"/><stop offset="0.473" stop-color="rgb(158,158,158)"/><stop offset="0.482" stop-color="rgb(152,152,152)"/><stop offset="0.499" stop-color="rgb(75,75,75)"/><stop offset="0.508" stop-color="rgb(52,52,52)"/><stop offset="0.525" stop-color="rgb(29,29,29)"/><stop offset="0.639" stop-color="rgb(26,26,26)"/><stop offset="0.657" stop-color="rgb(37,37,37)"/><stop offset="0.665" stop-color="rgb(53,53,53)"/><stop offset="0.674" stop-color="rgb(76,76,76)"/><stop offset="0.701" stop-color="rgb(192,192,192)"/><stop offset="0.709" stop-color="rgb(213,213,213)"/><stop offset="0.727" stop-color="rgb(232,232,232)"/><stop offset="0.753" stop-color="rgb(240,240,240)"/><stop offset="0.788" stop-color="rgb(228,228,228)"/><stop offset="0.849" stop-color="rgb(179,179,179)"/><stop offset="0.858" stop-color="rgb(165,165,165)"/><stop offset="0.867" stop-color="rgb(140,140,140)"/><stop offset="0.884" stop-color="rgb(65,65,65)"/><stop offset="0.893" stop-color="rgb(38,38,38)"/><stop offset="0.902" stop-color="rgb(24,24,24)"/><stop offset="0.928" stop-color="rgb(15,15,15)"/><stop offset="0.998" stop-color="rgb(14,14,14)"/></linearGradient><linearGradient id="lg90" x1="0" y1="30.4" x2="0" y2="87.5" gradientUnits="userSpaceOnUse"><stop offset="0.000" stop-color="rgb(34,34,34)"/><stop offset="0.149" stop-color="rgb(36,36,36)"/><stop offset="0.184" stop-color="rgb(49,49,49)"/><stop offset="0.219" stop-color="rgb(38,38,38)"/><stop offset="0.254" stop-color="rgb(39,39,39)"/><stop offset="0.289" stop-color="rgb(51,51,51)"/><stop offset="0.333" stop-color="rgb(41,41,41)"/><stop offset="0.342" stop-color="rgb(45,45,45)"/><stop offset="0.350" stop-color="rgb(60,60,60)"/><stop offset="0.368" stop-color="rgb(114,114,114)"/><stop offset="0.377" stop-color="rgb(117,117,117)"/><stop offset="0.394" stop-color="rgb(65,65,65)"/><stop offset="0.403" stop-color="rgb(49,49,49)"/><stop offset="0.412" stop-color="rgb(45,45,45)"/><stop offset="0.447" stop-color="rgb(66,66,66)"/><stop offset="0.455" stop-color="rgb(87,87,87)"/><stop offset="0.473" stop-color="rgb(151,151,151)"/><stop offset="0.482" stop-color="rgb(144,144,144)"/><stop offset="0.499" stop-color="rgb(67,67,67)"/><stop offset="0.508" stop-color="rgb(46,46,46)"/><stop offset="0.525" stop-color="rgb(28,28,28)"/><stop offset="0.578" stop-color="rgb(26,26,26)"/><stop offset="0.622" stop-color="rgb(39,39,39)"/><stop offset="0.648" stop-color="rgb(34,34,34)"/><stop offset="0.657" stop-color="rgb(39,39,39)"/><stop offset="0.674" stop-color="rgb(76,76,76)"/><stop offset="0.701" stop-color="rgb(192,192,192)"/><stop offset="0.709" stop-color="rgb(213,213,213)"/><stop offset="0.727" stop-color="rgb(232,232,232)"/><stop offset="0.753" stop-color="rgb(240,240,240)"/><stop offset="0.788" stop-color="rgb(228,228,228)"/><stop offset="0.849" stop-color="rgb(179,179,179)"/><stop offset="0.858" stop-color="rgb(165,165,165)"/><stop offset="0.867" stop-color="rgb(140,140,140)"/><stop offset="0.884" stop-color="rgb(65,65,65)"/><stop offset="0.893" stop-color="rgb(38,38,38)"/><stop offset="0.902" stop-color="rgb(24,24,24)"/><stop offset="0.928" stop-color="rgb(15,15,15)"/><stop offset="0.998" stop-color="rgb(14,14,14)"/></linearGradient><linearGradient id="lg91" x1="0" y1="30.4" x2="0" y2="87.5" gradientUnits="userSpaceOnUse"><stop offset="0.000" stop-color="rgb(50,50,50)"/><stop offset="0.114" stop-color="rgb(53,53,53)"/><stop offset="0.175" stop-color="rgb(81,81,81)"/><stop offset="0.184" stop-color="rgb(104,104,104)"/><stop offset="0.201" stop-color="rgb(225,225,225)"/><stop offset="0.210" stop-color="rgb(233,233,233)"/><stop offset="0.228" stop-color="rgb(114,114,114)"/><stop offset="0.236" stop-color="rgb(89,89,89)"/><stop offset="0.245" stop-color="rgb(99,99,99)"/><stop offset="0.254" stop-color="rgb(145,145,145)"/><stop offset="0.263" stop-color="rgb(207,207,207)"/><stop offset="0.271" stop-color="rgb(229,229,229)"/><stop offset="0.280" stop-color="rgb(186,186,186)"/><stop offset="0.289" stop-color="rgb(127,127,127)"/><stop offset="0.298" stop-color="rgb(94,94,94)"/><stop offset="0.306" stop-color="rgb(85,85,85)"/><stop offset="0.438" stop-color="rgb(87,87,87)"/><stop offset="0.447" stop-color="rgb(98,98,98)"/><stop offset="0.455" stop-color="rgb(139,139,139)"/><stop offset="0.464" stop-color="rgb(226,226,226)"/><stop offset="0.473" stop-color="rgb(255,255,255)"/><stop offset="0.482" stop-color="rgb(255,255,255)"/><stop offset="0.490" stop-color="rgb(206,206,206)"/><stop offset="0.499" stop-color="rgb(128,128,128)"/><stop offset="0.508" stop-color="rgb(99,99,99)"/><stop offset="0.517" stop-color="rgb(109,109,109)"/><stop offset="0.534" stop-color="rgb(201,201,201)"/><stop offset="0.543" stop-color="rgb(216,216,216)"/><stop offset="0.560" stop-color="rgb(165,165,165)"/><stop offset="0.569" stop-color="rgb(157,157,157)"/><stop offset="0.648" stop-color="rgb(158,158,158)"/><stop offset="0.727" stop-color="rgb(134,134,134)"/><stop offset="0.744" stop-color="rgb(108,108,108)"/><stop offset="0.771" stop-color="rgb(26,26,26)"/><stop offset="0.788" stop-color="rgb(9,9,9)"/><stop offset="0.998" stop-color="rgb(6,6,6)"/></linearGradient><linearGradient id="lg92" x1="0" y1="30.4" x2="0" y2="87.5" gradientUnits="userSpaceOnUse"><stop offset="0.000" stop-color="rgb(50,50,50)"/><stop offset="0.123" stop-color="rgb(53,53,53)"/><stop offset="0.166" stop-color="rgb(65,65,65)"/><stop offset="0.175" stop-color="rgb(78,78,78)"/><stop offset="0.184" stop-color="rgb(110,110,110)"/><stop offset="0.201" stop-color="rgb(242,242,242)"/><stop offset="0.210" stop-color="rgb(247,247,247)"/><stop offset="0.228" stop-color="rgb(118,118,118)"/><stop offset="0.236" stop-color="rgb(94,94,94)"/><stop offset="0.245" stop-color="rgb(115,115,115)"/><stop offset="0.263" stop-color="rgb(229,229,229)"/><stop offset="0.271" stop-color="rgb(243,243,243)"/><stop offset="0.280" stop-color="rgb(194,194,194)"/><stop offset="0.289" stop-color="rgb(130,130,130)"/><stop offset="0.298" stop-color="rgb(95,95,95)"/><stop offset="0.306" stop-color="rgb(85,85,85)"/><stop offset="0.438" stop-color="rgb(87,87,87)"/><stop offset="0.447" stop-color="rgb(98,98,98)"/><stop offset="0.455" stop-color="rgb(139,139,139)"/><stop offset="0.464" stop-color="rgb(226,226,226)"/><stop offset="0.473" stop-color="rgb(255,255,255)"/><stop offset="0.482" stop-color="rgb(255,255,255)"/><stop offset="0.490" stop-color="rgb(206,206,206)"/><stop offset="0.499" stop-color="rgb(128,128,128)"/><stop offset="0.508" stop-color="rgb(98,98,98)"/><stop offset="0.517" stop-color="rgb(105,105,105)"/><stop offset="0.534" stop-color="rgb(182,182,182)"/><stop offset="0.543" stop-color="rgb(195,195,195)"/><stop offset="0.560" stop-color="rgb(153,153,153)"/><stop offset="0.569" stop-color="rgb(147,147,147)"/><stop offset="0.604" stop-color="rgb(158,158,158)"/><stop offset="0.639" stop-color="rgb(159,159,159)"/><stop offset="0.727" stop-color="rgb(134,134,134)"/><stop offset="0.744" stop-color="rgb(108,108,108)"/><stop offset="0.771" stop-color="rgb(26,26,26)"/><stop offset="0.788" stop-color="rgb(9,9,9)"/><stop offset="0.998" stop-color="rgb(6,6,6)"/></linearGradient><linearGradient id="lg93" x1="0" y1="30.4" x2="0" y2="87.5" gradientUnits="userSpaceOnUse"><stop offset="0.000" stop-color="rgb(50,50,50)"/><stop offset="0.149" stop-color="rgb(59,59,59)"/><stop offset="0.184" stop-color="rgb(99,99,99)"/><stop offset="0.201" stop-color="rgb(187,187,187)"/><stop offset="0.210" stop-color="rgb(194,194,194)"/><stop offset="0.228" stop-color="rgb(106,106,106)"/><stop offset="0.236" stop-color="rgb(88,88,88)"/><stop offset="0.263" stop-color="rgb(103,103,103)"/><stop offset="0.306" stop-color="rgb(84,84,84)"/><stop offset="0.438" stop-color="rgb(87,87,87)"/><stop offset="0.447" stop-color="rgb(96,96,96)"/><stop offset="0.455" stop-color="rgb(132,132,132)"/><stop offset="0.464" stop-color="rgb(208,208,208)"/><stop offset="0.473" stop-color="rgb(255,255,255)"/><stop offset="0.482" stop-color="rgb(255,255,255)"/><stop offset="0.499" stop-color="rgb(142,142,142)"/><stop offset="0.508" stop-color="rgb(125,125,125)"/><stop offset="0.517" stop-color="rgb(145,145,145)"/><stop offset="0.525" stop-color="rgb(216,216,216)"/><stop offset="0.534" stop-color="rgb(255,255,255)"/><stop offset="0.552" stop-color="rgb(255,255,255)"/><stop offset="0.560" stop-color="rgb(195,195,195)"/><stop offset="0.569" stop-color="rgb(158,158,158)"/><stop offset="0.578" stop-color="rgb(152,152,152)"/><stop offset="0.648" stop-color="rgb(158,158,158)"/><stop offset="0.727" stop-color="rgb(134,134,134)"/><stop offset="0.744" stop-color="rgb(108,108,108)"/><stop offset="0.771" stop-color="rgb(26,26,26)"/><stop offset="0.788" stop-color="rgb(9,9,9)"/><stop offset="0.998" stop-color="rgb(6,6,6)"/></linearGradient><linearGradient id="lg94" x1="0" y1="30.4" x2="0" y2="87.5" gradientUnits="userSpaceOnUse"><stop offset="0.000" stop-color="rgb(50,50,50)"/><stop offset="0.131" stop-color="rgb(54,54,54)"/><stop offset="0.166" stop-color="rgb(72,72,72)"/><stop offset="0.175" stop-color="rgb(87,87,87)"/><stop offset="0.184" stop-color="rgb(124,124,124)"/><stop offset="0.193" stop-color="rgb(199,199,199)"/><stop offset="0.201" stop-color="rgb(255,255,255)"/><stop offset="0.210" stop-color="rgb(255,255,255)"/><stop offset="0.219" stop-color="rgb(203,203,203)"/><stop offset="0.228" stop-color="rgb(124,124,124)"/><stop offset="0.236" stop-color="rgb(87,87,87)"/><stop offset="0.245" stop-color="rgb(79,79,79)"/><stop offset="0.438" stop-color="rgb(86,86,86)"/><stop offset="0.447" stop-color="rgb(92,92,92)"/><stop offset="0.455" stop-color="rgb(113,113,113)"/><stop offset="0.473" stop-color="rgb(200,200,200)"/><stop offset="0.482" stop-color="rgb(195,195,195)"/><stop offset="0.499" stop-color="rgb(108,108,108)"/><stop offset="0.508" stop-color="rgb(92,92,92)"/><stop offset="0.517" stop-color="rgb(97,97,97)"/><stop offset="0.525" stop-color="rgb(129,129,129)"/><stop offset="0.534" stop-color="rgb(206,206,206)"/><stop offset="0.543" stop-color="rgb(255,255,255)"/><stop offset="0.560" stop-color="rgb(255,255,255)"/><stop offset="0.569" stop-color="rgb(218,218,218)"/><stop offset="0.578" stop-color="rgb(170,170,170)"/><stop offset="0.587" stop-color="rgb(157,157,157)"/><stop offset="0.648" stop-color="rgb(158,158,158)"/><stop offset="0.727" stop-color="rgb(134,134,134)"/><stop offset="0.744" stop-color="rgb(108,108,108)"/><stop offset="0.771" stop-color="rgb(26,26,26)"/><stop offset="0.788" stop-color="rgb(9,9,9)"/><stop offset="0.998" stop-color="rgb(6,6,6)"/></linearGradient><linearGradient id="lg95" x1="0" y1="30.4" x2="0" y2="87.5" gradientUnits="userSpaceOnUse"><stop offset="0.000" stop-color="rgb(50,50,50)"/><stop offset="0.131" stop-color="rgb(54,54,54)"/><stop offset="0.175" stop-color="rgb(68,68,68)"/><stop offset="0.184" stop-color="rgb(94,94,94)"/><stop offset="0.201" stop-color="rgb(222,222,222)"/><stop offset="0.210" stop-color="rgb(233,233,233)"/><stop offset="0.228" stop-color="rgb(114,114,114)"/><stop offset="0.236" stop-color="rgb(85,85,85)"/><stop offset="0.245" stop-color="rgb(78,78,78)"/><stop offset="0.280" stop-color="rgb(84,84,84)"/><stop offset="0.289" stop-color="rgb(93,93,93)"/><stop offset="0.306" stop-color="rgb(126,126,126)"/><stop offset="0.315" stop-color="rgb(124,124,124)"/><stop offset="0.333" stop-color="rgb(92,92,92)"/><stop offset="0.342" stop-color="rgb(86,86,86)"/><stop offset="0.438" stop-color="rgb(87,87,87)"/><stop offset="0.447" stop-color="rgb(98,98,98)"/><stop offset="0.455" stop-color="rgb(139,139,139)"/><stop offset="0.464" stop-color="rgb(226,226,226)"/><stop offset="0.473" stop-color="rgb(255,255,255)"/><stop offset="0.482" stop-color="rgb(255,255,255)"/><stop offset="0.490" stop-color="rgb(211,211,211)"/><stop offset="0.499" stop-color="rgb(139,139,139)"/><stop offset="0.508" stop-color="rgb(110,110,110)"/><stop offset="0.517" stop-color="rgb(106,106,106)"/><stop offset="0.525" stop-color="rgb(131,131,131)"/><stop offset="0.534" stop-color="rgb(210,210,210)"/><stop offset="0.543" stop-color="rgb(255,255,255)"/><stop offset="0.560" stop-color="rgb(255,255,255)"/><stop offset="0.569" stop-color="rgb(231,231,231)"/><stop offset="0.578" stop-color="rgb(182,182,182)"/><stop offset="0.587" stop-color="rgb(169,169,169)"/><stop offset="0.604" stop-color="rgb(171,171,171)"/><stop offset="0.701" stop-color="rgb(145,145,145)"/><stop offset="0.736" stop-color="rgb(125,125,125)"/><stop offset="0.744" stop-color="rgb(108,108,108)"/><stop offset="0.771" stop-color="rgb(26,26,26)"/><stop offset="0.788" stop-color="rgb(9,9,9)"/><stop offset="0.998" stop-color="rgb(6,6,6)"/></linearGradient><linearGradient id="lg96" x1="0" y1="30.4" x2="0" y2="87.5" gradientUnits="userSpaceOnUse"><stop offset="0.000" stop-color="rgb(50,50,50)"/><stop offset="0.123" stop-color="rgb(53,53,53)"/><stop offset="0.166" stop-color="rgb(63,63,63)"/><stop offset="0.175" stop-color="rgb(72,72,72)"/><stop offset="0.184" stop-color="rgb(95,95,95)"/><stop offset="0.201" stop-color="rgb(187,187,187)"/><stop offset="0.210" stop-color="rgb(192,192,192)"/><stop offset="0.228" stop-color="rgb(108,108,108)"/><stop offset="0.236" stop-color="rgb(94,94,94)"/><stop offset="0.254" stop-color="rgb(102,102,102)"/><stop offset="0.289" stop-color="rgb(95,95,95)"/><stop offset="0.306" stop-color="rgb(122,122,122)"/><stop offset="0.315" stop-color="rgb(120,120,120)"/><stop offset="0.333" stop-color="rgb(92,92,92)"/><stop offset="0.342" stop-color="rgb(86,86,86)"/><stop offset="0.490" stop-color="rgb(90,90,90)"/><stop offset="0.517" stop-color="rgb(104,104,104)"/><stop offset="0.525" stop-color="rgb(120,120,120)"/><stop offset="0.534" stop-color="rgb(169,169,169)"/><stop offset="0.543" stop-color="rgb(243,243,243)"/><stop offset="0.552" stop-color="rgb(255,255,255)"/><stop offset="0.560" stop-color="rgb(255,255,255)"/><stop offset="0.569" stop-color="rgb(205,205,205)"/><stop offset="0.578" stop-color="rgb(170,170,170)"/><stop offset="0.587" stop-color="rgb(159,159,159)"/><stop offset="0.648" stop-color="rgb(158,158,158)"/><stop offset="0.727" stop-color="rgb(134,134,134)"/><stop offset="0.744" stop-color="rgb(108,108,108)"/><stop offset="0.771" stop-color="rgb(26,26,26)"/><stop offset="0.788" stop-color="rgb(9,9,9)"/><stop offset="0.998" stop-color="rgb(6,6,6)"/></linearGradient><linearGradient id="lg97" x1="0" y1="30.4" x2="0" y2="87.5" gradientUnits="userSpaceOnUse"><stop offset="0.000" stop-color="rgb(50,50,50)"/><stop offset="0.105" stop-color="rgb(52,52,52)"/><stop offset="0.123" stop-color="rgb(61,61,61)"/><stop offset="0.140" stop-color="rgb(81,81,81)"/><stop offset="0.158" stop-color="rgb(77,77,77)"/><stop offset="0.175" stop-color="rgb(85,85,85)"/><stop offset="0.184" stop-color="rgb(110,110,110)"/><stop offset="0.193" stop-color="rgb(175,175,175)"/><stop offset="0.201" stop-color="rgb(251,251,251)"/><stop offset="0.210" stop-color="rgb(255,255,255)"/><stop offset="0.219" stop-color="rgb(194,194,194)"/><stop offset="0.228" stop-color="rgb(121,121,121)"/><stop offset="0.236" stop-color="rgb(86,86,86)"/><stop offset="0.245" stop-color="rgb(78,78,78)"/><stop offset="0.280" stop-color="rgb(84,84,84)"/><stop offset="0.289" stop-color="rgb(94,94,94)"/><stop offset="0.306" stop-color="rgb(129,129,129)"/><stop offset="0.315" stop-color="rgb(128,128,128)"/><stop offset="0.333" stop-color="rgb(93,93,93)"/><stop offset="0.342" stop-color="rgb(87,87,87)"/><stop offset="0.377" stop-color="rgb(99,99,99)"/><stop offset="0.412" stop-color="rgb(87,87,87)"/><stop offset="0.438" stop-color="rgb(87,87,87)"/><stop offset="0.447" stop-color="rgb(97,97,97)"/><stop offset="0.455" stop-color="rgb(137,137,137)"/><stop offset="0.464" stop-color="rgb(220,220,220)"/><stop offset="0.473" stop-color="rgb(255,255,255)"/><stop offset="0.482" stop-color="rgb(255,255,255)"/><stop offset="0.490" stop-color="rgb(201,201,201)"/><stop offset="0.499" stop-color="rgb(126,126,126)"/><stop offset="0.508" stop-color="rgb(94,94,94)"/><stop offset="0.517" stop-color="rgb(91,91,91)"/><stop offset="0.525" stop-color="rgb(108,108,108)"/><stop offset="0.534" stop-color="rgb(158,158,158)"/><stop offset="0.543" stop-color="rgb(227,227,227)"/><stop offset="0.552" stop-color="rgb(255,255,255)"/><stop offset="0.560" stop-color="rgb(239,239,239)"/><stop offset="0.569" stop-color="rgb(193,193,193)"/><stop offset="0.578" stop-color="rgb(168,168,168)"/><stop offset="0.587" stop-color="rgb(161,161,161)"/><stop offset="0.657" stop-color="rgb(156,156,156)"/><stop offset="0.727" stop-color="rgb(134,134,134)"/><stop offset="0.744" stop-color="rgb(108,108,108)"/><stop offset="0.771" stop-color="rgb(26,26,26)"/><stop offset="0.788" stop-color="rgb(9,9,9)"/><stop offset="0.998" stop-color="rgb(6,6,6)"/></linearGradient><linearGradient id="lg98" x1="0" y1="30.4" x2="0" y2="87.5" gradientUnits="userSpaceOnUse"><stop offset="0.000" stop-color="rgb(50,50,50)"/><stop offset="0.166" stop-color="rgb(60,60,60)"/><stop offset="0.175" stop-color="rgb(69,69,69)"/><stop offset="0.184" stop-color="rgb(102,102,102)"/><stop offset="0.201" stop-color="rgb(255,255,255)"/><stop offset="0.210" stop-color="rgb(255,255,255)"/><stop offset="0.219" stop-color="rgb(203,203,203)"/><stop offset="0.228" stop-color="rgb(134,134,134)"/><stop offset="0.236" stop-color="rgb(114,114,114)"/><stop offset="0.254" stop-color="rgb(109,109,109)"/><stop offset="0.271" stop-color="rgb(86,86,86)"/><stop offset="0.289" stop-color="rgb(95,95,95)"/><stop offset="0.306" stop-color="rgb(133,133,133)"/><stop offset="0.315" stop-color="rgb(131,131,131)"/><stop offset="0.333" stop-color="rgb(94,94,94)"/><stop offset="0.342" stop-color="rgb(86,86,86)"/><stop offset="0.438" stop-color="rgb(87,87,87)"/><stop offset="0.447" stop-color="rgb(98,98,98)"/><stop offset="0.455" stop-color="rgb(139,139,139)"/><stop offset="0.464" stop-color="rgb(226,226,226)"/><stop offset="0.473" stop-color="rgb(255,255,255)"/><stop offset="0.482" stop-color="rgb(255,255,255)"/><stop offset="0.490" stop-color="rgb(206,206,206)"/><stop offset="0.499" stop-color="rgb(128,128,128)"/><stop offset="0.508" stop-color="rgb(94,94,94)"/><stop offset="0.517" stop-color="rgb(87,87,87)"/><stop offset="0.543" stop-color="rgb(100,100,100)"/><stop offset="0.569" stop-color="rgb(167,167,167)"/><stop offset="0.595" stop-color="rgb(158,158,158)"/><stop offset="0.648" stop-color="rgb(158,158,158)"/><stop offset="0.718" stop-color="rgb(139,139,139)"/><stop offset="0.736" stop-color="rgb(125,125,125)"/><stop offset="0.744" stop-color="rgb(108,108,108)"/><stop offset="0.771" stop-color="rgb(26,26,26)"/><stop offset="0.788" stop-color="rgb(9,9,9)"/><stop offset="0.998" stop-color="rgb(6,6,6)"/></linearGradient><linearGradient id="lg99" x1="0" y1="30.4" x2="0" y2="87.5" gradientUnits="userSpaceOnUse"><stop offset="0.000" stop-color="rgb(50,50,50)"/><stop offset="0.131" stop-color="rgb(54,54,54)"/><stop offset="0.166" stop-color="rgb(60,60,60)"/><stop offset="0.175" stop-color="rgb(68,68,68)"/><stop offset="0.184" stop-color="rgb(98,98,98)"/><stop offset="0.201" stop-color="rgb(241,241,241)"/><stop offset="0.210" stop-color="rgb(252,252,252)"/><stop offset="0.228" stop-color="rgb(118,118,118)"/><stop offset="0.236" stop-color="rgb(86,86,86)"/><stop offset="0.245" stop-color="rgb(78,78,78)"/><stop offset="0.280" stop-color="rgb(85,85,85)"/><stop offset="0.289" stop-color="rgb(97,97,97)"/><stop offset="0.306" stop-color="rgb(145,145,145)"/><stop offset="0.315" stop-color="rgb(142,142,142)"/><stop offset="0.333" stop-color="rgb(98,98,98)"/><stop offset="0.342" stop-color="rgb(92,92,92)"/><stop offset="0.385" stop-color="rgb(85,85,85)"/><stop offset="0.473" stop-color="rgb(86,86,86)"/><stop offset="0.517" stop-color="rgb(122,122,122)"/><stop offset="0.525" stop-color="rgb(145,145,145)"/><stop offset="0.534" stop-color="rgb(214,214,214)"/><stop offset="0.543" stop-color="rgb(255,255,255)"/><stop offset="0.560" stop-color="rgb(255,255,255)"/><stop offset="0.569" stop-color="rgb(232,232,232)"/><stop offset="0.578" stop-color="rgb(191,191,191)"/><stop offset="0.595" stop-color="rgb(162,162,162)"/><stop offset="0.674" stop-color="rgb(152,152,152)"/><stop offset="0.718" stop-color="rgb(139,139,139)"/><stop offset="0.736" stop-color="rgb(125,125,125)"/><stop offset="0.744" stop-color="rgb(108,108,108)"/><stop offset="0.771" stop-color="rgb(26,26,26)"/><stop offset="0.788" stop-color="rgb(9,9,9)"/><stop offset="0.998" stop-color="rgb(6,6,6)"/></linearGradient><linearGradient id="lg100" x1="0" y1="30.4" x2="0" y2="87.5" gradientUnits="userSpaceOnUse"><stop offset="0.000" stop-color="rgb(50,50,50)"/><stop offset="0.166" stop-color="rgb(60,60,60)"/><stop offset="0.175" stop-color="rgb(65,65,65)"/><stop offset="0.184" stop-color="rgb(83,83,83)"/><stop offset="0.201" stop-color="rgb(171,171,171)"/><stop offset="0.210" stop-color="rgb(183,183,183)"/><stop offset="0.228" stop-color="rgb(119,119,119)"/><stop offset="0.236" stop-color="rgb(101,101,101)"/><stop offset="0.263" stop-color="rgb(84,84,84)"/><stop offset="0.280" stop-color="rgb(84,84,84)"/><stop offset="0.289" stop-color="rgb(93,93,93)"/><stop offset="0.306" stop-color="rgb(130,130,130)"/><stop offset="0.315" stop-color="rgb(134,134,134)"/><stop offset="0.342" stop-color="rgb(98,98,98)"/><stop offset="0.359" stop-color="rgb(87,87,87)"/><stop offset="0.385" stop-color="rgb(86,86,86)"/><stop offset="0.412" stop-color="rgb(106,106,106)"/><stop offset="0.429" stop-color="rgb(90,90,90)"/><stop offset="0.447" stop-color="rgb(91,91,91)"/><stop offset="0.455" stop-color="rgb(109,109,109)"/><stop offset="0.473" stop-color="rgb(181,181,181)"/><stop offset="0.482" stop-color="rgb(176,176,176)"/><stop offset="0.499" stop-color="rgb(104,104,104)"/><stop offset="0.508" stop-color="rgb(90,90,90)"/><stop offset="0.517" stop-color="rgb(92,92,92)"/><stop offset="0.525" stop-color="rgb(118,118,118)"/><stop offset="0.543" stop-color="rgb(255,255,255)"/><stop offset="0.560" stop-color="rgb(255,255,255)"/><stop offset="0.578" stop-color="rgb(167,167,167)"/><stop offset="0.587" stop-color="rgb(157,157,157)"/><stop offset="0.648" stop-color="rgb(158,158,158)"/><stop offset="0.727" stop-color="rgb(134,134,134)"/><stop offset="0.744" stop-color="rgb(108,108,108)"/><stop offset="0.771" stop-color="rgb(26,26,26)"/><stop offset="0.788" stop-color="rgb(9,9,9)"/><stop offset="0.998" stop-color="rgb(6,6,6)"/></linearGradient><linearGradient id="lg101" x1="0" y1="30.4" x2="0" y2="87.5" gradientUnits="userSpaceOnUse"><stop offset="0.000" stop-color="rgb(50,50,50)"/><stop offset="0.166" stop-color="rgb(60,60,60)"/><stop offset="0.175" stop-color="rgb(71,71,71)"/><stop offset="0.184" stop-color="rgb(108,108,108)"/><stop offset="0.201" stop-color="rgb(255,255,255)"/><stop offset="0.210" stop-color="rgb(255,255,255)"/><stop offset="0.219" stop-color="rgb(200,200,200)"/><stop offset="0.228" stop-color="rgb(123,123,123)"/><stop offset="0.236" stop-color="rgb(87,87,87)"/><stop offset="0.245" stop-color="rgb(79,79,79)"/><stop offset="0.280" stop-color="rgb(84,84,84)"/><stop offset="0.289" stop-color="rgb(94,94,94)"/><stop offset="0.306" stop-color="rgb(129,129,129)"/><stop offset="0.315" stop-color="rgb(128,128,128)"/><stop offset="0.333" stop-color="rgb(99,99,99)"/><stop offset="0.359" stop-color="rgb(103,103,103)"/><stop offset="0.403" stop-color="rgb(85,85,85)"/><stop offset="0.438" stop-color="rgb(89,89,89)"/><stop offset="0.447" stop-color="rgb(103,103,103)"/><stop offset="0.455" stop-color="rgb(148,148,148)"/><stop offset="0.464" stop-color="rgb(235,235,235)"/><stop offset="0.473" stop-color="rgb(255,255,255)"/><stop offset="0.482" stop-color="rgb(255,255,255)"/><stop offset="0.490" stop-color="rgb(213,213,213)"/><stop offset="0.499" stop-color="rgb(132,132,132)"/><stop offset="0.508" stop-color="rgb(97,97,97)"/><stop offset="0.517" stop-color="rgb(88,88,88)"/><stop offset="0.543" stop-color="rgb(99,99,99)"/><stop offset="0.578" stop-color="rgb(150,150,150)"/><stop offset="0.604" stop-color="rgb(158,158,158)"/><stop offset="0.648" stop-color="rgb(158,158,158)"/><stop offset="0.718" stop-color="rgb(139,139,139)"/><stop offset="0.736" stop-color="rgb(125,125,125)"/><stop offset="0.744" stop-color="rgb(108,108,108)"/><stop offset="0.771" stop-color="rgb(26,26,26)"/><stop offset="0.788" stop-color="rgb(9,9,9)"/><stop offset="0.998" stop-color="rgb(6,6,6)"/></linearGradient><linearGradient id="lg102" x1="0" y1="30.4" x2="0" y2="87.5" gradientUnits="userSpaceOnUse"><stop offset="0.000" stop-color="rgb(50,50,50)"/><stop offset="0.158" stop-color="rgb(59,59,59)"/><stop offset="0.175" stop-color="rgb(75,75,75)"/><stop offset="0.184" stop-color="rgb(98,98,98)"/><stop offset="0.201" stop-color="rgb(174,174,174)"/><stop offset="0.210" stop-color="rgb(175,175,175)"/><stop offset="0.228" stop-color="rgb(98,98,98)"/><stop offset="0.236" stop-color="rgb(81,81,81)"/><stop offset="0.245" stop-color="rgb(78,78,78)"/><stop offset="0.280" stop-color="rgb(85,85,85)"/><stop offset="0.289" stop-color="rgb(95,95,95)"/><stop offset="0.306" stop-color="rgb(132,132,132)"/><stop offset="0.315" stop-color="rgb(135,135,135)"/><stop offset="0.342" stop-color="rgb(96,96,96)"/><stop offset="0.359" stop-color="rgb(87,87,87)"/><stop offset="0.447" stop-color="rgb(85,85,85)"/><stop offset="0.482" stop-color="rgb(103,103,103)"/><stop offset="0.499" stop-color="rgb(94,94,94)"/><stop offset="0.517" stop-color="rgb(105,105,105)"/><stop offset="0.525" stop-color="rgb(124,124,124)"/><stop offset="0.534" stop-color="rgb(169,169,169)"/><stop offset="0.543" stop-color="rgb(232,232,232)"/><stop offset="0.552" stop-color="rgb(255,255,255)"/><stop offset="0.560" stop-color="rgb(232,232,232)"/><stop offset="0.569" stop-color="rgb(185,185,185)"/><stop offset="0.578" stop-color="rgb(161,161,161)"/><stop offset="0.648" stop-color="rgb(158,158,158)"/><stop offset="0.727" stop-color="rgb(134,134,134)"/><stop offset="0.744" stop-color="rgb(108,108,108)"/><stop offset="0.771" stop-color="rgb(26,26,26)"/><stop offset="0.788" stop-color="rgb(9,9,9)"/><stop offset="0.998" stop-color="rgb(6,6,6)"/></linearGradient><linearGradient id="lg103" x1="0" y1="30.4" x2="0" y2="87.5" gradientUnits="userSpaceOnUse"><stop offset="0.000" stop-color="rgb(50,50,50)"/><stop offset="0.166" stop-color="rgb(60,60,60)"/><stop offset="0.175" stop-color="rgb(69,69,69)"/><stop offset="0.184" stop-color="rgb(103,103,103)"/><stop offset="0.201" stop-color="rgb(255,255,255)"/><stop offset="0.210" stop-color="rgb(255,255,255)"/><stop offset="0.219" stop-color="rgb(206,206,206)"/><stop offset="0.228" stop-color="rgb(126,126,126)"/><stop offset="0.236" stop-color="rgb(87,87,87)"/><stop offset="0.245" stop-color="rgb(79,79,79)"/><stop offset="0.280" stop-color="rgb(84,84,84)"/><stop offset="0.289" stop-color="rgb(95,95,95)"/><stop offset="0.306" stop-color="rgb(135,135,135)"/><stop offset="0.315" stop-color="rgb(136,136,136)"/><stop offset="0.333" stop-color="rgb(111,111,111)"/><stop offset="0.359" stop-color="rgb(119,119,119)"/><stop offset="0.394" stop-color="rgb(88,88,88)"/><stop offset="0.438" stop-color="rgb(87,87,87)"/><stop offset="0.447" stop-color="rgb(98,98,98)"/><stop offset="0.455" stop-color="rgb(140,140,140)"/><stop offset="0.464" stop-color="rgb(227,227,227)"/><stop offset="0.473" stop-color="rgb(255,255,255)"/><stop offset="0.482" stop-color="rgb(255,255,255)"/><stop offset="0.490" stop-color="rgb(220,220,220)"/><stop offset="0.499" stop-color="rgb(144,144,144)"/><stop offset="0.508" stop-color="rgb(109,109,109)"/><stop offset="0.525" stop-color="rgb(92,92,92)"/><stop offset="0.543" stop-color="rgb(99,99,99)"/><stop offset="0.569" stop-color="rgb(142,142,142)"/><stop offset="0.587" stop-color="rgb(154,154,154)"/><stop offset="0.657" stop-color="rgb(156,156,156)"/><stop offset="0.718" stop-color="rgb(139,139,139)"/><stop offset="0.736" stop-color="rgb(125,125,125)"/><stop offset="0.744" stop-color="rgb(108,108,108)"/><stop offset="0.771" stop-color="rgb(26,26,26)"/><stop offset="0.788" stop-color="rgb(9,9,9)"/><stop offset="0.998" stop-color="rgb(6,6,6)"/></linearGradient><linearGradient id="lg104" x1="0" y1="30.4" x2="0" y2="87.5" gradientUnits="userSpaceOnUse"><stop offset="0.000" stop-color="rgb(50,50,50)"/><stop offset="0.123" stop-color="rgb(53,53,53)"/><stop offset="0.140" stop-color="rgb(64,64,64)"/><stop offset="0.149" stop-color="rgb(99,99,99)"/><stop offset="0.166" stop-color="rgb(255,255,255)"/><stop offset="0.175" stop-color="rgb(255,255,255)"/><stop offset="0.184" stop-color="rgb(204,204,204)"/><stop offset="0.193" stop-color="rgb(120,120,120)"/><stop offset="0.201" stop-color="rgb(81,81,81)"/><stop offset="0.210" stop-color="rgb(79,79,79)"/><stop offset="0.219" stop-color="rgb(101,101,101)"/><stop offset="0.228" stop-color="rgb(143,143,143)"/><stop offset="0.236" stop-color="rgb(174,174,174)"/><stop offset="0.245" stop-color="rgb(162,162,162)"/><stop offset="0.254" stop-color="rgb(123,123,123)"/><stop offset="0.263" stop-color="rgb(94,94,94)"/><stop offset="0.271" stop-color="rgb(83,83,83)"/><stop offset="0.438" stop-color="rgb(87,87,87)"/><stop offset="0.447" stop-color="rgb(97,97,97)"/><stop offset="0.455" stop-color="rgb(130,130,130)"/><stop offset="0.464" stop-color="rgb(189,189,189)"/><stop offset="0.473" stop-color="rgb(236,236,236)"/><stop offset="0.482" stop-color="rgb(230,230,230)"/><stop offset="0.499" stop-color="rgb(139,139,139)"/><stop offset="0.508" stop-color="rgb(110,110,110)"/><stop offset="0.525" stop-color="rgb(90,90,90)"/><stop offset="0.543" stop-color="rgb(93,93,93)"/><stop offset="0.569" stop-color="rgb(115,115,115)"/><stop offset="0.595" stop-color="rgb(123,123,123)"/><stop offset="0.709" stop-color="rgb(116,116,116)"/><stop offset="0.736" stop-color="rgb(104,104,104)"/><stop offset="0.744" stop-color="rgb(92,92,92)"/><stop offset="0.771" stop-color="rgb(25,25,25)"/><stop offset="0.788" stop-color="rgb(9,9,9)"/><stop offset="0.998" stop-color="rgb(6,6,6)"/></linearGradient><linearGradient id="lg105" x1="0" y1="30.4" x2="0" y2="87.5" gradientUnits="userSpaceOnUse"><stop offset="0.000" stop-color="rgb(50,50,50)"/><stop offset="0.114" stop-color="rgb(53,53,53)"/><stop offset="0.175" stop-color="rgb(62,62,62)"/><stop offset="0.193" stop-color="rgb(83,83,83)"/><stop offset="0.210" stop-color="rgb(139,139,139)"/><stop offset="0.219" stop-color="rgb(143,143,143)"/><stop offset="0.236" stop-color="rgb(97,97,97)"/><stop offset="0.245" stop-color="rgb(83,83,83)"/><stop offset="0.254" stop-color="rgb(79,79,79)"/><stop offset="0.306" stop-color="rgb(96,96,96)"/><stop offset="0.342" stop-color="rgb(85,85,85)"/><stop offset="0.508" stop-color="rgb(86,86,86)"/><stop offset="0.525" stop-color="rgb(101,101,101)"/><stop offset="0.543" stop-color="rgb(165,165,165)"/><stop offset="0.552" stop-color="rgb(177,177,177)"/><stop offset="0.569" stop-color="rgb(134,134,134)"/><stop offset="0.578" stop-color="rgb(124,124,124)"/><stop offset="0.665" stop-color="rgb(122,122,122)"/><stop offset="0.736" stop-color="rgb(104,104,104)"/><stop offset="0.744" stop-color="rgb(92,92,92)"/><stop offset="0.771" stop-color="rgb(25,25,25)"/><stop offset="0.788" stop-color="rgb(9,9,9)"/><stop offset="0.998" stop-color="rgb(6,6,6)"/></linearGradient><linearGradient id="lg106" x1="0" y1="30.4" x2="0" y2="87.5" gradientUnits="userSpaceOnUse"><stop offset="0.000" stop-color="rgb(80,80,80)"/><stop offset="0.158" stop-color="rgb(82,82,82)"/><stop offset="0.184" stop-color="rgb(89,89,89)"/><stop offset="0.193" stop-color="rgb(112,112,112)"/><stop offset="0.201" stop-color="rgb(174,174,174)"/><stop offset="0.210" stop-color="rgb(255,255,255)"/><stop offset="0.219" stop-color="rgb(255,255,255)"/><stop offset="0.228" stop-color="rgb(226,226,226)"/><stop offset="0.236" stop-color="rgb(147,147,147)"/><stop offset="0.245" stop-color="rgb(107,107,107)"/><stop offset="0.254" stop-color="rgb(111,111,111)"/><stop offset="0.263" stop-color="rgb(159,159,159)"/><stop offset="0.271" stop-color="rgb(237,237,237)"/><stop offset="0.280" stop-color="rgb(255,255,255)"/><stop offset="0.289" stop-color="rgb(237,237,237)"/><stop offset="0.298" stop-color="rgb(159,159,159)"/><stop offset="0.306" stop-color="rgb(110,110,110)"/><stop offset="0.315" stop-color="rgb(93,93,93)"/><stop offset="0.324" stop-color="rgb(90,90,90)"/><stop offset="0.394" stop-color="rgb(90,90,90)"/><stop offset="0.412" stop-color="rgb(102,102,102)"/><stop offset="0.420" stop-color="rgb(132,132,132)"/><stop offset="0.438" stop-color="rgb(255,255,255)"/><stop offset="0.455" stop-color="rgb(255,255,255)"/><stop offset="0.473" stop-color="rgb(141,141,141)"/><stop offset="0.482" stop-color="rgb(121,121,121)"/><stop offset="0.569" stop-color="rgb(139,139,139)"/><stop offset="0.587" stop-color="rgb(156,156,156)"/><stop offset="0.604" stop-color="rgb(194,194,194)"/><stop offset="0.613" stop-color="rgb(198,198,198)"/><stop offset="0.630" stop-color="rgb(162,162,162)"/><stop offset="0.648" stop-color="rgb(142,142,142)"/><stop offset="0.709" stop-color="rgb(141,141,141)"/><stop offset="0.762" stop-color="rgb(164,164,164)"/><stop offset="0.823" stop-color="rgb(162,162,162)"/><stop offset="0.919" stop-color="rgb(145,145,145)"/><stop offset="0.981" stop-color="rgb(116,116,116)"/><stop offset="0.998" stop-color="rgb(100,100,100)"/></linearGradient><linearGradient id="lg107" x1="0" y1="30.4" x2="0" y2="87.5" gradientUnits="userSpaceOnUse"><stop offset="0.000" stop-color="rgb(80,80,80)"/><stop offset="0.158" stop-color="rgb(82,82,82)"/><stop offset="0.184" stop-color="rgb(89,89,89)"/><stop offset="0.193" stop-color="rgb(112,112,112)"/><stop offset="0.201" stop-color="rgb(174,174,174)"/><stop offset="0.210" stop-color="rgb(255,255,255)"/><stop offset="0.219" stop-color="rgb(255,255,255)"/><stop offset="0.228" stop-color="rgb(226,226,226)"/><stop offset="0.236" stop-color="rgb(147,147,147)"/><stop offset="0.245" stop-color="rgb(107,107,107)"/><stop offset="0.254" stop-color="rgb(111,111,111)"/><stop offset="0.263" stop-color="rgb(159,159,159)"/><stop offset="0.271" stop-color="rgb(237,237,237)"/><stop offset="0.280" stop-color="rgb(255,255,255)"/><stop offset="0.289" stop-color="rgb(237,237,237)"/><stop offset="0.298" stop-color="rgb(159,159,159)"/><stop offset="0.306" stop-color="rgb(110,110,110)"/><stop offset="0.315" stop-color="rgb(93,93,93)"/><stop offset="0.324" stop-color="rgb(90,90,90)"/><stop offset="0.359" stop-color="rgb(92,92,92)"/><stop offset="0.385" stop-color="rgb(108,108,108)"/><stop offset="0.412" stop-color="rgb(107,107,107)"/><stop offset="0.420" stop-color="rgb(133,133,133)"/><stop offset="0.438" stop-color="rgb(255,255,255)"/><stop offset="0.455" stop-color="rgb(255,255,255)"/><stop offset="0.473" stop-color="rgb(141,141,141)"/><stop offset="0.482" stop-color="rgb(121,121,121)"/><stop offset="0.560" stop-color="rgb(139,139,139)"/><stop offset="0.587" stop-color="rgb(160,160,160)"/><stop offset="0.622" stop-color="rgb(140,140,140)"/><stop offset="0.692" stop-color="rgb(140,140,140)"/><stop offset="0.718" stop-color="rgb(144,144,144)"/><stop offset="0.753" stop-color="rgb(163,163,163)"/><stop offset="0.788" stop-color="rgb(165,165,165)"/><stop offset="0.919" stop-color="rgb(145,145,145)"/><stop offset="0.981" stop-color="rgb(116,116,116)"/><stop offset="0.998" stop-color="rgb(100,100,100)"/></linearGradient><linearGradient id="lg108" x1="0" y1="30.4" x2="0" y2="87.5" gradientUnits="userSpaceOnUse"><stop offset="0.000" stop-color="rgb(22,22,22)"/><stop offset="0.079" stop-color="rgb(22,22,22)"/><stop offset="0.123" stop-color="rgb(34,34,34)"/><stop offset="0.175" stop-color="rgb(22,22,22)"/><stop offset="0.394" stop-color="rgb(23,23,23)"/><stop offset="0.412" stop-color="rgb(37,37,37)"/><stop offset="0.429" stop-color="rgb(92,92,92)"/><stop offset="0.438" stop-color="rgb(111,111,111)"/><stop offset="0.447" stop-color="rgb(103,103,103)"/><stop offset="0.464" stop-color="rgb(45,45,45)"/><stop offset="0.473" stop-color="rgb(29,29,29)"/><stop offset="0.482" stop-color="rgb(24,24,24)"/><stop offset="0.552" stop-color="rgb(30,30,30)"/><stop offset="0.613" stop-color="rgb(24,24,24)"/><stop offset="0.630" stop-color="rgb(39,39,39)"/><stop offset="0.639" stop-color="rgb(64,64,64)"/><stop offset="0.665" stop-color="rgb(199,199,199)"/><stop offset="0.674" stop-color="rgb(225,225,225)"/><stop offset="0.692" stop-color="rgb(247,247,247)"/><stop offset="0.709" stop-color="rgb(251,251,251)"/><stop offset="0.736" stop-color="rgb(237,237,237)"/><stop offset="0.788" stop-color="rgb(181,181,181)"/><stop offset="0.797" stop-color="rgb(166,166,166)"/><stop offset="0.823" stop-color="rgb(96,96,96)"/><stop offset="0.832" stop-color="rgb(87,87,87)"/><stop offset="0.928" stop-color="rgb(65,65,65)"/><stop offset="0.972" stop-color="rgb(27,27,27)"/><stop offset="0.998" stop-color="rgb(22,22,22)"/></linearGradient><linearGradient id="lg109" x1="0" y1="30.4" x2="0" y2="87.5" gradientUnits="userSpaceOnUse"><stop offset="0.000" stop-color="rgb(85,85,85)"/><stop offset="0.184" stop-color="rgb(85,85,85)"/><stop offset="0.228" stop-color="rgb(118,118,118)"/><stop offset="0.263" stop-color="rgb(87,87,87)"/><stop offset="0.298" stop-color="rgb(94,94,94)"/><stop offset="0.324" stop-color="rgb(88,88,88)"/><stop offset="0.350" stop-color="rgb(110,110,110)"/><stop offset="0.359" stop-color="rgb(124,124,124)"/><stop offset="0.368" stop-color="rgb(158,158,158)"/><stop offset="0.377" stop-color="rgb(211,211,211)"/><stop offset="0.385" stop-color="rgb(252,252,252)"/><stop offset="0.394" stop-color="rgb(245,245,245)"/><stop offset="0.412" stop-color="rgb(134,134,134)"/><stop offset="0.420" stop-color="rgb(98,98,98)"/><stop offset="0.429" stop-color="rgb(84,84,84)"/><stop offset="0.438" stop-color="rgb(81,81,81)"/><stop offset="0.464" stop-color="rgb(82,82,82)"/><stop offset="0.499" stop-color="rgb(107,107,107)"/><stop offset="0.525" stop-color="rgb(95,95,95)"/><stop offset="0.543" stop-color="rgb(123,123,123)"/><stop offset="0.552" stop-color="rgb(129,129,129)"/><stop offset="0.578" stop-color="rgb(92,92,92)"/><stop offset="0.674" stop-color="rgb(87,87,87)"/><stop offset="0.718" stop-color="rgb(60,60,60)"/><stop offset="0.998" stop-color="rgb(58,58,58)"/></linearGradient><linearGradient id="lg110" x1="0" y1="30.4" x2="0" y2="87.5" gradientUnits="userSpaceOnUse"><stop offset="0.000" stop-color="rgb(85,85,85)"/><stop offset="0.105" stop-color="rgb(87,87,87)"/><stop offset="0.131" stop-color="rgb(115,115,115)"/><stop offset="0.140" stop-color="rgb(116,116,116)"/><stop offset="0.158" stop-color="rgb(93,93,93)"/><stop offset="0.175" stop-color="rgb(84,84,84)"/><stop offset="0.219" stop-color="rgb(84,84,84)"/><stop offset="0.245" stop-color="rgb(93,93,93)"/><stop offset="0.271" stop-color="rgb(81,81,81)"/><stop offset="0.342" stop-color="rgb(81,81,81)"/><stop offset="0.350" stop-color="rgb(86,86,86)"/><stop offset="0.359" stop-color="rgb(102,102,102)"/><stop offset="0.368" stop-color="rgb(141,141,141)"/><stop offset="0.377" stop-color="rgb(197,197,197)"/><stop offset="0.385" stop-color="rgb(241,241,241)"/><stop offset="0.394" stop-color="rgb(235,235,235)"/><stop offset="0.412" stop-color="rgb(131,131,131)"/><stop offset="0.420" stop-color="rgb(97,97,97)"/><stop offset="0.438" stop-color="rgb(81,81,81)"/><stop offset="0.508" stop-color="rgb(82,82,82)"/><stop offset="0.552" stop-color="rgb(107,107,107)"/><stop offset="0.587" stop-color="rgb(90,90,90)"/><stop offset="0.674" stop-color="rgb(87,87,87)"/><stop offset="0.709" stop-color="rgb(63,63,63)"/><stop offset="0.727" stop-color="rgb(59,59,59)"/><stop offset="0.998" stop-color="rgb(58,58,58)"/></linearGradient><linearGradient id="lg111" x1="0" y1="30.4" x2="0" y2="87.5" gradientUnits="userSpaceOnUse"><stop offset="0.000" stop-color="rgb(85,85,85)"/><stop offset="0.184" stop-color="rgb(84,84,84)"/><stop offset="0.201" stop-color="rgb(96,96,96)"/><stop offset="0.219" stop-color="rgb(127,127,127)"/><stop offset="0.228" stop-color="rgb(123,123,123)"/><stop offset="0.245" stop-color="rgb(88,88,88)"/><stop offset="0.254" stop-color="rgb(82,82,82)"/><stop offset="0.333" stop-color="rgb(83,83,83)"/><stop offset="0.350" stop-color="rgb(103,103,103)"/><stop offset="0.359" stop-color="rgb(129,129,129)"/><stop offset="0.368" stop-color="rgb(172,172,172)"/><stop offset="0.377" stop-color="rgb(226,226,226)"/><stop offset="0.385" stop-color="rgb(255,255,255)"/><stop offset="0.394" stop-color="rgb(247,247,247)"/><stop offset="0.412" stop-color="rgb(133,133,133)"/><stop offset="0.420" stop-color="rgb(98,98,98)"/><stop offset="0.429" stop-color="rgb(84,84,84)"/><stop offset="0.438" stop-color="rgb(81,81,81)"/><stop offset="0.455" stop-color="rgb(83,83,83)"/><stop offset="0.482" stop-color="rgb(116,116,116)"/><stop offset="0.508" stop-color="rgb(84,84,84)"/><stop offset="0.665" stop-color="rgb(89,89,89)"/><stop offset="0.727" stop-color="rgb(59,59,59)"/><stop offset="0.998" stop-color="rgb(58,58,58)"/></linearGradient><linearGradient id="lg112" x1="0" y1="30.4" x2="0" y2="87.5" gradientUnits="userSpaceOnUse"><stop offset="0.000" stop-color="rgb(85,85,85)"/><stop offset="0.140" stop-color="rgb(88,88,88)"/><stop offset="0.149" stop-color="rgb(103,103,103)"/><stop offset="0.166" stop-color="rgb(175,175,175)"/><stop offset="0.175" stop-color="rgb(180,180,180)"/><stop offset="0.193" stop-color="rgb(107,107,107)"/><stop offset="0.201" stop-color="rgb(88,88,88)"/><stop offset="0.210" stop-color="rgb(83,83,83)"/><stop offset="0.254" stop-color="rgb(82,82,82)"/><stop offset="0.298" stop-color="rgb(100,100,100)"/><stop offset="0.324" stop-color="rgb(90,90,90)"/><stop offset="0.359" stop-color="rgb(97,97,97)"/><stop offset="0.385" stop-color="rgb(82,82,82)"/><stop offset="0.403" stop-color="rgb(83,83,83)"/><stop offset="0.412" stop-color="rgb(92,92,92)"/><stop offset="0.420" stop-color="rgb(122,122,122)"/><stop offset="0.429" stop-color="rgb(179,179,179)"/><stop offset="0.438" stop-color="rgb(247,247,247)"/><stop offset="0.447" stop-color="rgb(255,255,255)"/><stop offset="0.455" stop-color="rgb(251,251,251)"/><stop offset="0.473" stop-color="rgb(125,125,125)"/><stop offset="0.482" stop-color="rgb(94,94,94)"/><stop offset="0.490" stop-color="rgb(84,84,84)"/><stop offset="0.508" stop-color="rgb(88,88,88)"/><stop offset="0.534" stop-color="rgb(112,112,112)"/><stop offset="0.543" stop-color="rgb(113,113,113)"/><stop offset="0.578" stop-color="rgb(92,92,92)"/><stop offset="0.674" stop-color="rgb(87,87,87)"/><stop offset="0.709" stop-color="rgb(63,63,63)"/><stop offset="0.727" stop-color="rgb(59,59,59)"/><stop offset="0.998" stop-color="rgb(58,58,58)"/></linearGradient><linearGradient id="lg113" x1="0" y1="30.4" x2="0" y2="87.5" gradientUnits="userSpaceOnUse"><stop offset="0.000" stop-color="rgb(85,85,85)"/><stop offset="0.079" stop-color="rgb(86,86,86)"/><stop offset="0.114" stop-color="rgb(106,106,106)"/><stop offset="0.140" stop-color="rgb(92,92,92)"/><stop offset="0.149" stop-color="rgb(102,102,102)"/><stop offset="0.166" stop-color="rgb(166,166,166)"/><stop offset="0.175" stop-color="rgb(170,170,170)"/><stop offset="0.193" stop-color="rgb(105,105,105)"/><stop offset="0.201" stop-color="rgb(92,92,92)"/><stop offset="0.236" stop-color="rgb(115,115,115)"/><stop offset="0.263" stop-color="rgb(89,89,89)"/><stop offset="0.280" stop-color="rgb(81,81,81)"/><stop offset="0.342" stop-color="rgb(81,81,81)"/><stop offset="0.385" stop-color="rgb(96,96,96)"/><stop offset="0.403" stop-color="rgb(91,91,91)"/><stop offset="0.412" stop-color="rgb(95,95,95)"/><stop offset="0.420" stop-color="rgb(118,118,118)"/><stop offset="0.438" stop-color="rgb(227,227,227)"/><stop offset="0.447" stop-color="rgb(255,255,255)"/><stop offset="0.455" stop-color="rgb(227,227,227)"/><stop offset="0.473" stop-color="rgb(117,117,117)"/><stop offset="0.482" stop-color="rgb(91,91,91)"/><stop offset="0.490" stop-color="rgb(83,83,83)"/><stop offset="0.569" stop-color="rgb(94,94,94)"/><stop offset="0.578" stop-color="rgb(108,108,108)"/><stop offset="0.595" stop-color="rgb(166,166,166)"/><stop offset="0.604" stop-color="rgb(163,163,163)"/><stop offset="0.622" stop-color="rgb(105,105,105)"/><stop offset="0.630" stop-color="rgb(93,93,93)"/><stop offset="0.674" stop-color="rgb(87,87,87)"/><stop offset="0.718" stop-color="rgb(60,60,60)"/><stop offset="0.998" stop-color="rgb(58,58,58)"/></linearGradient><linearGradient id="lg114" x1="0" y1="30.4" x2="0" y2="87.5" gradientUnits="userSpaceOnUse"><stop offset="0.000" stop-color="rgb(85,85,85)"/><stop offset="0.245" stop-color="rgb(81,81,81)"/><stop offset="0.280" stop-color="rgb(95,95,95)"/><stop offset="0.306" stop-color="rgb(88,88,88)"/><stop offset="0.333" stop-color="rgb(96,96,96)"/><stop offset="0.368" stop-color="rgb(81,81,81)"/><stop offset="0.412" stop-color="rgb(82,82,82)"/><stop offset="0.420" stop-color="rgb(90,90,90)"/><stop offset="0.429" stop-color="rgb(114,114,114)"/><stop offset="0.447" stop-color="rgb(215,215,215)"/><stop offset="0.455" stop-color="rgb(240,240,240)"/><stop offset="0.464" stop-color="rgb(215,215,215)"/><stop offset="0.482" stop-color="rgb(114,114,114)"/><stop offset="0.490" stop-color="rgb(90,90,90)"/><stop offset="0.499" stop-color="rgb(83,83,83)"/><stop offset="0.525" stop-color="rgb(88,88,88)"/><stop offset="0.560" stop-color="rgb(126,126,126)"/><stop offset="0.595" stop-color="rgb(92,92,92)"/><stop offset="0.674" stop-color="rgb(87,87,87)"/><stop offset="0.718" stop-color="rgb(60,60,60)"/><stop offset="0.998" stop-color="rgb(58,58,58)"/></linearGradient><linearGradient id="lg115" x1="0" y1="30.4" x2="0" y2="87.5" gradientUnits="userSpaceOnUse"><stop offset="0.000" stop-color="rgb(85,85,85)"/><stop offset="0.131" stop-color="rgb(87,87,87)"/><stop offset="0.166" stop-color="rgb(120,120,120)"/><stop offset="0.175" stop-color="rgb(121,121,121)"/><stop offset="0.201" stop-color="rgb(91,91,91)"/><stop offset="0.219" stop-color="rgb(83,83,83)"/><stop offset="0.306" stop-color="rgb(81,81,81)"/><stop offset="0.350" stop-color="rgb(93,93,93)"/><stop offset="0.412" stop-color="rgb(82,82,82)"/><stop offset="0.420" stop-color="rgb(90,90,90)"/><stop offset="0.429" stop-color="rgb(114,114,114)"/><stop offset="0.447" stop-color="rgb(215,215,215)"/><stop offset="0.455" stop-color="rgb(240,240,240)"/><stop offset="0.464" stop-color="rgb(217,217,217)"/><stop offset="0.473" stop-color="rgb(171,171,171)"/><stop offset="0.482" stop-color="rgb(140,140,140)"/><stop offset="0.508" stop-color="rgb(88,88,88)"/><stop offset="0.517" stop-color="rgb(85,85,85)"/><stop offset="0.665" stop-color="rgb(89,89,89)"/><stop offset="0.727" stop-color="rgb(59,59,59)"/><stop offset="0.998" stop-color="rgb(58,58,58)"/></linearGradient><clipPath id="gclip"><polygon points="39.8,32.20 673.6,30.59 673.6,87.5 39.8,87.5"/></clipPath><filter id="soft" x="-2%" y="-5%" width="104%" height="110%"><feGaussianBlur stdDeviation="0.55 0.75"/></filter></defs>
<polygon points="39.8,32.20 673.6,30.59 673.6,87.5 39.8,87.5" fill="#080808"/>
<g clip-path="url(#gclip)"><g filter="url(#soft)"><rect x="39.80" y="30.4" width="5.80" height="57.10" fill="url(#pg0)"/><rect x="45.60" y="30.4" width="66.40" height="57.10" fill="url(#pg1)"/><rect x="112.00" y="30.4" width="75.50" height="57.10" fill="url(#pg2)"/><rect x="187.50" y="30.4" width="56.50" height="57.10" fill="url(#pg3)"/><rect x="244.00" y="30.4" width="35.80" height="57.10" fill="url(#pg4)"/><rect x="279.80" y="30.4" width="82.70" height="57.10" fill="url(#pg5)"/><rect x="362.50" y="30.4" width="15.50" height="57.10" fill="url(#pg6)"/><rect x="378.00" y="30.4" width="13.50" height="57.10" fill="url(#pg7)"/><rect x="391.50" y="30.4" width="114.80" height="57.10" fill="url(#pg8)"/><rect x="506.30" y="30.4" width="28.20" height="57.10" fill="url(#pg9)"/><rect x="534.50" y="30.4" width="83.50" height="57.10" fill="url(#pg10)"/><rect x="618.00" y="30.4" width="15.20" height="57.10" fill="url(#pg11)"/><rect x="633.20" y="30.4" width="40.40" height="57.10" fill="url(#pg12)"/><rect x="39.70" y="30.4" width="5.20" height="57.10" fill="url(#lg0)"/><rect x="46.60" y="30.4" width="3.00" height="57.10" fill="url(#lg1)"/><rect x="51.70" y="30.4" width="3.00" height="57.10" fill="url(#lg2)"/><rect x="56.90" y="30.4" width="3.00" height="57.10" fill="url(#lg3)"/><rect x="62.00" y="30.4" width="3.00" height="57.10" fill="url(#lg4)"/><rect x="67.30" y="30.4" width="3.00" height="57.10" fill="url(#lg5)"/><rect x="72.40" y="30.4" width="3.00" height="57.10" fill="url(#lg6)"/><rect x="77.70" y="30.4" width="3.00" height="57.10" fill="url(#lg7)"/><rect x="82.70" y="30.4" width="3.00" height="57.10" fill="url(#lg8)"/><rect x="88.10" y="30.4" width="3.00" height="57.10" fill="url(#lg9)"/><rect x="93.20" y="30.4" width="3.00" height="57.10" fill="url(#lg10)"/><rect x="98.40" y="30.4" width="3.00" height="57.10" fill="url(#lg11)"/><rect x="103.50" y="30.4" width="3.00" height="57.10" fill="url(#lg12)"/><rect x="108.60" y="30.4" width="3.00" height="57.10" fill="url(#lg13)"/><rect x="113.40" y="30.4" width="2.60" height="57.10" fill="url(#lg14)"/><rect x="117.90" y="30.4" width="2.60" height="57.10" fill="url(#lg15)"/><rect x="122.70" y="30.4" width="2.60" height="57.10" fill="url(#lg16)"/><rect x="127.10" y="30.4" width="2.60" height="57.10" fill="url(#lg17)"/><rect x="131.50" y="30.4" width="2.60" height="57.10" fill="url(#lg18)"/><rect x="136.20" y="30.4" width="2.60" height="57.10" fill="url(#lg19)"/><rect x="140.50" y="30.4" width="2.60" height="57.10" fill="url(#lg20)"/><rect x="144.80" y="30.4" width="2.60" height="57.10" fill="url(#lg21)"/><rect x="149.40" y="30.4" width="2.60" height="57.10" fill="url(#lg22)"/><rect x="153.70" y="30.4" width="2.60" height="57.10" fill="url(#lg23)"/><rect x="158.20" y="30.4" width="2.60" height="57.10" fill="url(#lg24)"/><rect x="162.60" y="30.4" width="2.60" height="57.10" fill="url(#lg25)"/><rect x="167.00" y="30.4" width="2.60" height="57.10" fill="url(#lg26)"/><rect x="171.30" y="30.4" width="2.60" height="57.10" fill="url(#lg27)"/><rect x="175.70" y="30.4" width="2.60" height="57.10" fill="url(#lg28)"/><rect x="179.80" y="30.4" width="2.60" height="57.10" fill="url(#lg29)"/><rect x="184.30" y="30.4" width="2.60" height="57.10" fill="url(#lg30)"/><rect x="187.85" y="30.4" width="3.90" height="57.10" fill="url(#lg31)"/><rect x="193.65" y="30.4" width="3.90" height="57.10" fill="url(#lg32)"/><rect x="199.35" y="30.4" width="3.90" height="57.10" fill="url(#lg33)"/><rect x="205.05" y="30.4" width="3.90" height="57.10" fill="url(#lg34)"/><rect x="210.95" y="30.4" width="3.90" height="57.10" fill="url(#lg35)"/><rect x="216.85" y="30.4" width="3.90" height="57.10" fill="url(#lg36)"/><rect x="222.45" y="30.4" width="3.90" height="57.10" fill="url(#lg37)"/><rect x="228.35" y="30.4" width="3.90" height="57.10" fill="url(#lg38)"/><rect x="234.25" y="30.4" width="3.90" height="57.10" fill="url(#lg39)"/><rect x="239.95" y="30.4" width="3.90" height="57.10" fill="url(#lg40)"/><rect x="246.00" y="30.4" width="3.80" height="57.10" fill="url(#lg41)"/><rect x="251.50" y="30.4" width="3.80" height="57.10" fill="url(#lg42)"/><rect x="257.30" y="30.4" width="3.80" height="57.10" fill="url(#lg43)"/><rect x="263.20" y="30.4" width="3.80" height="57.10" fill="url(#lg44)"/><rect x="268.50" y="30.4" width="3.80" height="57.10" fill="url(#lg45)"/><rect x="274.10" y="30.4" width="3.80" height="57.10" fill="url(#lg46)"/><rect x="280.80" y="30.4" width="3.80" height="57.10" fill="url(#lg47)"/><rect x="286.65" y="30.4" width="3.80" height="57.10" fill="url(#lg48)"/><rect x="292.50" y="30.4" width="3.80" height="57.10" fill="url(#lg49)"/><rect x="298.35" y="30.4" width="3.80" height="57.10" fill="url(#lg50)"/><rect x="304.20" y="30.4" width="3.80" height="57.10" fill="url(#lg51)"/><rect x="310.05" y="30.4" width="3.80" height="57.10" fill="url(#lg52)"/><rect x="315.90" y="30.4" width="3.80" height="57.10" fill="url(#lg53)"/><rect x="321.75" y="30.4" width="3.80" height="57.10" fill="url(#lg54)"/><rect x="327.60" y="30.4" width="3.80" height="57.10" fill="url(#lg55)"/><rect x="333.45" y="30.4" width="3.80" height="57.10" fill="url(#lg56)"/><rect x="339.30" y="30.4" width="3.80" height="57.10" fill="url(#lg57)"/><rect x="345.15" y="30.4" width="3.80" height="57.10" fill="url(#lg58)"/><rect x="351.00" y="30.4" width="3.80" height="57.10" fill="url(#lg59)"/><rect x="356.85" y="30.4" width="3.80" height="57.10" fill="url(#lg60)"/><rect x="362.40" y="30.4" width="5.00" height="57.10" fill="url(#lg61)"/><rect x="368.00" y="30.4" width="4.40" height="57.10" fill="url(#lg62)"/><rect x="373.10" y="30.4" width="4.40" height="57.10" fill="url(#lg63)"/><rect x="379.20" y="30.4" width="3.40" height="57.10" fill="url(#lg64)"/><rect x="386.30" y="30.4" width="3.40" height="57.10" fill="url(#lg65)"/><rect x="392.60" y="30.4" width="3.80" height="57.10" fill="url(#lg66)"/><rect x="399.10" y="30.4" width="3.80" height="57.10" fill="url(#lg67)"/><rect x="405.10" y="30.4" width="3.80" height="57.10" fill="url(#lg68)"/><rect x="410.70" y="30.4" width="3.80" height="57.10" fill="url(#lg69)"/><rect x="416.40" y="30.4" width="3.80" height="57.10" fill="url(#lg70)"/><rect x="422.30" y="30.4" width="3.80" height="57.10" fill="url(#lg71)"/><rect x="428.00" y="30.4" width="3.80" height="57.10" fill="url(#lg72)"/><rect x="433.90" y="30.4" width="3.80" height="57.10" fill="url(#lg73)"/><rect x="439.90" y="30.4" width="3.80" height="57.10" fill="url(#lg74)"/><rect x="445.80" y="30.4" width="3.80" height="57.10" fill="url(#lg75)"/><rect x="451.30" y="30.4" width="3.80" height="57.10" fill="url(#lg76)"/><rect x="456.90" y="30.4" width="3.80" height="57.10" fill="url(#lg77)"/><rect x="462.60" y="30.4" width="3.80" height="57.10" fill="url(#lg78)"/><rect x="467.90" y="30.4" width="3.80" height="57.10" fill="url(#lg79)"/><rect x="473.90" y="30.4" width="3.80" height="57.10" fill="url(#lg80)"/><rect x="479.20" y="30.4" width="3.80" height="57.10" fill="url(#lg81)"/><rect x="485.00" y="30.4" width="3.80" height="57.10" fill="url(#lg82)"/><rect x="490.50" y="30.4" width="3.80" height="57.10" fill="url(#lg83)"/><rect x="496.10" y="30.4" width="3.80" height="57.10" fill="url(#lg84)"/><rect x="501.60" y="30.4" width="3.80" height="57.10" fill="url(#lg85)"/><rect x="506.40" y="30.4" width="4.00" height="57.10" fill="url(#lg86)"/><rect x="512.40" y="30.4" width="4.00" height="57.10" fill="url(#lg87)"/><rect x="518.00" y="30.4" width="4.00" height="57.10" fill="url(#lg88)"/><rect x="523.60" y="30.4" width="4.00" height="57.10" fill="url(#lg89)"/><rect x="529.20" y="30.4" width="4.00" height="57.10" fill="url(#lg90)"/><rect x="535.05" y="30.4" width="3.70" height="57.10" fill="url(#lg91)"/><rect x="540.75" y="30.4" width="3.70" height="57.10" fill="url(#lg92)"/><rect x="546.25" y="30.4" width="3.70" height="57.10" fill="url(#lg93)"/><rect x="551.75" y="30.4" width="3.70" height="57.10" fill="url(#lg94)"/><rect x="557.05" y="30.4" width="3.70" height="57.10" fill="url(#lg95)"/><rect x="562.65" y="30.4" width="3.70" height="57.10" fill="url(#lg96)"/><rect x="568.05" y="30.4" width="3.70" height="57.10" fill="url(#lg97)"/><rect x="573.65" y="30.4" width="3.70" height="57.10" fill="url(#lg98)"/><rect x="579.15" y="30.4" width="3.70" height="57.10" fill="url(#lg99)"/><rect x="584.65" y="30.4" width="3.70" height="57.10" fill="url(#lg100)"/><rect x="590.15" y="30.4" width="3.70" height="57.10" fill="url(#lg101)"/><rect x="595.55" y="30.4" width="3.70" height="57.10" fill="url(#lg102)"/><rect x="601.25" y="30.4" width="3.70" height="57.10" fill="url(#lg103)"/><rect x="607.05" y="30.4" width="3.70" height="57.10" fill="url(#lg104)"/><rect x="612.75" y="30.4" width="3.70" height="57.10" fill="url(#lg105)"/><rect x="618.80" y="30.4" width="4.60" height="57.10" fill="url(#lg106)"/><rect x="624.60" y="30.4" width="4.60" height="57.10" fill="url(#lg107)"/><rect x="630.10" y="30.4" width="3.80" height="57.10" fill="url(#lg108)"/><rect x="634.30" y="30.4" width="4.40" height="57.10" fill="url(#lg109)"/><rect x="639.60" y="30.4" width="4.40" height="57.10" fill="url(#lg110)"/><rect x="645.40" y="30.4" width="4.40" height="57.10" fill="url(#lg111)"/><rect x="651.20" y="30.4" width="4.40" height="57.10" fill="url(#lg112)"/><rect x="656.90" y="30.4" width="4.40" height="57.10" fill="url(#lg113)"/><rect x="662.50" y="30.4" width="4.40" height="57.10" fill="url(#lg114)"/><rect x="668.00" y="30.4" width="4.40" height="57.10" fill="url(#lg115)"/></g></g>
<rect x="77.90" y="56.20" width="10.20" height="2.2" fill="#f01414"/><path d="M84.30,53.70 L91.10,57.30 L84.30,60.90 L86.10,57.30Z" fill="#f01414"/>
<rect x="151.60" y="70.50" width="9.10" height="2.2" fill="#f01414"/><path d="M156.90,68.00 L163.70,71.60 L156.90,75.20 L158.70,71.60Z" fill="#f01414"/>
<rect x="215.70" y="55.90" width="8.80" height="2.2" fill="#f01414"/><path d="M220.70,53.40 L227.50,57.00 L220.70,60.60 L222.50,57.00Z" fill="#f01414"/>
<rect x="378.90" y="45.30" width="9.40" height="2.2" fill="#f01414"/><path d="M384.50,42.80 L391.30,46.40 L384.50,50.00 L386.30,46.40Z" fill="#f01414"/>
<rect x="397.00" y="62.90" width="10.50" height="2.2" fill="#f01414"/><path d="M403.70,60.40 L410.50,64.00 L403.70,67.60 L405.50,64.00Z" fill="#f01414"/>
<rect x="465.20" y="47.40" width="10.60" height="2.2" fill="#f01414"/><path d="M472.00,44.90 L478.80,48.50 L472.00,52.10 L473.80,48.50Z" fill="#f01414"/>
<rect x="493.20" y="70.20" width="10.20" height="2.2" fill="#f01414"/><path d="M499.60,67.70 L506.40,71.30 L499.60,74.90 L501.40,71.30Z" fill="#f01414"/>
<rect x="533.80" y="61.20" width="9.10" height="2.2" fill="#f01414"/><path d="M539.10,58.70 L545.90,62.30 L539.10,65.90 L540.90,62.30Z" fill="#f01414"/>
<rect x="618.90" y="51.30" width="9.90" height="2.2" fill="#f01414"/><path d="M625.00,48.80 L631.80,52.40 L625.00,56.00 L626.80,52.40Z" fill="#f01414"/>
<rect x="637.40" y="63.70" width="9.40" height="2.2" fill="#f01414"/><path d="M643.00,61.20 L649.80,64.80 L643.00,68.40 L644.80,64.80Z" fill="#f01414"/>
<path d="M30.4,36.7 L39.4,36.7 M34.6,33.5 L39.4,36.7 L34.6,39.900000000000006" stroke="#ee1c1c" stroke-width="1.1" fill="none"/>
<path d="M30.4,63.4 L39.4,63.4 M34.6,60.199999999999996 L39.4,63.4 L34.6,66.6" stroke="#ee1c1c" stroke-width="1.1" fill="none"/>
<text x="30" y="38.3" text-anchor="end" font-family="Liberation Serif" font-weight="bold" font-size="4.8" fill="#000" stroke="#000" stroke-width="0.25">3000 bp</text>
<text x="30" y="65.0" text-anchor="end" font-family="Liberation Serif" font-weight="bold" font-size="4.8" fill="#000" stroke="#000" stroke-width="0.25">500 bp</text>
<path d="M49.0,32.31619047619048 L49.0,25.900000000000002 Q49.0,24.1 50.8,24.1 L73.4,24.1 Q75.2,24.1 75.2,25.900000000000002 L75.2,32.31619047619048 M61.9,24.1 L61.9,17.5" stroke="#000" stroke-width="1.3" fill="none"/>
<path d="M76.8,32.19809523809524 L76.8,25.900000000000002 Q76.8,24.1 78.6,24.1 L123.0,24.1 Q124.8,24.1 124.8,25.900000000000002 L124.8,32.19809523809524 M101.1,24.1 L101.1,17.5" stroke="#000" stroke-width="1.3" fill="none"/>
<path d="M127.4,32.1002380952381 L127.4,25.8 Q127.4,24.0 129.2,24.0 L164.1,24.0 Q165.9,24.0 165.9,25.8 L165.9,32.1002380952381 M147.4,24.0 L147.4,17.5" stroke="#000" stroke-width="1.3" fill="none"/>
<path d="M167.3,31.88666666666667 L167.3,25.8 Q167.3,24.0 169.1,24.0 L253.8,24.0 Q255.6,24.0 255.6,25.8 L255.6,31.88666666666667 M211.6,24.0 L211.6,17.1" stroke="#000" stroke-width="1.3" fill="none"/>
<path d="M256.4,31.469047619047622 L256.4,25.45 Q256.4,23.65 258.2,23.65 L429.2,23.65 Q431.0,23.65 431.0,25.45 L431.0,31.469047619047622 M343.2,23.65 L343.2,16.6" stroke="#000" stroke-width="1.3" fill="none"/>
<path d="M431.8,31.063333333333336 L431.8,25.2 Q431.8,23.4 433.6,23.4 L599.6,23.4 Q601.4,23.4 601.4,25.2 L601.4,31.063333333333336 M516.5,23.4 L516.5,16.6" stroke="#000" stroke-width="1.3" fill="none"/>
<path d="M602.2,30.977380952380955 L602.2,25.1 Q602.2,23.3 604.0,23.3 L635.7,23.3 Q637.5,23.3 637.5,25.1 L637.5,30.977380952380955 M619.4,23.3 L619.4,16.7" stroke="#000" stroke-width="1.3" fill="none"/>
<path d="M639.0,30.891904761904765 L639.0,25.1 Q639.0,23.3 640.8,23.3 L671.6,23.3 Q673.4,23.3 673.4,25.1 L673.4,30.891904761904765 M656.5,23.3 L656.5,16.7" stroke="#000" stroke-width="1.3" fill="none"/>
<text x="63.7" y="14.4" text-anchor="middle" font-family="Liberation Serif" font-weight="bold" font-size="7.7" fill="#000" stroke="#000" stroke-width="0.3">L (1-6)</text>
<text x="101.45" y="14.6" text-anchor="middle" font-family="Liberation Serif" font-weight="bold" font-size="7.7" fill="#000" stroke="#000" stroke-width="0.3">U (7-16)</text>
<text x="150.0" y="14.6" text-anchor="middle" font-family="Liberation Serif" font-weight="bold" font-size="7.7" fill="#000" stroke="#000" stroke-width="0.3">BM (17-25)</text>
<text x="213.85" y="14.0" text-anchor="middle" font-family="Liberation Serif" font-weight="bold" font-size="7.7" fill="#000" stroke="#000" stroke-width="0.3">B1 (26-43)</text>
<text x="342.7" y="14.0" text-anchor="middle" font-family="Liberation Serif" font-weight="bold" font-size="7.7" fill="#000" stroke="#000" stroke-width="0.3">B2 (44-73)</text>
<text x="519.9" y="11.7" text-anchor="middle" font-family="Liberation Serif" font-weight="bold" font-size="7.7" fill="#000" stroke="#000" stroke-width="0.3">B3(74-103)</text>
<text x="608.85" y="13.4" text-anchor="middle" font-family="Liberation Serif" font-weight="bold" font-size="7.7" fill="#000" stroke="#000" stroke-width="0.3">BN(104-109)</text>
<text x="653.6" y="13.4" text-anchor="middle" font-family="Liberation Serif" font-weight="bold" font-size="7.7" fill="#000" stroke="#000" stroke-width="0.3">TN(110-115)</text>
<text x="38.4" y="30.6" font-family="Liberation Serif" font-weight="bold" font-size="8.4" letter-spacing="-0.7" fill="#000" stroke="#000" stroke-width="0.15">Ld</text>
<text transform="translate(-1.0,13.4) scale(1.03,1)" font-family="Liberation Sans" font-weight="bold" font-size="24.4" fill="#000">a</text>
<text transform="translate(-0.5,141.2) scale(1.04,1)" font-family="Liberation Sans" font-weight="bold" font-size="23.6" fill="#000">b</text>
<path d="M28.90,233.10L174.80,233.10M174.80,204.11L218.50,204.11M218.50,179.93L257.40,179.93M257.40,158.37L325.20,158.37M325.20,143.22L608.30,143.22M608.30,133.90L643.30,133.90M608.30,143.22L643.30,143.22M608.30,152.55L643.30,152.55M608.30,133.90L608.30,152.55M325.20,173.52L502.80,173.52M502.80,166.53L537.80,166.53M537.80,161.87L643.30,161.87M537.80,171.19L643.30,171.19M537.80,161.87L537.80,171.19M502.80,180.52L643.30,180.52M502.80,166.53L502.80,180.52M325.20,143.22L325.20,173.52M257.40,201.49L300.40,201.49M300.40,194.50L379.60,194.50M379.60,189.84L643.30,189.84M379.60,199.16L643.30,199.16M379.60,189.84L379.60,199.16M300.40,208.48L643.30,208.48M300.40,194.50L300.40,208.48M257.40,158.37L257.40,201.49M218.50,228.30L373.70,228.30M373.70,217.81L643.30,217.81M373.70,238.78L397.40,238.78M397.40,231.79L467.60,231.79M467.60,227.13L643.30,227.13M467.60,236.45L643.30,236.45M467.60,227.13L467.60,236.45M397.40,245.78L643.30,245.78M397.40,231.79L397.40,245.78M373.70,217.81L373.70,238.78M218.50,179.93L218.50,228.30M174.80,262.09L362.20,262.09M362.20,255.10L643.30,255.10M362.20,269.08L502.80,269.08M502.80,264.42L643.30,264.42M502.80,273.75L643.30,273.75M502.80,264.42L502.80,273.75M362.20,255.10L362.20,269.08M174.80,204.11L174.80,262.09M28.90,660.13L231.90,660.13M231.90,346.00L277.40,346.00M277.40,306.38L479.40,306.38M479.40,290.06L608.30,290.06M608.30,283.07L643.30,283.07M608.30,297.05L643.60,297.05M643.60,292.39L643.30,292.39M643.60,301.71L643.30,301.71M643.60,292.39L643.60,301.71M608.30,283.07L608.30,297.05M479.40,322.69L617.20,322.69M617.20,315.70L625.80,315.70M625.80,311.04L643.30,311.04M625.80,320.36L643.30,320.36M625.80,311.04L625.80,320.36M617.20,329.68L643.30,329.68M617.20,315.70L617.20,329.68M479.40,290.06L479.40,322.69M277.40,385.62L334.10,385.62M334.10,362.31L355.90,362.31M355.90,346.00L520.30,346.00M520.30,339.01L643.30,339.01M520.30,352.99L608.30,352.99M608.30,348.33L643.30,348.33M608.30,357.65L643.30,357.65M608.30,348.33L608.30,357.65M520.30,339.01L520.30,352.99M355.90,378.63L476.40,378.63M476.40,371.64L520.30,371.64M520.30,366.98L643.30,366.98M520.30,376.30L643.30,376.30M520.30,366.98L520.30,376.30M476.40,385.62L643.30,385.62M476.40,371.64L476.40,385.62M355.90,346.00L355.90,378.63M334.10,408.93L362.20,408.93M362.20,399.61L485.30,399.61M485.30,394.94L643.30,394.94M485.30,404.27L643.30,404.27M485.30,394.94L485.30,404.27M362.20,418.25L485.30,418.25M485.30,413.59L643.30,413.59M485.30,422.91L643.30,422.91M485.30,413.59L485.30,422.91M362.20,399.61L362.20,418.25M334.10,362.31L334.10,408.93M277.40,306.38L277.40,385.62M231.90,974.26L303.10,974.26M303.10,808.42L309.10,808.42M309.10,671.85L320.70,671.85M320.70,449.72L385.70,449.72M385.70,436.90L397.80,436.90M397.80,432.24L643.30,432.24M397.80,441.56L643.30,441.56M397.80,432.24L397.80,441.56M385.70,462.54L432.60,462.54M432.60,455.54L502.70,455.54M502.70,450.88L643.30,450.88M502.70,460.21L643.30,460.21M502.70,450.88L502.70,460.21M432.60,469.53L643.30,469.53M432.60,455.54L432.60,469.53M385.70,436.90L385.70,462.54M320.70,893.98L327.30,893.98M327.30,852.28L351.40,852.28M351.40,795.68L372.30,795.68M372.30,716.28L381.30,716.28M381.30,609.46L417.20,609.46M417.20,540.51L421.30,540.51M421.30,485.84L467.60,485.84M467.60,478.85L643.30,478.85M467.60,492.84L537.60,492.84M537.60,488.17L643.30,488.17M537.60,497.50L643.30,497.50M537.60,488.17L537.60,497.50M467.60,478.85L467.60,492.84M421.30,595.17L446.90,595.17M446.90,566.98L457.60,566.98M457.60,546.73L506.30,546.73M506.30,535.37L537.60,535.37M537.60,526.63L549.30,526.63M549.30,518.47L564.30,518.47M564.30,511.48L591.30,511.48M591.30,506.82L643.30,506.82M591.30,516.14L643.30,516.14M591.30,506.82L591.30,516.14M564.30,525.47L643.30,525.47M564.30,511.48L564.30,525.47M549.30,534.79L643.30,534.79M549.30,518.47L549.30,534.79M537.60,544.11L643.30,544.11M537.60,526.63L537.60,544.11M506.30,558.10L537.60,558.10M537.60,553.44L643.30,553.44M537.60,562.76L643.30,562.76M537.60,553.44L537.60,562.76M506.30,535.37L506.30,558.10M457.60,587.23L467.60,587.23M467.60,576.74L502.40,576.74M502.40,572.08L643.30,572.08M502.40,581.40L643.30,581.40M502.40,572.08L502.40,581.40M467.60,597.72L502.40,597.72M502.40,590.73L643.30,590.73M502.40,604.71L537.60,604.71M537.60,600.05L643.30,600.05M537.60,609.37L643.30,609.37M537.60,600.05L537.60,609.37M502.40,590.73L502.40,604.71M467.60,576.74L467.60,597.72M457.60,546.73L457.60,587.23M446.90,623.36L520.50,623.36M520.50,618.70L643.30,618.70M520.50,628.02L643.30,628.02M520.50,618.70L520.50,628.02M446.90,566.98L446.90,623.36M421.30,485.84L421.30,595.17M417.20,678.42L438.40,678.42M438.40,658.90L458.70,658.90M458.70,642.00L520.50,642.00M520.50,637.34L643.30,637.34M520.50,646.66L643.30,646.66M520.50,637.34L520.50,646.66M458.70,675.80L490.70,675.80M490.70,667.64L520.50,667.64M520.50,660.65L573.50,660.65M573.50,655.99L643.30,655.99M573.50,665.31L643.30,665.31M573.50,655.99L573.50,665.31M520.50,674.63L643.30,674.63M520.50,660.65L520.50,674.63M490.70,683.96L643.30,683.96M490.70,667.64L490.70,683.96M458.70,642.00L458.70,675.80M438.40,697.94L485.30,697.94M485.30,693.28L643.30,693.28M485.30,702.60L643.30,702.60M485.30,693.28L485.30,702.60M438.40,658.90L438.40,697.94M417.20,540.51L417.20,678.42M381.30,823.09L430.20,823.09M430.20,802.57L445.20,802.57M445.20,790.66L453.70,790.66M453.70,776.17L454.30,776.17M454.30,761.16L472.40,761.16M472.40,745.14L474.70,745.14M474.70,729.41L520.50,729.41M520.50,718.92L555.40,718.92M555.40,711.93L643.30,711.93M555.40,725.91L573.20,725.91M573.20,721.25L643.30,721.25M573.20,730.57L643.30,730.57M573.20,721.25L573.20,730.57M555.40,711.93L555.40,725.91M520.50,739.89L643.30,739.89M520.50,718.92L520.50,739.89M474.70,760.87L494.20,760.87M494.20,753.88L555.40,753.88M555.40,749.22L643.30,749.22M555.40,758.54L643.30,758.54M555.40,749.22L555.40,758.54M494.20,767.86L643.30,767.86M494.20,753.88L494.20,767.86M474.70,729.41L474.70,760.87M472.40,777.19L643.30,777.19M472.40,745.14L472.40,777.19M454.30,791.17L503.10,791.17M503.10,786.51L643.30,786.51M503.10,795.83L643.30,795.83M503.10,786.51L503.10,795.83M454.30,761.16L454.30,791.17M453.70,805.16L643.30,805.16M453.70,776.17L453.70,805.16M445.20,814.48L643.30,814.48M445.20,790.66L445.20,814.48M430.20,843.61L467.60,843.61M467.60,835.46L494.20,835.46M494.20,828.46L555.40,828.46M555.40,823.80L643.30,823.80M555.40,833.12L643.30,833.12M555.40,823.80L555.40,833.12M494.20,842.45L643.30,842.45M494.20,828.46L494.20,842.45M467.60,851.77L643.30,851.77M467.60,835.46L467.60,851.77M430.20,802.57L430.20,843.61M381.30,609.46L381.30,823.09M372.30,875.08L388.40,875.08M388.40,865.76L467.80,865.76M467.80,861.09L643.30,861.09M467.80,870.42L643.30,870.42M467.80,861.09L467.80,870.42M388.40,884.40L485.20,884.40M485.20,879.74L643.30,879.74M485.20,889.06L643.30,889.06M485.20,879.74L485.20,889.06M388.40,865.76L388.40,884.40M372.30,716.28L372.30,875.08M351.40,908.87L414.70,908.87M414.70,898.39L643.30,898.39M414.70,919.36L432.00,919.36M432.00,912.37L502.50,912.37M502.50,907.71L643.30,907.71M502.50,917.03L643.30,917.03M502.50,907.71L502.50,917.03M432.00,926.36L643.30,926.36M432.00,912.37L432.00,926.36M414.70,898.39L414.70,919.36M351.40,795.68L351.40,908.87M327.30,935.68L643.30,935.68M327.30,852.28L327.30,935.68M320.70,449.72L320.70,893.98M309.10,945.00L643.30,945.00M309.10,671.85L309.10,945.00M303.10,1140.09L331.40,1140.09M331.40,1109.10L336.60,1109.10M336.60,1068.09L372.80,1068.09M372.80,1033.28L405.80,1033.28M405.80,1008.51L414.70,1008.51M414.70,992.78L474.40,992.78M474.40,979.96L507.10,979.96M507.10,968.31L511.70,968.31M511.70,958.99L555.30,958.99M555.30,954.32L643.30,954.32M555.30,963.65L643.30,963.65M555.30,954.32L555.30,963.65M511.70,977.63L572.60,977.63M572.60,972.97L643.30,972.97M572.60,982.29L643.30,982.29M572.60,972.97L572.60,982.29M511.70,958.99L511.70,977.63M507.10,991.62L643.30,991.62M507.10,968.31L507.10,991.62M474.40,1005.60L537.90,1005.60M537.90,1000.94L643.30,1000.94M537.90,1010.26L643.30,1010.26M537.90,1000.94L537.90,1010.26M474.40,979.96L474.40,1005.60M414.70,1024.25L467.80,1024.25M467.80,1019.59L643.30,1019.59M467.80,1028.91L643.30,1028.91M467.80,1019.59L467.80,1028.91M414.70,992.78L414.70,1024.25M405.80,1058.04L502.50,1058.04M502.50,1049.88L520.60,1049.88M520.60,1042.89L537.90,1042.89M537.90,1038.23L643.30,1038.23M537.90,1047.55L643.30,1047.55M537.90,1038.23L537.90,1047.55M520.60,1056.88L643.30,1056.88M520.60,1042.89L520.60,1056.88M502.50,1066.20L643.30,1066.20M502.50,1049.88L502.50,1066.20M405.80,1008.51L405.80,1058.04M372.80,1102.91L394.60,1102.91M394.60,1087.18L450.10,1087.18M450.10,1080.18L537.90,1080.18M537.90,1075.52L643.30,1075.52M537.90,1084.85L643.30,1084.85M537.90,1075.52L537.90,1084.85M450.10,1094.17L643.30,1094.17M450.10,1080.18L450.10,1094.17M394.60,1118.64L440.90,1118.64M440.90,1108.15L520.60,1108.15M520.60,1103.49L643.30,1103.49M520.60,1112.82L643.30,1112.82M520.60,1103.49L520.60,1112.82M440.90,1129.13L459.00,1129.13M459.00,1122.14L643.30,1122.14M459.00,1136.12L485.20,1136.12M485.20,1131.46L643.30,1131.46M485.20,1140.78L643.30,1140.78M485.20,1131.46L485.20,1140.78M459.00,1122.14L459.00,1136.12M440.90,1108.15L440.90,1129.13M394.60,1087.18L394.60,1118.64M372.80,1033.28L372.80,1102.91M336.60,1150.11L643.30,1150.11M336.60,1068.09L336.60,1150.11M331.40,1171.08L375.30,1171.08M375.30,1159.43L643.30,1159.43M375.30,1182.74L423.50,1182.74M423.50,1173.41L520.60,1173.41M520.60,1168.75L643.30,1168.75M520.60,1178.08L643.30,1178.08M520.60,1168.75L520.60,1178.08M423.50,1192.06L537.90,1192.06M537.90,1187.40L643.30,1187.40M537.90,1196.72L643.30,1196.72M537.90,1187.40L537.90,1196.72M423.50,1173.41L423.50,1192.06M375.30,1159.43L375.30,1182.74M331.40,1109.10L331.40,1171.08M303.10,808.42L303.10,1140.09M231.90,346.00L231.90,974.26M28.90,233.10L28.90,660.13" stroke="#333" stroke-width="1" fill="none" stroke-linecap="square"/>
<path d="M28.9,1201.6L643.3,1201.6M28.90,1201.6L28.90,1209.3999999999999M59.62,1201.6L59.62,1206.3999999999999M90.34,1201.6L90.34,1206.3999999999999M121.06,1201.6L121.06,1206.3999999999999M151.78,1201.6L151.78,1206.3999999999999M182.50,1201.6L182.50,1209.3999999999999M213.22,1201.6L213.22,1206.3999999999999M243.94,1201.6L243.94,1206.3999999999999M274.66,1201.6L274.66,1206.3999999999999M305.38,1201.6L305.38,1206.3999999999999M336.10,1201.6L336.10,1209.3999999999999M366.82,1201.6L366.82,1206.3999999999999M397.54,1201.6L397.54,1206.3999999999999M428.26,1201.6L428.26,1206.3999999999999M458.98,1201.6L458.98,1206.3999999999999M489.70,1201.6L489.70,1209.3999999999999M520.42,1201.6L520.42,1206.3999999999999M551.14,1201.6L551.14,1206.3999999999999M581.86,1201.6L581.86,1206.3999999999999M612.58,1201.6L612.58,1206.3999999999999M643.30,1201.6L643.30,1209.3999999999999" stroke="#333" stroke-width="1" fill="none"/>
<text transform="translate(28.90,1218.8) scale(0.93,1)" class="gp" text-anchor="middle" font-family="Liberation Serif" font-size="11.2" fill="#000" stroke="#000" stroke-width="0.18">0.52</text>
<text transform="translate(182.50,1218.8) scale(0.93,1)" class="gp" text-anchor="middle" font-family="Liberation Serif" font-size="11.2" fill="#000" stroke="#000" stroke-width="0.18">0.64</text>
<text transform="translate(336.10,1218.8) scale(0.93,1)" class="gp" text-anchor="middle" font-family="Liberation Serif" font-size="11.2" fill="#000" stroke="#000" stroke-width="0.18">0.76</text>
<text transform="translate(489.70,1218.8) scale(0.93,1)" class="gp" text-anchor="middle" font-family="Liberation Serif" font-size="11.2" fill="#000" stroke="#000" stroke-width="0.18">0.88</text>
<text transform="translate(643.30,1218.8) scale(0.93,1)" class="gp" text-anchor="middle" font-family="Liberation Serif" font-size="11.2" fill="#000" stroke="#000" stroke-width="0.18">1.00</text>
<text x="336.4" y="1232.0" class="gp" text-anchor="middle" font-family="Liberation Serif" font-size="13" fill="#000">Coefficient</text>
<text transform="translate(646.6,138.25) scale(0.91,1)" font-family="Liberation Serif" font-size="13.8" fill="#000" stroke="#000" stroke-width="0.38">L</text>
<text transform="translate(646.6,147.57) scale(0.91,1)" font-family="Liberation Serif" font-size="13.8" fill="#000" stroke="#000" stroke-width="0.38">L</text>
<text transform="translate(646.6,156.90) scale(0.91,1)" font-family="Liberation Serif" font-size="13.8" fill="#000" stroke="#000" stroke-width="0.38">L</text>
<text transform="translate(646.6,166.22) scale(0.91,1)" font-family="Liberation Serif" font-size="13.8" fill="#000" stroke="#000" stroke-width="0.38">L</text>
<text transform="translate(646.6,175.54) scale(0.91,1)" font-family="Liberation Serif" font-size="13.8" fill="#000" stroke="#000" stroke-width="0.38">L</text>
<text transform="translate(646.6,184.87) scale(0.91,1)" font-family="Liberation Serif" font-size="13.8" fill="#000" stroke="#000" stroke-width="0.38">L</text>
<text transform="translate(646.6,194.19) scale(0.91,1)" font-family="Liberation Serif" font-size="13.8" fill="#000" stroke="#000" stroke-width="0.38">U</text>
<text transform="translate(646.6,203.51) scale(0.91,1)" font-family="Liberation Serif" font-size="13.8" fill="#000" stroke="#000" stroke-width="0.38">U</text>
<text transform="translate(646.6,212.83) scale(0.91,1)" font-family="Liberation Serif" font-size="13.8" fill="#000" stroke="#000" stroke-width="0.38">U</text>
<text transform="translate(646.6,222.16) scale(0.91,1)" font-family="Liberation Serif" font-size="13.8" fill="#000" stroke="#000" stroke-width="0.38">U</text>
<text transform="translate(646.6,231.48) scale(0.91,1)" font-family="Liberation Serif" font-size="13.8" fill="#000" stroke="#000" stroke-width="0.38">U</text>
<text transform="translate(646.6,240.80) scale(0.91,1)" font-family="Liberation Serif" font-size="13.8" fill="#000" stroke="#000" stroke-width="0.38">U</text>
<text transform="translate(646.6,250.13) scale(0.91,1)" font-family="Liberation Serif" font-size="13.8" fill="#000" stroke="#000" stroke-width="0.38">U</text>
<text transform="translate(646.6,259.45) scale(0.91,1)" font-family="Liberation Serif" font-size="13.8" fill="#000" stroke="#000" stroke-width="0.38">U</text>
<text transform="translate(646.6,268.77) scale(0.91,1)" font-family="Liberation Serif" font-size="13.8" fill="#000" stroke="#000" stroke-width="0.38">U</text>
<text transform="translate(646.6,278.10) scale(0.91,1)" font-family="Liberation Serif" font-size="13.8" fill="#000" stroke="#000" stroke-width="0.38">U</text>
<text transform="translate(646.6,287.42) scale(0.91,1)" font-family="Liberation Serif" font-size="13.8" fill="#000" stroke="#000" stroke-width="0.38">BM</text>
<text transform="translate(646.6,296.74) scale(0.91,1)" font-family="Liberation Serif" font-size="13.8" fill="#000" stroke="#000" stroke-width="0.38">BM</text>
<text transform="translate(646.6,306.06) scale(0.91,1)" font-family="Liberation Serif" font-size="13.8" fill="#000" stroke="#000" stroke-width="0.38">BM</text>
<text transform="translate(646.6,315.39) scale(0.91,1)" font-family="Liberation Serif" font-size="13.8" fill="#000" stroke="#000" stroke-width="0.38">BM</text>
<text transform="translate(646.6,324.71) scale(0.91,1)" font-family="Liberation Serif" font-size="13.8" fill="#000" stroke="#000" stroke-width="0.38">BM</text>
<text transform="translate(646.6,334.03) scale(0.91,1)" font-family="Liberation Serif" font-size="13.8" fill="#000" stroke="#000" stroke-width="0.38">BM</text>
<text transform="translate(646.6,343.36) scale(0.91,1)" font-family="Liberation Serif" font-size="13.8" fill="#000" stroke="#000" stroke-width="0.38">BM</text>
<text transform="translate(646.6,352.68) scale(0.91,1)" font-family="Liberation Serif" font-size="13.8" fill="#000" stroke="#000" stroke-width="0.38">BM</text>
<text transform="translate(646.6,362.00) scale(0.91,1)" font-family="Liberation Serif" font-size="13.8" fill="#000" stroke="#000" stroke-width="0.38">BM</text>
<text transform="translate(646.6,371.33) scale(0.91,1)" font-family="Liberation Serif" font-size="13.8" fill="#000" stroke="#000" stroke-width="0.38">B1</text>
<text transform="translate(646.6,380.65) scale(0.91,1)" font-family="Liberation Serif" font-size="13.8" fill="#000" stroke="#000" stroke-width="0.38">B1</text>
<text transform="translate(646.6,389.97) scale(0.91,1)" font-family="Liberation Serif" font-size="13.8" fill="#000" stroke="#000" stroke-width="0.38">B1</text>
<text transform="translate(646.6,399.29) scale(0.91,1)" font-family="Liberation Serif" font-size="13.8" fill="#000" stroke="#000" stroke-width="0.38">B1</text>
<text transform="translate(646.6,408.62) scale(0.91,1)" font-family="Liberation Serif" font-size="13.8" fill="#000" stroke="#000" stroke-width="0.38">B1</text>
<text transform="translate(646.6,417.94) scale(0.91,1)" font-family="Liberation Serif" font-size="13.8" fill="#000" stroke="#000" stroke-width="0.38">B1</text>
<text transform="translate(646.6,427.26) scale(0.91,1)" font-family="Liberation Serif" font-size="13.8" fill="#000" stroke="#000" stroke-width="0.38">B1</text>
<text transform="translate(646.6,436.59) scale(0.91,1)" font-family="Liberation Serif" font-size="13.8" fill="#000" stroke="#000" stroke-width="0.38">B1</text>
<text transform="translate(646.6,445.91) scale(0.91,1)" font-family="Liberation Serif" font-size="13.8" fill="#000" stroke="#000" stroke-width="0.38">B1</text>
<text transform="translate(646.6,455.23) scale(0.91,1)" font-family="Liberation Serif" font-size="13.8" fill="#000" stroke="#000" stroke-width="0.38">B1</text>
<text transform="translate(646.6,464.56) scale(0.91,1)" font-family="Liberation Serif" font-size="13.8" fill="#000" stroke="#000" stroke-width="0.38">B1</text>
<text transform="translate(646.6,473.88) scale(0.91,1)" font-family="Liberation Serif" font-size="13.8" fill="#000" stroke="#000" stroke-width="0.38">B1</text>
<text transform="translate(646.6,483.20) scale(0.91,1)" font-family="Liberation Serif" font-size="13.8" fill="#000" stroke="#000" stroke-width="0.38">B2</text>
<text transform="translate(646.6,492.52) scale(0.91,1)" font-family="Liberation Serif" font-size="13.8" fill="#000" stroke="#000" stroke-width="0.38">B2</text>
<text transform="translate(646.6,501.85) scale(0.91,1)" font-family="Liberation Serif" font-size="13.8" fill="#000" stroke="#000" stroke-width="0.38">B2</text>
<text transform="translate(646.6,511.17) scale(0.91,1)" font-family="Liberation Serif" font-size="13.8" fill="#000" stroke="#000" stroke-width="0.38">B3</text>
<text transform="translate(646.6,520.49) scale(0.91,1)" font-family="Liberation Serif" font-size="13.8" fill="#000" stroke="#000" stroke-width="0.38">B3</text>
<text transform="translate(646.6,529.82) scale(0.91,1)" font-family="Liberation Serif" font-size="13.8" fill="#000" stroke="#000" stroke-width="0.38">B3</text>
<text transform="translate(646.6,539.14) scale(0.91,1)" font-family="Liberation Serif" font-size="13.8" fill="#000" stroke="#000" stroke-width="0.38">B3</text>
<text transform="translate(646.6,548.46) scale(0.91,1)" font-family="Liberation Serif" font-size="13.8" fill="#000" stroke="#000" stroke-width="0.38">B3</text>
<text transform="translate(646.6,557.79) scale(0.91,1)" font-family="Liberation Serif" font-size="13.8" fill="#000" stroke="#000" stroke-width="0.38">B3</text>
<text transform="translate(646.6,567.11) scale(0.91,1)" font-family="Liberation Serif" font-size="13.8" fill="#000" stroke="#000" stroke-width="0.38">B3</text>
<text transform="translate(646.6,576.43) scale(0.91,1)" font-family="Liberation Serif" font-size="13.8" fill="#000" stroke="#000" stroke-width="0.38">B3</text>
<text transform="translate(646.6,585.75) scale(0.91,1)" font-family="Liberation Serif" font-size="13.8" fill="#000" stroke="#000" stroke-width="0.38">B3</text>
<text transform="translate(646.6,595.08) scale(0.91,1)" font-family="Liberation Serif" font-size="13.8" fill="#000" stroke="#000" stroke-width="0.38">B3</text>
<text transform="translate(646.6,604.40) scale(0.91,1)" font-family="Liberation Serif" font-size="13.8" fill="#000" stroke="#000" stroke-width="0.38">B3</text>
<text transform="translate(646.6,613.72) scale(0.91,1)" font-family="Liberation Serif" font-size="13.8" fill="#000" stroke="#000" stroke-width="0.38">B3</text>
<text transform="translate(646.6,623.05) scale(0.91,1)" font-family="Liberation Serif" font-size="13.8" fill="#000" stroke="#000" stroke-width="0.38">B3</text>
<text transform="translate(646.6,632.37) scale(0.91,1)" font-family="Liberation Serif" font-size="13.8" fill="#000" stroke="#000" stroke-width="0.38">B3</text>
<text transform="translate(646.6,641.69) scale(0.91,1)" font-family="Liberation Serif" font-size="13.8" fill="#000" stroke="#000" stroke-width="0.38">B2</text>
<text transform="translate(646.6,651.01) scale(0.91,1)" font-family="Liberation Serif" font-size="13.8" fill="#000" stroke="#000" stroke-width="0.38">B3</text>
<text transform="translate(646.6,660.34) scale(0.91,1)" font-family="Liberation Serif" font-size="13.8" fill="#000" stroke="#000" stroke-width="0.38">B2</text>
<text transform="translate(646.6,669.66) scale(0.91,1)" font-family="Liberation Serif" font-size="13.8" fill="#000" stroke="#000" stroke-width="0.38">B3</text>
<text transform="translate(646.6,678.98) scale(0.91,1)" font-family="Liberation Serif" font-size="13.8" fill="#000" stroke="#000" stroke-width="0.38">B3</text>
<text transform="translate(646.6,688.31) scale(0.91,1)" font-family="Liberation Serif" font-size="13.8" fill="#000" stroke="#000" stroke-width="0.38">B2</text>
<text transform="translate(646.6,697.63) scale(0.91,1)" font-family="Liberation Serif" font-size="13.8" fill="#000" stroke="#000" stroke-width="0.38">B3</text>
<text transform="translate(646.6,706.95) scale(0.91,1)" font-family="Liberation Serif" font-size="13.8" fill="#000" stroke="#000" stroke-width="0.38">B3</text>
<text transform="translate(646.6,716.28) scale(0.91,1)" font-family="Liberation Serif" font-size="13.8" fill="#000" stroke="#000" stroke-width="0.38">B3</text>
<text transform="translate(646.6,725.60) scale(0.91,1)" font-family="Liberation Serif" font-size="13.8" fill="#000" stroke="#000" stroke-width="0.38">B3</text>
<text transform="translate(646.6,734.92) scale(0.91,1)" font-family="Liberation Serif" font-size="13.8" fill="#000" stroke="#000" stroke-width="0.38">BN</text>
<text transform="translate(646.6,744.25) scale(0.91,1)" font-family="Liberation Serif" font-size="13.8" fill="#000" stroke="#000" stroke-width="0.38">BN</text>
<text transform="translate(646.6,753.57) scale(0.91,1)" font-family="Liberation Serif" font-size="13.8" fill="#000" stroke="#000" stroke-width="0.38">BN</text>
<text transform="translate(646.6,762.89) scale(0.91,1)" font-family="Liberation Serif" font-size="13.8" fill="#000" stroke="#000" stroke-width="0.38">BN</text>
<text transform="translate(646.6,772.21) scale(0.91,1)" font-family="Liberation Serif" font-size="13.8" fill="#000" stroke="#000" stroke-width="0.38">TN</text>
<text transform="translate(646.6,781.54) scale(0.91,1)" font-family="Liberation Serif" font-size="13.8" fill="#000" stroke="#000" stroke-width="0.38">TN</text>
<text transform="translate(646.6,790.86) scale(0.91,1)" font-family="Liberation Serif" font-size="13.8" fill="#000" stroke="#000" stroke-width="0.38">B3</text>
<text transform="translate(646.6,800.18) scale(0.91,1)" font-family="Liberation Serif" font-size="13.8" fill="#000" stroke="#000" stroke-width="0.38">BN</text>
<text transform="translate(646.6,809.51) scale(0.91,1)" font-family="Liberation Serif" font-size="13.8" fill="#000" stroke="#000" stroke-width="0.38">TN</text>
<text transform="translate(646.6,818.83) scale(0.91,1)" font-family="Liberation Serif" font-size="13.8" fill="#000" stroke="#000" stroke-width="0.38">TN</text>
<text transform="translate(646.6,828.15) scale(0.91,1)" font-family="Liberation Serif" font-size="13.8" fill="#000" stroke="#000" stroke-width="0.38">B3</text>
<text transform="translate(646.6,837.48) scale(0.91,1)" font-family="Liberation Serif" font-size="13.8" fill="#000" stroke="#000" stroke-width="0.38">BN</text>
<text transform="translate(646.6,846.80) scale(0.91,1)" font-family="Liberation Serif" font-size="13.8" fill="#000" stroke="#000" stroke-width="0.38">TN</text>
<text transform="translate(646.6,856.12) scale(0.91,1)" font-family="Liberation Serif" font-size="13.8" fill="#000" stroke="#000" stroke-width="0.38">TN</text>
<text transform="translate(646.6,865.44) scale(0.91,1)" font-family="Liberation Serif" font-size="13.8" fill="#000" stroke="#000" stroke-width="0.38">B3</text>
<text transform="translate(646.6,874.77) scale(0.91,1)" font-family="Liberation Serif" font-size="13.8" fill="#000" stroke="#000" stroke-width="0.38">B3</text>
<text transform="translate(646.6,884.09) scale(0.91,1)" font-family="Liberation Serif" font-size="13.8" fill="#000" stroke="#000" stroke-width="0.38">B3</text>
<text transform="translate(646.6,893.41) scale(0.91,1)" font-family="Liberation Serif" font-size="13.8" fill="#000" stroke="#000" stroke-width="0.38">B3</text>
<text transform="translate(646.6,902.74) scale(0.91,1)" font-family="Liberation Serif" font-size="13.8" fill="#000" stroke="#000" stroke-width="0.38">B2</text>
<text transform="translate(646.6,912.06) scale(0.91,1)" font-family="Liberation Serif" font-size="13.8" fill="#000" stroke="#000" stroke-width="0.38">B2</text>
<text transform="translate(646.6,921.38) scale(0.91,1)" font-family="Liberation Serif" font-size="13.8" fill="#000" stroke="#000" stroke-width="0.38">B2</text>
<text transform="translate(646.6,930.71) scale(0.91,1)" font-family="Liberation Serif" font-size="13.8" fill="#000" stroke="#000" stroke-width="0.38">B3</text>
<text transform="translate(646.6,940.03) scale(0.91,1)" font-family="Liberation Serif" font-size="13.8" fill="#000" stroke="#000" stroke-width="0.38">B3</text>
<text transform="translate(646.6,949.35) scale(0.91,1)" font-family="Liberation Serif" font-size="13.8" fill="#000" stroke="#000" stroke-width="0.38">B3</text>
<text transform="translate(646.6,958.67) scale(0.91,1)" font-family="Liberation Serif" font-size="13.8" fill="#000" stroke="#000" stroke-width="0.38">B1</text>
<text transform="translate(646.6,968.00) scale(0.91,1)" font-family="Liberation Serif" font-size="13.8" fill="#000" stroke="#000" stroke-width="0.38">B1</text>
<text transform="translate(646.6,977.32) scale(0.91,1)" font-family="Liberation Serif" font-size="13.8" fill="#000" stroke="#000" stroke-width="0.38">B1</text>
<text transform="translate(646.6,986.64) scale(0.91,1)" font-family="Liberation Serif" font-size="13.8" fill="#000" stroke="#000" stroke-width="0.38">B1</text>
<text transform="translate(646.6,995.97) scale(0.91,1)" font-family="Liberation Serif" font-size="13.8" fill="#000" stroke="#000" stroke-width="0.38">B2</text>
<text transform="translate(646.6,1005.29) scale(0.91,1)" font-family="Liberation Serif" font-size="13.8" fill="#000" stroke="#000" stroke-width="0.38">B2</text>
<text transform="translate(646.6,1014.61) scale(0.91,1)" font-family="Liberation Serif" font-size="13.8" fill="#000" stroke="#000" stroke-width="0.38">B2</text>
<text transform="translate(646.6,1023.94) scale(0.91,1)" font-family="Liberation Serif" font-size="13.8" fill="#000" stroke="#000" stroke-width="0.38">B2</text>
<text transform="translate(646.6,1033.26) scale(0.91,1)" font-family="Liberation Serif" font-size="13.8" fill="#000" stroke="#000" stroke-width="0.38">B2</text>
<text transform="translate(646.6,1042.58) scale(0.91,1)" font-family="Liberation Serif" font-size="13.8" fill="#000" stroke="#000" stroke-width="0.38">B2</text>
<text transform="translate(646.6,1051.90) scale(0.91,1)" font-family="Liberation Serif" font-size="13.8" fill="#000" stroke="#000" stroke-width="0.38">B2</text>
<text transform="translate(646.6,1061.23) scale(0.91,1)" font-family="Liberation Serif" font-size="13.8" fill="#000" stroke="#000" stroke-width="0.38">B2</text>
<text transform="translate(646.6,1070.55) scale(0.91,1)" font-family="Liberation Serif" font-size="13.8" fill="#000" stroke="#000" stroke-width="0.38">B2</text>
<text transform="translate(646.6,1079.87) scale(0.91,1)" font-family="Liberation Serif" font-size="13.8" fill="#000" stroke="#000" stroke-width="0.38">B1</text>
<text transform="translate(646.6,1089.20) scale(0.91,1)" font-family="Liberation Serif" font-size="13.8" fill="#000" stroke="#000" stroke-width="0.38">B1</text>
<text transform="translate(646.6,1098.52) scale(0.91,1)" font-family="Liberation Serif" font-size="13.8" fill="#000" stroke="#000" stroke-width="0.38">B2</text>
<text transform="translate(646.6,1107.84) scale(0.91,1)" font-family="Liberation Serif" font-size="13.8" fill="#000" stroke="#000" stroke-width="0.38">B2</text>
<text transform="translate(646.6,1117.16) scale(0.91,1)" font-family="Liberation Serif" font-size="13.8" fill="#000" stroke="#000" stroke-width="0.38">B2</text>
<text transform="translate(646.6,1126.49) scale(0.91,1)" font-family="Liberation Serif" font-size="13.8" fill="#000" stroke="#000" stroke-width="0.38">B2</text>
<text transform="translate(646.6,1135.81) scale(0.91,1)" font-family="Liberation Serif" font-size="13.8" fill="#000" stroke="#000" stroke-width="0.38">B2</text>
<text transform="translate(646.6,1145.13) scale(0.91,1)" font-family="Liberation Serif" font-size="13.8" fill="#000" stroke="#000" stroke-width="0.38">B2</text>
<text transform="translate(646.6,1154.46) scale(0.91,1)" font-family="Liberation Serif" font-size="13.8" fill="#000" stroke="#000" stroke-width="0.38">B2</text>
<text transform="translate(646.6,1163.78) scale(0.91,1)" font-family="Liberation Serif" font-size="13.8" fill="#000" stroke="#000" stroke-width="0.38">B2</text>
<text transform="translate(646.6,1173.10) scale(0.91,1)" font-family="Liberation Serif" font-size="13.8" fill="#000" stroke="#000" stroke-width="0.38">B2</text>
<text transform="translate(646.6,1182.43) scale(0.91,1)" font-family="Liberation Serif" font-size="13.8" fill="#000" stroke="#000" stroke-width="0.38">B2</text>
<text transform="translate(646.6,1191.75) scale(0.91,1)" font-family="Liberation Serif" font-size="13.8" fill="#000" stroke="#000" stroke-width="0.38">B2</text>
<text transform="translate(646.6,1201.07) scale(0.91,1)" font-family="Liberation Serif" font-size="13.8" fill="#000" stroke="#000" stroke-width="0.38">B2</text>
</svg></body></html>
